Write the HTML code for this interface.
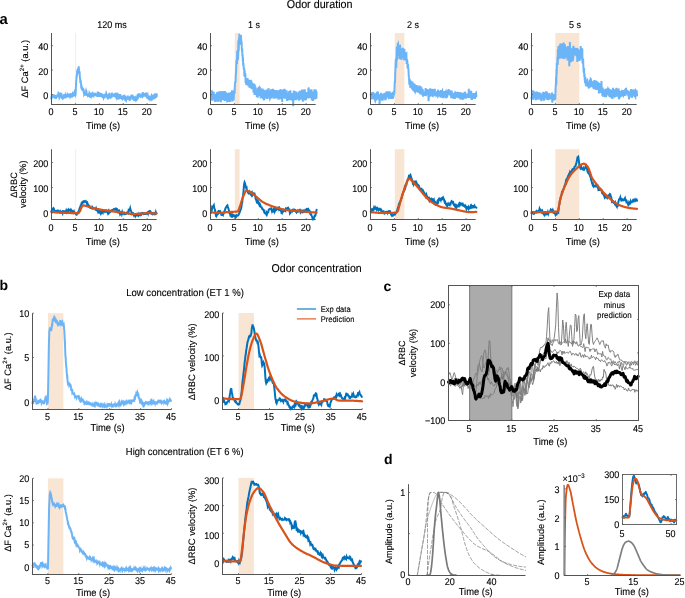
<!DOCTYPE html><html><head><meta charset="utf-8"><style>html,body{margin:0;padding:0;background:#fff;}svg{display:block;}#w{will-change:transform;width:685px;height:598px;overflow:hidden;}</style></head><body><div id="w">
<svg width="685" height="598" viewBox="0 0 685 598" text-rendering="geometricPrecision" stroke-linejoin="round" font-family='"Liberation Sans", sans-serif'>
<rect width="685" height="598" fill="#fff"/>
<text x="-0.60" y="23.60" font-size="14.8" text-anchor="start" font-weight="bold" fill="#000" >a</text>
<text transform="translate(286.80,7.90) scale(0.93,1)" font-size="11.56" text-anchor="start" font-weight="normal" fill="#000000"  stroke="#000000" stroke-width="0.12">Odor duration</text>
<text transform="translate(111.90,28.00) scale(0.93,1)" font-size="9.68" text-anchor="middle" font-weight="normal" fill="#000000"  stroke="#000000" stroke-width="0.12">120 ms</text>
<rect x="75.21" y="33.00" width="0.90" height="71.50" fill="#fbe9dc" />
<rect x="75.21" y="149.20" width="0.90" height="70.30" fill="#fbe9dc" />
<text transform="translate(254.00,28.00) scale(0.93,1)" font-size="9.68" text-anchor="middle" font-weight="normal" fill="#000000"  stroke="#000000" stroke-width="0.12">1 s</text>
<rect x="234.81" y="33.00" width="4.78" height="71.50" fill="#f9e5d3" />
<rect x="234.81" y="149.20" width="4.78" height="70.30" fill="#f9e5d3" />
<text transform="translate(413.00,28.00) scale(0.93,1)" font-size="9.68" text-anchor="middle" font-weight="normal" fill="#000000"  stroke="#000000" stroke-width="0.12">2 s</text>
<rect x="394.81" y="33.00" width="9.56" height="71.50" fill="#f9e5d3" />
<rect x="394.81" y="149.20" width="9.56" height="70.30" fill="#f9e5d3" />
<text transform="translate(575.00,28.00) scale(0.93,1)" font-size="9.68" text-anchor="middle" font-weight="normal" fill="#000000"  stroke="#000000" stroke-width="0.12">5 s</text>
<rect x="555.41" y="33.00" width="23.91" height="71.50" fill="#f9e5d3" />
<rect x="555.41" y="149.20" width="23.91" height="70.30" fill="#f9e5d3" />
<polyline points="51.40,98.77 51.60,95.57 51.80,98.27 52.00,95.19 52.20,96.45 52.40,94.63 52.60,96.46 52.80,97.01 53.00,95.12 53.20,97.47 53.40,96.73 53.60,94.36 53.80,95.50 54.00,96.63 54.20,97.23 54.40,98.03 54.60,94.93 54.80,97.49 55.00,94.95 55.20,98.67 55.40,95.51 55.60,98.20 55.80,96.10 56.00,98.90 56.20,97.33 56.40,96.36 56.60,96.17 56.80,96.97 57.00,95.30 57.20,97.30 57.40,96.23 57.60,94.33 57.80,97.23 58.00,96.14 58.20,94.80 58.40,93.64 58.60,94.07 58.80,94.40 59.00,94.38 59.20,96.01 59.40,97.52 59.60,97.05 59.80,94.30 60.00,92.69 60.20,94.55 60.40,94.45 60.60,95.67 60.80,94.90 61.00,95.25 61.20,93.06 61.40,93.96 61.60,96.93 61.80,98.73 62.00,97.83 62.20,98.16 62.40,97.51 62.60,97.02 62.80,99.32 63.00,97.89 63.20,97.24 63.40,95.54 63.60,98.06 63.80,94.41 64.00,97.93 64.20,98.41 64.40,95.75 64.60,97.45 64.80,95.55 65.00,95.78 65.20,96.91 65.40,95.39 65.60,96.14 65.80,95.33 66.00,96.06 66.20,96.97 66.40,96.77 66.60,96.33 66.80,96.26 67.00,96.07 67.20,95.53 67.40,95.01 67.60,95.84 67.80,97.39 68.00,95.01 68.20,97.42 68.40,95.87 68.60,95.62 68.80,96.79 69.00,95.61 69.20,93.65 69.40,95.92 69.60,96.32 69.80,93.49 70.00,96.61 70.20,94.83 70.40,94.67 70.60,96.51 70.80,95.65 71.00,94.40 71.20,94.53 71.40,96.06 71.60,97.67 71.80,94.20 72.00,94.87 72.20,94.46 72.40,97.13 72.60,95.19 72.80,94.67 73.00,93.84 73.20,96.52 73.40,94.50 73.60,92.51 73.80,95.89 74.00,92.99 74.20,92.79 74.40,92.25 74.60,93.44 74.80,95.90 75.00,92.94 75.20,94.30 75.40,95.19 75.60,94.78 75.80,91.04 76.00,84.28 76.20,81.20 76.40,79.17 76.60,75.58 76.80,76.54 77.00,74.48 77.20,70.66 77.40,71.25 77.60,70.30 77.80,68.60 78.00,70.23 78.20,70.05 78.40,69.64 78.60,67.31 78.80,67.32 79.00,70.98 79.20,74.20 79.40,71.73 79.60,71.90 79.80,76.46 80.00,78.90 80.20,79.52 80.40,83.31 80.60,82.08 80.80,81.84 81.00,83.72 81.20,86.64 81.40,86.43 81.60,86.21 81.80,87.06 82.00,89.84 82.20,87.53 82.40,88.21 82.60,91.05 82.80,88.11 83.00,89.51 83.20,88.48 83.40,91.44 83.60,89.08 83.80,93.40 84.00,90.95 84.20,94.30 84.40,93.93 84.60,92.96 84.80,93.37 85.00,93.23 85.20,92.73 85.40,95.77 85.60,92.76 85.80,92.59 86.00,91.94 86.20,90.74 86.40,91.23 86.60,93.39 86.80,95.23 87.00,93.50 87.20,95.92 87.40,94.03 87.60,94.77 87.80,94.19 88.00,95.72 88.20,95.80 88.40,95.49 88.60,93.42 88.80,95.37 89.00,94.82 89.20,95.01 89.40,93.33 89.60,93.77 89.80,95.08 90.00,97.71 90.20,95.39 90.40,93.24 90.60,95.17 90.80,94.23 91.00,92.56 91.20,94.39 91.40,93.34 91.60,96.04 91.80,95.66 92.00,94.31 92.20,96.22 92.40,94.73 92.60,96.95 92.80,96.11 93.00,94.04 93.20,94.40 93.40,94.39 93.60,94.82 93.80,92.84 94.00,93.45 94.20,94.15 94.40,95.01 94.60,93.54 94.80,96.02 95.00,92.88 95.20,95.85 95.40,93.25 95.60,94.95 95.80,93.52 96.00,95.33 96.20,93.34 96.40,96.17 96.60,94.43 96.80,96.60 97.00,93.81 97.20,96.80 97.40,94.50 97.60,93.14 97.80,91.67 98.00,93.94 98.20,96.29 98.40,93.80 98.60,95.99 98.80,92.25 99.00,93.26 99.20,97.00 99.40,94.85 99.60,93.36 99.80,95.12 100.00,95.69 100.20,93.44 100.40,94.81 100.60,96.93 100.80,94.44 101.00,92.97 101.20,96.23 101.40,95.26 101.60,96.03 101.80,96.52 102.00,93.79 102.20,94.63 102.40,97.02 102.60,97.53 102.80,95.66 103.00,96.20 103.20,97.45 103.40,96.43 103.60,97.45 103.80,96.85 104.00,96.98 104.20,95.34 104.40,95.44 104.60,95.23 104.80,95.75 105.00,96.72 105.20,93.79 105.40,94.23 105.60,95.54 105.80,95.16 106.00,94.10 106.20,93.29 106.40,93.86 106.60,97.03 106.80,95.59 107.00,95.16 107.20,95.21 107.40,98.40 107.60,95.78 107.80,97.27 108.00,96.99 108.20,97.22 108.40,99.28 108.60,96.78 108.80,93.70 109.00,96.46 109.20,96.78 109.40,96.74 109.60,92.80 109.80,97.38 110.00,96.48 110.20,96.67 110.40,97.16 110.60,97.46 110.80,97.16 111.00,95.45 111.20,96.74 111.40,97.95 111.60,97.05 111.80,95.07 112.00,95.40 112.20,96.55 112.40,95.51 112.60,96.12 112.80,94.61 113.00,94.69 113.20,93.81 113.40,95.63 113.60,93.51 113.80,95.89 114.00,95.94 114.20,95.86 114.40,95.46 114.60,94.55 114.80,94.30 115.00,94.52 115.20,93.29 115.40,96.86 115.60,97.61 115.80,95.89 116.00,92.67 116.20,97.58 116.40,96.90 116.60,99.16 116.80,98.07 117.00,95.01 117.20,97.45 117.40,97.03 117.60,98.43 117.80,97.20 118.00,94.32 118.20,94.48 118.40,98.31 118.60,99.55 118.80,95.47 119.00,94.25 119.20,97.07 119.40,94.48 119.60,96.76 119.80,98.67 120.00,97.86 120.20,94.00 120.40,95.76 120.60,98.29 120.80,95.49 121.00,97.31 121.20,98.60 121.40,96.42 121.60,95.58 121.80,98.64 122.00,98.88 122.20,97.37 122.40,98.59 122.60,99.82 122.80,95.63 123.00,98.07 123.20,96.59 123.40,97.87 123.60,98.76 123.80,95.73 124.00,94.87 124.20,97.41 124.40,98.92 124.60,96.43 124.80,99.52 125.00,99.75 125.20,99.02 125.40,98.45 125.60,99.55 125.80,99.50 126.00,99.85 126.20,96.67 126.40,99.75 126.60,97.24 126.80,99.49 127.00,98.82 127.20,99.68 127.40,97.66 127.60,97.36 127.80,99.62 128.00,98.38 128.20,99.46 128.40,97.34 128.60,98.12 128.80,99.63 129.00,96.35 129.20,98.45 129.40,99.79 129.60,99.90 129.80,96.96 130.00,97.77 130.20,99.71 130.40,98.53 130.60,99.62 130.80,95.98 131.00,96.89 131.20,95.44 131.40,98.35 131.60,94.77 131.80,95.85 132.00,97.09 132.20,94.72 132.40,96.79 132.60,97.89 132.80,95.59 133.00,98.95 133.20,99.17 133.40,97.01 133.60,99.83 133.80,98.58 134.00,99.61 134.20,100.90 134.40,96.38 134.60,98.47 134.80,100.21 135.00,100.65 135.20,98.05 135.40,98.64 135.60,97.76 135.80,98.04 136.00,98.97 136.20,99.79 136.40,99.40 136.60,98.23 136.80,97.19 137.00,99.08 137.20,96.15 137.40,95.59 137.60,95.93 137.80,94.98 138.00,98.00 138.20,97.69 138.40,95.52 138.60,95.40 138.80,94.68 139.00,93.52 139.20,94.54 139.40,95.45 139.60,93.27 139.80,96.88 140.00,94.55 140.20,95.16 140.40,94.36 140.60,95.24 140.80,97.77 141.00,94.56 141.20,96.39 141.40,97.50 141.60,95.87 141.80,97.23 142.00,94.95 142.20,95.94 142.40,92.84 142.60,95.58 142.80,92.24 143.00,93.33 143.20,95.80 143.40,95.45 143.60,94.30 143.80,93.20 144.00,93.82 144.20,94.94 144.40,93.88 144.60,95.12 144.80,96.68 145.00,93.69 145.20,95.04 145.40,96.61 145.60,94.12 145.80,96.03 146.00,92.63 146.20,93.65 146.40,96.18 146.60,95.31 146.80,97.82 147.00,96.22 147.20,94.88 147.40,94.57 147.60,98.91 147.80,94.98 148.00,98.68 148.20,98.11 148.40,98.71 148.60,98.89 148.80,96.60 149.00,95.79 149.20,98.95 149.40,97.18 149.60,95.48 149.80,99.61 150.00,97.49 150.20,98.43 150.40,97.84 150.60,96.74 150.80,98.78 151.00,99.00 151.20,95.96 151.40,96.62 151.60,98.73 151.80,95.50 152.00,95.77 152.20,99.07 152.40,99.18 152.60,98.45 152.80,94.90 153.00,96.72 153.20,98.30 153.40,97.49 153.60,95.26 153.80,98.33 154.00,96.05 154.20,95.44 154.40,95.72 154.60,99.18 154.80,96.17 155.00,96.95 155.20,98.08 155.40,93.31 155.60,97.90 155.80,94.74 156.00,97.69 156.20,95.24 156.40,96.60 156.60,96.47 156.80,94.20" fill="none" stroke="#6cb4f8" stroke-width="2.0" stroke-linejoin="miter" stroke-linecap="round" />
<polyline points="211.00,91.85 211.20,96.12 211.40,97.25 211.60,90.28 211.80,91.76 212.00,100.49 212.20,90.99 212.40,91.59 212.60,100.68 212.80,97.28 213.00,94.35 213.20,95.86 213.40,97.66 213.60,93.69 213.80,91.81 214.00,98.76 214.20,97.67 214.40,96.04 214.60,99.55 214.80,96.77 215.00,102.07 215.20,93.94 215.40,98.15 215.60,97.52 215.80,96.22 216.00,98.63 216.20,94.40 216.40,100.68 216.60,101.60 216.80,92.81 217.00,96.34 217.20,93.64 217.40,91.89 217.60,101.46 217.80,96.62 218.00,93.67 218.20,99.40 218.40,93.80 218.60,101.77 218.80,93.94 219.00,91.70 219.20,93.39 219.40,94.43 219.60,95.43 219.80,94.73 220.00,98.66 220.20,94.85 220.40,91.12 220.60,92.82 220.80,102.12 221.00,96.22 221.20,98.79 221.40,91.73 221.60,91.31 221.80,100.30 222.00,96.90 222.20,93.82 222.40,94.02 222.60,91.59 222.80,92.16 223.00,96.66 223.20,99.90 223.40,95.48 223.60,91.36 223.80,98.32 224.00,92.38 224.20,91.19 224.40,97.38 224.60,100.98 224.80,90.95 225.00,99.86 225.20,93.05 225.40,92.31 225.60,91.72 225.80,94.49 226.00,99.14 226.20,96.37 226.40,100.71 226.60,93.96 226.80,93.85 227.00,93.07 227.20,101.12 227.40,100.97 227.60,94.71 227.80,96.53 228.00,95.48 228.20,100.40 228.40,92.73 228.60,93.50 228.80,97.56 229.00,95.85 229.20,102.08 229.40,100.89 229.60,98.14 229.80,98.94 230.00,98.89 230.20,99.56 230.40,101.63 230.60,92.58 230.80,97.91 231.00,92.13 231.20,95.25 231.40,98.54 231.60,99.75 231.80,98.40 232.00,90.37 232.20,93.91 232.40,91.84 232.60,101.47 232.80,92.12 233.00,93.55 233.20,94.86 233.40,91.55 233.60,100.52 233.80,97.66 234.00,92.41 234.20,91.36 234.40,89.62 234.60,93.74 234.80,87.46 235.00,83.20 235.20,81.69 235.40,82.99 235.60,80.98 235.80,74.19 236.00,72.94 236.20,66.64 236.40,61.34 236.60,60.39 236.80,59.58 237.00,63.99 237.20,52.77 237.40,50.43 237.60,56.11 237.80,60.28 238.00,58.16 238.20,52.26 238.40,40.58 238.60,51.27 238.80,48.05 239.00,38.16 239.20,41.90 239.40,33.70 239.60,44.82 239.80,43.10 240.00,44.12 240.20,43.49 240.40,35.20 240.60,43.96 240.80,35.90 241.00,35.06 241.20,40.02 241.40,42.89 241.60,41.25 241.80,48.79 242.00,51.50 242.20,48.31 242.40,55.99 242.60,54.32 242.80,61.31 243.00,57.28 243.20,65.64 243.40,63.18 243.60,66.29 243.80,68.49 244.00,68.46 244.20,67.92 244.40,76.24 244.60,70.02 244.80,74.06 245.00,76.94 245.20,73.11 245.40,75.31 245.60,82.08 245.80,83.14 246.00,82.32 246.20,84.92 246.40,84.06 246.60,79.74 246.80,83.26 247.00,80.03 247.20,84.41 247.40,80.91 247.60,78.00 247.80,85.32 248.00,84.51 248.20,85.43 248.40,83.84 248.60,86.34 248.80,83.55 249.00,84.77 249.20,79.90 249.40,85.12 249.60,87.75 249.80,86.34 250.00,86.55 250.20,83.59 250.40,87.60 250.60,79.75 250.80,87.51 251.00,82.71 251.20,80.41 251.40,85.73 251.60,83.71 251.80,84.15 252.00,89.22 252.20,82.53 252.40,87.75 252.60,85.75 252.80,87.40 253.00,87.63 253.20,84.20 253.40,89.04 253.60,92.71 253.80,85.55 254.00,83.57 254.20,84.64 254.40,89.38 254.60,94.98 254.80,84.57 255.00,95.04 255.20,90.52 255.40,86.61 255.60,89.95 255.80,88.23 256.00,94.15 256.20,92.57 256.40,89.76 256.60,90.03 256.80,96.95 257.00,95.58 257.20,91.62 257.40,91.42 257.60,94.79 257.80,97.80 258.00,87.78 258.20,88.86 258.40,91.04 258.60,93.28 258.80,88.50 259.00,88.70 259.20,90.40 259.40,92.48 259.60,95.83 259.80,94.77 260.00,88.08 260.20,88.39 260.40,92.85 260.60,97.67 260.80,98.15 261.00,92.08 261.20,97.22 261.40,97.69 261.60,91.97 261.80,96.00 262.00,91.33 262.20,88.66 262.40,93.51 262.60,88.44 262.80,95.33 263.00,97.59 263.20,98.93 263.40,92.98 263.60,89.76 263.80,99.02 264.00,98.91 264.20,100.27 264.40,95.80 264.60,96.42 264.80,92.95 265.00,90.20 265.20,91.86 265.40,96.38 265.60,91.67 265.80,95.65 266.00,93.30 266.20,92.92 266.40,98.53 266.60,89.41 266.80,93.74 267.00,90.31 267.20,98.90 267.40,94.10 267.60,92.10 267.80,90.23 268.00,94.72 268.20,92.23 268.40,89.89 268.60,88.24 268.80,91.99 269.00,94.09 269.20,93.56 269.40,97.46 269.60,97.95 269.80,98.55 270.00,97.78 270.20,94.33 270.40,95.04 270.60,92.89 270.80,93.10 271.00,89.40 271.20,98.59 271.40,91.97 271.60,89.37 271.80,94.12 272.00,96.12 272.20,97.16 272.40,92.89 272.60,96.52 272.80,90.47 273.00,88.90 273.20,95.54 273.40,94.44 273.60,98.71 273.80,93.91 274.00,98.40 274.20,90.45 274.40,90.00 274.60,96.24 274.80,95.41 275.00,90.19 275.20,90.99 275.40,92.88 275.60,92.63 275.80,95.26 276.00,98.36 276.20,92.84 276.40,91.59 276.60,96.07 276.80,89.99 277.00,94.94 277.20,94.04 277.40,95.27 277.60,91.33 277.80,97.02 278.00,97.35 278.20,97.90 278.40,99.60 278.60,92.46 278.80,95.21 279.00,93.02 279.20,89.98 279.40,97.65 279.60,96.00 279.80,98.47 280.00,97.89 280.20,99.18 280.40,90.48 280.60,89.26 280.80,91.62 281.00,94.22 281.20,97.20 281.40,94.35 281.60,94.96 281.80,97.32 282.00,89.52 282.20,101.98 282.40,89.92 282.60,91.76 282.80,97.24 283.00,96.62 283.20,93.75 283.40,92.65 283.60,98.35 283.80,92.51 284.00,89.62 284.20,91.49 284.40,88.76 284.60,97.35 284.80,89.40 285.00,98.80 285.20,90.51 285.40,92.34 285.60,95.13 285.80,92.25 286.00,93.69 286.20,90.98 286.40,93.89 286.60,90.33 286.80,92.83 287.00,101.05 287.20,93.93 287.40,94.13 287.60,98.83 287.80,100.55 288.00,94.07 288.20,95.36 288.40,99.43 288.60,100.29 288.80,96.83 289.00,91.90 289.20,91.47 289.40,97.76 289.60,97.34 289.80,99.50 290.00,98.43 290.20,93.95 290.40,90.28 290.60,100.06 290.80,97.59 291.00,96.48 291.20,97.66 291.40,94.28 291.60,94.24 291.80,96.77 292.00,95.76 292.20,98.68 292.40,100.65 292.60,99.22 292.80,94.06 293.00,93.80 293.20,106.17 293.40,94.17 293.60,98.43 293.80,90.43 294.00,94.63 294.20,95.89 294.40,99.62 294.60,100.02 294.80,91.98 295.00,96.72 295.20,96.89 295.40,91.32 295.60,99.15 295.80,95.53 296.00,100.20 296.20,91.75 296.40,96.24 296.60,93.33 296.80,96.91 297.00,96.13 297.20,95.63 297.40,93.38 297.60,95.68 297.80,93.97 298.00,99.57 298.20,94.53 298.40,95.45 298.60,93.21 298.80,93.44 299.00,100.76 299.20,93.01 299.40,99.11 299.60,95.59 299.80,99.90 300.00,90.67 300.20,98.99 300.40,96.94 300.60,94.41 300.80,96.55 301.00,96.91 301.20,94.08 301.40,96.60 301.60,91.98 301.80,89.54 302.00,97.16 302.20,95.01 302.40,100.56 302.60,93.16 302.80,99.86 303.00,101.69 303.20,100.48 303.40,101.02 303.60,91.36 303.80,91.43 304.00,91.95 304.20,89.45 304.40,90.41 304.60,90.56 304.80,89.33 305.00,100.03 305.20,93.81 305.40,96.91 305.60,94.97 305.80,99.15 306.00,100.21 306.20,95.29 306.40,97.14 306.60,92.03 306.80,93.81 307.00,92.63 307.20,93.89 307.40,94.25 307.60,96.32 307.80,93.26 308.00,92.83 308.20,98.52 308.40,88.54 308.60,88.38 308.80,89.18 309.00,97.92 309.20,94.77 309.40,95.79 309.60,98.20 309.80,89.83 310.00,97.86 310.20,90.34 310.40,93.64 310.60,95.33 310.80,97.27 311.00,91.29 311.20,93.98 311.40,89.37 311.60,92.15 311.80,100.32 312.00,99.88 312.20,96.31 312.40,98.98 312.60,100.29 312.80,93.54 313.00,100.85 313.20,94.79 313.40,91.45 313.60,95.72 313.80,96.03 314.00,97.29 314.20,96.68 314.40,89.36 314.60,95.86 314.80,99.43 315.00,95.93 315.20,99.30 315.40,94.10 315.60,97.49 315.80,89.59 316.00,98.59 316.20,93.20 316.40,98.79 316.60,92.37" fill="none" stroke="#6cb4f8" stroke-width="2.0" stroke-linejoin="miter" stroke-linecap="round" />
<polyline points="370.80,93.66 371.00,99.51 371.20,93.60 371.40,93.61 371.60,95.22 371.80,93.89 372.00,96.79 372.20,92.27 372.40,98.36 372.60,99.04 372.80,91.95 373.00,95.95 373.20,92.51 373.40,93.17 373.60,94.92 373.80,95.56 374.00,95.60 374.20,99.37 374.40,94.07 374.60,93.65 374.80,98.25 375.00,99.99 375.20,100.56 375.40,99.66 375.60,93.30 375.80,101.01 376.00,98.35 376.20,99.47 376.40,95.52 376.60,93.03 376.80,97.46 377.00,92.00 377.20,97.28 377.40,92.30 377.60,91.45 377.80,97.80 378.00,92.33 378.20,99.76 378.40,93.68 378.60,98.07 378.80,96.53 379.00,95.65 379.20,94.61 379.40,99.61 379.60,104.12 379.80,98.16 380.00,96.97 380.20,97.54 380.40,95.95 380.60,96.10 380.80,98.78 381.00,93.72 381.20,92.89 381.40,99.26 381.60,99.34 381.80,96.18 382.00,98.88 382.20,98.77 382.40,100.84 382.60,93.95 382.80,100.27 383.00,97.53 383.20,96.32 383.40,97.72 383.60,96.40 383.80,95.26 384.00,93.69 384.20,98.62 384.40,97.88 384.60,92.75 384.80,94.93 385.00,98.02 385.20,99.37 385.40,100.26 385.60,94.25 385.80,99.39 386.00,97.67 386.20,92.25 386.40,92.99 386.60,93.02 386.80,91.46 387.00,96.10 387.20,93.02 387.40,96.29 387.60,91.20 387.80,97.27 388.00,96.70 388.20,97.05 388.40,95.32 388.60,94.82 388.80,92.86 389.00,98.79 389.20,92.68 389.40,95.57 389.60,92.29 389.80,91.50 390.00,96.40 390.20,98.27 390.40,94.70 390.60,97.95 390.80,98.78 391.00,96.32 391.20,98.85 391.40,95.17 391.60,94.00 391.80,94.75 392.00,92.82 392.20,93.40 392.40,98.10 392.60,98.77 392.80,91.73 393.00,97.09 393.20,97.28 393.40,96.71 393.60,94.91 393.80,94.43 394.00,95.25 394.20,90.25 394.40,93.32 394.60,85.15 394.80,81.10 395.00,82.86 395.20,73.50 395.40,69.58 395.60,64.11 395.80,60.02 396.00,58.63 396.20,67.84 396.40,62.15 396.60,54.85 396.80,46.49 397.00,60.26 397.20,53.75 397.40,59.41 397.60,52.47 397.80,44.16 398.00,43.83 398.20,55.73 398.40,45.96 398.60,44.73 398.80,49.29 399.00,46.47 399.20,46.49 399.40,55.61 399.60,50.28 399.80,59.09 400.00,44.68 400.20,48.02 400.40,57.70 400.60,50.62 400.80,57.21 401.00,52.14 401.20,51.81 401.40,59.97 401.60,51.58 401.80,55.65 402.00,56.24 402.20,48.40 402.40,49.10 402.60,51.28 402.80,47.74 403.00,58.31 403.20,56.40 403.40,53.24 403.60,54.67 403.80,49.28 404.00,54.29 404.20,60.51 404.40,48.78 404.60,57.41 404.80,57.72 405.00,52.33 405.20,53.01 405.40,52.03 405.60,57.10 405.80,55.14 406.00,52.78 406.20,55.23 406.40,54.85 406.60,64.09 406.80,60.48 407.00,59.72 407.20,60.02 407.40,62.25 407.60,68.23 407.80,64.35 408.00,64.71 408.20,68.76 408.40,69.05 408.60,72.22 408.80,77.29 409.00,76.49 409.20,82.25 409.40,84.75 409.60,78.90 409.80,85.15 410.00,84.49 410.20,87.75 410.40,81.64 410.60,86.88 410.80,82.78 411.00,81.60 411.20,81.82 411.40,88.02 411.60,84.09 411.80,87.64 412.00,87.55 412.20,87.97 412.40,88.78 412.60,81.59 412.80,90.19 413.00,87.52 413.20,88.70 413.40,88.37 413.60,89.59 413.80,89.94 414.00,88.16 414.20,83.55 414.40,88.69 414.60,83.81 414.80,86.59 415.00,86.67 415.20,86.24 415.40,86.28 415.60,91.51 415.80,91.18 416.00,88.92 416.20,90.25 416.40,85.04 416.60,86.96 416.80,90.47 417.00,88.08 417.20,88.69 417.40,90.52 417.60,86.21 417.80,92.24 418.00,88.06 418.20,85.52 418.40,88.90 418.60,93.02 418.80,88.39 419.00,86.22 419.20,87.99 419.40,91.28 419.60,87.41 419.80,87.09 420.00,87.66 420.20,93.18 420.40,94.36 420.60,87.41 420.80,90.59 421.00,91.61 421.20,86.43 421.40,93.40 421.60,92.41 421.80,92.63 422.00,90.96 422.20,94.05 422.40,93.99 422.60,89.79 422.80,89.92 423.00,96.65 423.20,92.73 423.40,91.85 423.60,95.89 423.80,93.98 424.00,93.87 424.20,93.91 424.40,94.02 424.60,92.66 424.80,95.29 425.00,93.75 425.20,94.20 425.40,93.99 425.60,87.93 425.80,96.04 426.00,94.75 426.20,88.98 426.40,94.00 426.60,93.71 426.80,91.61 427.00,90.23 427.20,92.16 427.40,89.01 427.60,91.31 427.80,93.28 428.00,94.80 428.20,93.90 428.40,96.30 428.60,101.18 428.80,96.77 429.00,94.75 429.20,91.93 429.40,89.81 429.60,93.88 429.80,93.15 430.00,88.45 430.20,89.87 430.40,96.53 430.60,94.57 430.80,95.24 431.00,90.49 431.20,91.31 431.40,92.87 431.60,91.70 431.80,88.70 432.00,91.68 432.20,93.37 432.40,90.98 432.60,95.61 432.80,95.75 433.00,89.09 433.20,91.75 433.40,92.67 433.60,91.19 433.80,95.67 434.00,89.94 434.20,95.08 434.40,91.02 434.60,95.61 434.80,88.70 435.00,95.16 435.20,96.16 435.40,94.02 435.60,93.15 435.80,93.66 436.00,91.38 436.20,92.59 436.40,94.48 436.60,94.07 436.80,93.61 437.00,96.55 437.20,91.35 437.40,95.40 437.60,96.64 437.80,92.00 438.00,89.69 438.20,95.92 438.40,95.62 438.60,93.52 438.80,96.26 439.00,90.71 439.20,95.16 439.40,94.54 439.60,93.07 439.80,96.33 440.00,90.69 440.20,92.63 440.40,93.63 440.60,97.73 440.80,96.05 441.00,89.91 441.20,94.22 441.40,90.36 441.60,91.98 441.80,96.99 442.00,91.26 442.20,90.91 442.40,97.68 442.60,92.32 442.80,95.47 443.00,92.75 443.20,98.11 443.40,96.39 443.60,96.54 443.80,91.14 444.00,92.92 444.20,96.79 444.40,92.35 444.60,91.06 444.80,97.58 445.00,92.70 445.20,95.51 445.40,92.52 445.60,92.11 445.80,94.67 446.00,96.41 446.20,97.51 446.40,98.16 446.60,94.81 446.80,96.20 447.00,93.31 447.20,97.46 447.40,92.66 447.60,90.62 447.80,91.51 448.00,90.39 448.20,94.65 448.40,90.36 448.60,89.16 448.80,91.50 449.00,95.31 449.20,91.97 449.40,91.23 449.60,91.28 449.80,90.80 450.00,94.38 450.20,93.25 450.40,94.88 450.60,90.25 450.80,95.86 451.00,93.66 451.20,97.67 451.40,98.09 451.60,90.44 451.80,95.29 452.00,93.02 452.20,96.16 452.40,92.45 452.60,96.08 452.80,97.89 453.00,96.49 453.20,94.77 453.40,97.51 453.60,98.88 453.80,94.08 454.00,93.16 454.20,94.99 454.40,95.13 454.60,94.57 454.80,98.87 455.00,92.88 455.20,92.40 455.40,92.63 455.60,95.92 455.80,94.30 456.00,96.00 456.20,97.58 456.40,94.58 456.60,92.63 456.80,95.75 457.00,93.02 457.20,93.78 457.40,91.74 457.60,96.21 457.80,93.40 458.00,97.45 458.20,94.85 458.40,98.26 458.60,94.48 458.80,97.99 459.00,92.15 459.20,94.56 459.40,94.63 459.60,95.36 459.80,93.32 460.00,94.02 460.20,99.56 460.40,92.16 460.60,96.10 460.80,99.43 461.00,95.53 461.20,95.31 461.40,95.57 461.60,92.95 461.80,93.60 462.00,97.53 462.20,96.98 462.40,93.62 462.60,95.92 462.80,99.93 463.00,93.55 463.20,98.33 463.40,98.90 463.60,95.67 463.80,92.67 464.00,95.76 464.20,98.28 464.40,97.32 464.60,98.53 464.80,95.92 465.00,91.90 465.20,92.40 465.40,98.17 465.60,95.95 465.80,98.60 466.00,97.80 466.20,95.82 466.40,95.75 466.60,97.67 466.80,93.70 467.00,94.95 467.20,97.82 467.40,96.85 467.60,93.53 467.80,94.69 468.00,93.59 468.20,98.07 468.40,92.98 468.60,96.34 468.80,88.83 469.00,92.09 469.20,91.40 469.40,93.93 469.60,98.00 469.80,95.12 470.00,96.02 470.20,98.00 470.40,95.87 470.60,98.28 470.80,93.21 471.00,94.11 471.20,90.68 471.40,98.27 471.60,99.55 471.80,98.29 472.00,99.94 472.20,93.70 472.40,94.52 472.60,94.36 472.80,95.16 473.00,95.97 473.20,96.14 473.40,93.81 473.60,96.72 473.80,97.67 474.00,98.13 474.20,93.11 474.40,99.06 474.60,93.78 474.80,94.69 475.00,98.88 475.20,93.21 475.40,95.46 475.60,95.04 475.80,93.13 476.00,92.85 476.20,94.25 476.40,96.43" fill="none" stroke="#6cb4f8" stroke-width="2.0" stroke-linejoin="miter" stroke-linecap="round" />
<polyline points="531.50,98.37 531.70,97.84 531.90,97.35 532.10,92.86 532.30,91.03 532.50,98.72 532.70,95.42 532.90,90.20 533.10,98.28 533.30,99.76 533.50,93.63 533.70,98.39 533.90,91.41 534.10,94.87 534.30,97.85 534.50,94.79 534.70,95.58 534.90,91.79 535.10,97.57 535.30,95.67 535.50,93.57 535.70,98.51 535.90,100.10 536.10,96.81 536.30,98.03 536.50,99.96 536.70,91.45 536.90,96.48 537.10,99.59 537.30,92.22 537.50,93.33 537.70,96.39 537.90,97.38 538.10,96.13 538.30,96.75 538.50,92.35 538.70,98.41 538.90,94.69 539.10,92.21 539.30,99.69 539.50,96.88 539.70,95.40 539.90,98.17 540.10,95.64 540.30,92.87 540.50,97.39 540.70,98.53 540.90,98.71 541.10,97.04 541.30,100.27 541.50,100.25 541.70,99.61 541.90,95.28 542.10,94.62 542.30,96.47 542.50,97.46 542.70,93.14 542.90,96.90 543.10,95.62 543.30,91.85 543.50,95.84 543.70,95.47 543.90,100.22 544.10,92.16 544.30,99.63 544.50,99.48 544.70,96.60 544.90,92.90 545.10,98.00 545.30,92.34 545.50,93.89 545.70,96.64 545.90,94.56 546.10,95.02 546.30,93.76 546.50,91.23 546.70,94.32 546.90,98.69 547.10,98.77 547.30,92.53 547.50,97.10 547.70,95.28 547.90,95.41 548.10,100.21 548.30,98.86 548.50,96.06 548.70,95.88 548.90,99.38 549.10,94.24 549.30,98.13 549.50,93.01 549.70,98.18 549.90,95.59 550.10,97.43 550.30,99.41 550.50,94.84 550.70,98.66 550.90,96.41 551.10,96.56 551.30,95.89 551.50,95.00 551.70,98.33 551.90,95.11 552.10,92.61 552.30,102.78 552.50,94.61 552.70,95.98 552.90,99.09 553.10,96.09 553.30,95.58 553.50,93.93 553.70,98.24 553.90,100.66 554.10,98.64 554.30,100.01 554.50,96.07 554.70,96.15 554.90,96.62 555.10,97.60 555.30,99.68 555.50,91.75 555.70,85.39 555.90,85.18 556.10,76.59 556.30,84.58 556.50,68.96 556.70,74.36 556.90,62.84 557.10,64.05 557.30,62.38 557.50,57.09 557.70,65.05 557.90,49.28 558.10,60.11 558.30,50.82 558.50,46.11 558.70,47.44 558.90,55.94 559.10,58.61 559.30,56.18 559.50,47.87 559.70,50.94 559.90,44.44 560.10,49.96 560.30,47.60 560.50,43.54 560.70,48.00 560.90,58.45 561.10,51.92 561.30,47.82 561.50,44.79 561.70,49.01 561.90,44.19 562.10,43.46 562.30,44.80 562.50,55.49 562.70,58.73 562.90,44.53 563.10,53.59 563.30,53.78 563.50,51.24 563.70,42.62 563.90,53.48 564.10,49.04 564.30,57.83 564.50,59.05 564.70,52.92 564.90,44.41 565.10,48.12 565.30,53.68 565.50,57.66 565.70,50.65 565.90,49.70 566.10,53.58 566.30,57.21 566.50,46.84 566.70,53.94 566.90,54.28 567.10,52.01 567.30,50.13 567.50,60.45 567.70,58.31 567.90,47.49 568.10,46.03 568.30,49.96 568.50,58.32 568.70,47.91 568.90,51.04 569.10,56.90 569.30,66.32 569.50,58.98 569.70,58.86 569.90,42.05 570.10,54.31 570.30,57.76 570.50,56.24 570.70,55.76 570.90,59.72 571.10,61.93 571.30,61.41 571.50,50.86 571.70,48.35 571.90,50.75 572.10,59.12 572.30,50.50 572.50,57.36 572.70,54.47 572.90,61.32 573.10,46.79 573.30,58.80 573.50,45.87 573.70,55.71 573.90,54.18 574.10,50.10 574.30,50.50 574.50,52.59 574.70,54.22 574.90,49.32 575.10,53.71 575.30,47.80 575.50,54.28 575.70,54.58 575.90,51.45 576.10,53.02 576.30,54.73 576.50,54.15 576.70,48.12 576.90,48.82 577.10,49.87 577.30,62.04 577.50,54.21 577.70,57.95 577.90,50.06 578.10,55.26 578.30,54.47 578.50,50.67 578.70,51.01 578.90,50.93 579.10,58.86 579.30,58.96 579.50,60.92 579.70,52.36 579.90,54.66 580.10,57.27 580.30,54.49 580.50,59.37 580.70,46.09 580.90,57.04 581.10,47.96 581.30,53.50 581.50,51.94 581.70,53.01 581.90,58.20 582.10,48.54 582.30,49.19 582.50,63.39 582.70,58.76 582.90,59.13 583.10,58.45 583.30,64.63 583.50,68.76 583.70,72.67 583.90,69.52 584.10,69.42 584.30,76.78 584.50,74.14 584.70,79.06 584.90,80.95 585.10,83.08 585.30,76.89 585.50,79.49 585.70,81.62 585.90,85.69 586.10,82.35 586.30,82.43 586.50,86.50 586.70,79.97 586.90,80.77 587.10,80.52 587.30,84.00 587.50,81.30 587.70,82.99 587.90,84.92 588.10,85.17 588.30,87.09 588.50,82.02 588.70,87.93 588.90,88.40 589.10,85.31 589.30,82.38 589.50,88.10 589.70,79.59 589.90,86.55 590.10,84.52 590.30,80.60 590.50,83.58 590.70,79.01 590.90,79.24 591.10,83.64 591.30,86.90 591.50,85.49 591.70,81.00 591.90,81.65 592.10,87.00 592.30,81.46 592.50,87.53 592.70,85.56 592.90,84.15 593.10,85.04 593.30,85.46 593.50,81.41 593.70,89.18 593.90,84.56 594.10,86.09 594.30,80.15 594.50,87.96 594.70,86.44 594.90,82.17 595.10,88.47 595.30,88.54 595.50,84.52 595.70,82.36 595.90,87.68 596.10,80.61 596.30,89.33 596.50,89.75 596.70,81.31 596.90,89.39 597.10,83.11 597.30,88.01 597.50,88.15 597.70,81.91 597.90,83.55 598.10,89.91 598.30,88.22 598.50,87.50 598.70,83.42 598.90,93.40 599.10,82.93 599.30,85.19 599.50,85.19 599.70,83.46 599.90,87.54 600.10,83.55 600.30,92.83 600.50,88.54 600.70,91.19 600.90,89.55 601.10,86.40 601.30,89.78 601.50,81.04 601.70,89.57 601.90,92.52 602.10,88.84 602.30,95.82 602.50,93.55 602.70,87.54 602.90,91.75 603.10,96.63 603.30,91.27 603.50,89.56 603.70,91.66 603.90,93.20 604.10,92.48 604.30,90.60 604.50,92.84 604.70,93.06 604.90,95.19 605.10,97.27 605.30,93.66 605.50,88.68 605.70,89.47 605.90,90.89 606.10,97.11 606.30,88.46 606.50,93.91 606.70,91.43 606.90,90.67 607.10,94.17 607.30,94.83 607.50,95.28 607.70,89.88 607.90,89.17 608.10,89.76 608.30,90.15 608.50,89.90 608.70,92.07 608.90,90.46 609.10,93.51 609.30,96.61 609.50,94.89 609.70,88.97 609.90,97.11 610.10,91.67 610.30,90.33 610.50,91.24 610.70,89.81 610.90,91.99 611.10,93.91 611.30,90.75 611.50,98.11 611.70,92.52 611.90,93.95 612.10,91.20 612.30,96.70 612.50,98.88 612.70,91.90 612.90,87.68 613.10,93.81 613.30,91.16 613.50,89.41 613.70,91.75 613.90,94.61 614.10,93.88 614.30,89.25 614.50,97.19 614.70,92.68 614.90,96.31 615.10,91.69 615.30,96.26 615.50,96.11 615.70,88.88 615.90,96.55 616.10,94.56 616.30,93.15 616.50,87.72 616.70,93.99 616.90,94.54 617.10,96.55 617.30,92.01 617.50,88.89 617.70,95.31 617.90,91.70 618.10,91.33 618.30,95.32 618.50,89.78 618.70,89.71 618.90,99.12 619.10,98.47 619.30,97.44 619.50,94.73 619.70,94.33 619.90,92.45 620.10,90.74 620.30,97.58 620.50,92.90 620.70,96.99 620.90,90.85 621.10,92.20 621.30,93.74 621.50,93.17 621.70,92.08 621.90,91.99 622.10,89.96 622.30,94.46 622.50,93.43 622.70,96.48 622.90,90.16 623.10,94.31 623.30,94.79 623.50,93.27 623.70,93.57 623.90,93.48 624.10,92.10 624.30,93.52 624.50,92.83 624.70,90.66 624.90,95.91 625.10,91.01 625.30,88.86 625.50,93.21 625.70,95.56 625.90,88.91 626.10,88.80 626.30,91.71 626.50,91.19 626.70,89.83 626.90,91.29 627.10,92.43 627.30,90.97 627.50,94.08 627.70,93.38 627.90,93.03 628.10,90.56 628.30,96.33 628.50,95.93 628.70,95.17 628.90,93.33 629.10,99.42 629.30,96.42 629.50,97.65 629.70,95.25 629.90,95.49 630.10,96.13 630.30,91.46 630.50,91.02 630.70,95.65 630.90,91.77 631.10,89.13 631.30,92.82 631.50,96.56 631.70,93.04 631.90,94.80 632.10,97.83 632.30,91.50 632.50,91.33 632.70,89.81 632.90,92.86 633.10,90.72 633.30,94.64 633.50,91.88 633.70,89.22 633.90,95.19 634.10,90.46 634.30,96.55 634.50,91.67 634.70,94.04 634.90,94.76 635.10,96.75 635.30,97.05 635.50,91.50 635.70,90.80 635.90,91.40 636.10,91.86 636.30,96.51 636.50,94.61 636.70,90.23 636.90,94.52 637.10,95.51" fill="none" stroke="#6cb4f8" stroke-width="2.0" stroke-linejoin="miter" stroke-linecap="round" />
<polyline points="51.40,211.10 51.80,210.55 52.20,209.02 52.60,209.15 53.00,208.67 53.40,208.04 53.80,208.44 54.20,210.64 54.60,210.53 55.00,210.69 55.40,211.52 55.80,211.10 56.20,211.18 56.60,210.85 57.00,210.70 57.40,212.31 57.80,212.24 58.20,210.88 58.60,210.65 59.00,211.08 59.40,211.94 59.80,212.43 60.20,212.35 60.60,211.59 61.00,212.87 61.40,212.87 61.80,212.47 62.20,211.97 62.60,213.02 63.00,211.17 63.40,211.23 63.80,211.62 64.20,211.39 64.60,211.90 65.00,211.89 65.40,211.73 65.80,211.84 66.20,210.64 66.60,211.81 67.00,210.72 67.40,211.13 67.80,210.49 68.20,211.41 68.60,209.69 69.00,210.17 69.40,210.43 69.80,210.39 70.20,208.99 70.60,210.96 71.00,209.89 71.40,210.60 71.80,210.85 72.20,210.86 72.60,211.48 73.00,211.70 73.40,212.56 73.80,211.79 74.20,213.73 74.60,212.44 75.00,213.16 75.40,213.08 75.80,213.31 76.20,214.57 76.60,214.73 77.00,213.93 77.40,213.18 77.80,212.51 78.20,212.47 78.60,211.17 79.00,210.96 79.40,208.99 79.80,207.71 80.20,207.30 80.60,205.79 81.00,205.88 81.40,203.85 81.80,202.58 82.20,202.59 82.60,203.03 83.00,201.79 83.40,201.29 83.80,201.50 84.20,201.90 84.60,201.30 85.00,201.61 85.40,201.51 85.80,201.13 86.20,202.12 86.60,202.58 87.00,203.88 87.40,203.23 87.80,205.01 88.20,204.69 88.60,205.14 89.00,206.81 89.40,207.14 89.80,206.76 90.20,207.69 90.60,208.04 91.00,208.10 91.40,207.99 91.80,208.33 92.20,207.14 92.60,207.84 93.00,208.42 93.40,207.96 93.80,208.26 94.20,208.31 94.60,208.54 95.00,208.81 95.40,208.90 95.80,210.45 96.20,208.85 96.60,210.08 97.00,210.30 97.40,210.84 97.80,210.35 98.20,212.15 98.60,211.75 99.00,212.27 99.40,211.18 99.80,211.85 100.20,211.65 100.60,212.86 101.00,211.55 101.40,211.15 101.80,212.25 102.20,210.76 102.60,210.96 103.00,211.92 103.40,210.12 103.80,210.18 104.20,210.79 104.60,210.74 105.00,211.92 105.40,211.80 105.80,211.58 106.20,210.63 106.60,211.11 107.00,211.79 107.40,211.72 107.80,212.87 108.20,211.70 108.60,212.60 109.00,211.20 109.40,212.33 109.80,211.81 110.20,211.98 110.60,211.56 111.00,211.21 111.40,210.27 111.80,210.24 112.20,210.22 112.60,209.94 113.00,209.88 113.40,209.46 113.80,209.01 114.20,209.11 114.60,209.30 115.00,209.57 115.40,209.41 115.80,207.77 116.20,209.62 116.60,209.44 117.00,209.31 117.40,210.94 117.80,210.56 118.20,211.85 118.60,211.29 119.00,212.05 119.40,211.36 119.80,212.98 120.20,211.50 120.60,213.15 121.00,212.24 121.40,212.30 121.80,213.79 122.20,212.21 122.60,213.49 123.00,213.07 123.40,212.73 123.80,212.55 124.20,214.18 124.60,214.20 125.00,214.05 125.40,213.19 125.80,212.97 126.20,213.79 126.60,213.52 127.00,212.63 127.40,212.42 127.80,212.04 128.20,212.62 128.60,210.29 129.00,210.67 129.40,209.50 129.80,209.56 130.20,208.20 130.60,209.98 131.00,210.65 131.40,212.10 131.80,213.51 132.20,212.87 132.60,213.32 133.00,213.15 133.40,214.52 133.80,215.29 134.20,214.07 134.60,214.27 135.00,214.95 135.40,216.05 135.80,215.13 136.20,215.21 136.60,215.02 137.00,215.45 137.40,215.31 137.80,215.54 138.20,214.41 138.60,215.55 139.00,215.00 139.40,213.96 139.80,213.65 140.20,214.52 140.60,213.64 141.00,213.57 141.40,214.25 141.80,213.22 142.20,213.34 142.60,212.96 143.00,213.22 143.40,213.16 143.80,214.13 144.20,214.11 144.60,213.64 145.00,213.97 145.40,214.01 145.80,213.71 146.20,213.97 146.60,213.62 147.00,213.45 147.40,213.65 147.80,211.56 148.20,213.12 148.60,211.68 149.00,211.42 149.40,211.28 149.80,210.99 150.20,211.19 150.60,212.85 151.00,212.66 151.40,213.45 151.80,213.18 152.20,214.03 152.60,214.25 153.00,213.44 153.40,213.09 153.80,213.33 154.20,213.75 154.60,213.31 155.00,214.26 155.40,214.11 155.80,212.32 156.20,213.60 156.60,213.28" fill="none" stroke="#0072bd" stroke-width="2.0" stroke-linejoin="miter" stroke-linecap="round" />
<polyline points="51.40,212.10 51.90,212.13 52.40,212.16 52.90,212.19 53.40,212.22 53.90,212.25 54.40,212.28 54.90,212.31 55.40,212.34 55.90,212.37 56.40,212.39 56.90,212.42 57.40,212.45 57.90,212.47 58.40,212.50 58.90,212.53 59.40,212.55 59.90,212.58 60.40,212.60 60.90,212.62 61.40,212.65 61.90,212.67 62.40,212.69 62.90,212.71 63.40,212.74 63.90,212.76 64.40,212.78 64.90,212.80 65.40,212.82 65.90,212.84 66.40,212.86 66.90,212.88 67.40,212.90 67.90,212.92 68.40,212.94 68.90,212.96 69.40,212.98 69.90,213.00 70.40,213.02 70.90,213.04 71.40,213.06 71.90,213.08 72.40,213.09 72.90,213.11 73.40,213.12 73.90,213.14 74.40,213.15 74.90,213.16 75.40,213.17 75.90,213.18 76.40,213.19 76.90,213.19 77.40,213.20 77.90,213.20 78.40,213.11 78.90,212.66 79.40,211.95 79.90,211.15 80.40,210.21 80.90,208.89 81.40,207.57 81.90,206.61 82.40,206.11 82.90,205.70 83.40,205.45 83.90,205.41 84.40,205.49 84.90,205.64 85.40,205.81 85.90,205.97 86.40,206.11 86.90,206.25 87.40,206.40 87.90,206.54 88.40,206.69 88.90,206.85 89.40,207.00 89.90,207.15 90.40,207.30 90.90,207.44 91.40,207.58 91.90,207.72 92.40,207.85 92.90,207.98 93.40,208.10 93.90,208.21 94.40,208.33 94.90,208.44 95.40,208.54 95.90,208.65 96.40,208.75 96.90,208.86 97.40,208.96 97.90,209.06 98.40,209.16 98.90,209.25 99.40,209.35 99.90,209.44 100.40,209.53 100.90,209.62 101.40,209.71 101.90,209.80 102.40,209.88 102.90,209.97 103.40,210.05 103.90,210.13 104.40,210.22 104.90,210.30 105.40,210.37 105.90,210.45 106.40,210.53 106.90,210.61 107.40,210.68 107.90,210.76 108.40,210.83 108.90,210.90 109.40,210.97 109.90,211.04 110.40,211.11 110.90,211.17 111.40,211.24 111.90,211.31 112.40,211.37 112.90,211.43 113.40,211.50 113.90,211.56 114.40,211.62 114.90,211.69 115.40,211.75 115.90,211.81 116.40,211.87 116.90,211.93 117.40,211.99 117.90,212.05 118.40,212.12 118.90,212.18 119.40,212.24 119.90,212.30 120.40,212.36 120.90,212.42 121.40,212.49 121.90,212.55 122.40,212.61 122.90,212.68 123.40,212.75 123.90,212.83 124.40,212.91 124.90,212.99 125.40,213.07 125.90,213.15 126.40,213.24 126.90,213.32 127.40,213.40 127.90,213.48 128.40,213.55 128.90,213.63 129.40,213.70 129.90,213.76 130.40,213.82 130.90,213.87 131.40,213.91 131.90,213.95 132.40,213.97 132.90,213.99 133.40,214.00 133.90,214.00 134.40,213.99 134.90,213.99 135.40,213.98 135.90,213.96 136.40,213.95 136.90,213.93 137.40,213.91 137.90,213.89 138.40,213.87 138.90,213.85 139.40,213.83 139.90,213.80 140.40,213.78 140.90,213.74 141.40,213.69 141.90,213.63 142.40,213.57 142.90,213.50 143.40,213.44 143.90,213.38 144.40,213.32 144.90,213.27 145.40,213.23 145.90,213.21 146.40,213.20 146.90,213.20 147.40,213.20 147.90,213.20 148.40,213.20 148.90,213.21 149.40,213.21 149.90,213.22 150.40,213.22 150.90,213.23 151.40,213.24 151.90,213.26 152.40,213.28 152.90,213.30 153.40,213.32 153.90,213.35 154.40,213.38 154.90,213.42 155.40,213.46 155.90,213.50 156.40,213.56" fill="none" stroke="#d95319" stroke-width="2.2" stroke-linejoin="round" stroke-linecap="round" />
<polyline points="211.00,212.81 211.40,210.64 211.80,210.32 212.20,206.87 212.60,207.15 213.00,207.28 213.40,205.84 213.80,205.19 214.20,207.88 214.60,208.91 215.00,209.74 215.40,212.64 215.80,214.81 216.20,214.14 216.60,215.72 217.00,214.96 217.40,213.63 217.80,212.63 218.20,213.05 218.60,211.00 219.00,211.01 219.40,211.64 219.80,211.82 220.20,211.51 220.60,212.84 221.00,213.69 221.40,214.96 221.80,215.06 222.20,215.01 222.60,214.18 223.00,214.78 223.40,212.98 223.80,213.18 224.20,211.80 224.60,211.05 225.00,209.79 225.40,208.70 225.80,207.75 226.20,207.13 226.60,206.41 227.00,205.69 227.40,205.36 227.80,207.12 228.20,207.87 228.60,209.28 229.00,210.63 229.40,213.16 229.80,213.38 230.20,214.72 230.60,213.97 231.00,215.48 231.40,216.47 231.80,216.11 232.20,215.05 232.60,216.20 233.00,215.74 233.40,217.06 233.80,215.16 234.20,215.31 234.60,215.58 235.00,216.00 235.40,217.11 235.80,216.20 236.20,216.46 236.60,215.22 237.00,215.39 237.40,215.58 237.80,215.46 238.20,215.29 238.60,214.70 239.00,213.64 239.40,212.94 239.80,212.25 240.20,210.51 240.60,210.01 241.00,208.82 241.40,207.09 241.80,203.80 242.20,202.75 242.60,198.66 243.00,196.13 243.40,193.22 243.80,187.07 244.20,183.79 244.60,182.33 245.00,183.24 245.40,184.75 245.80,187.10 246.20,188.23 246.60,187.80 247.00,190.88 247.40,191.04 247.80,191.47 248.20,192.93 248.60,193.39 249.00,193.11 249.40,193.33 249.80,192.07 250.20,192.90 250.60,194.21 251.00,194.73 251.40,193.53 251.80,194.72 252.20,193.32 252.60,194.70 253.00,193.82 253.40,193.25 253.80,193.27 254.20,194.02 254.60,193.84 255.00,195.61 255.40,196.97 255.80,199.32 256.20,199.89 256.60,201.33 257.00,200.55 257.40,202.23 257.80,202.73 258.20,202.10 258.60,203.82 259.00,203.83 259.40,204.95 259.80,203.99 260.20,204.92 260.60,206.32 261.00,207.10 261.40,207.33 261.80,207.38 262.20,208.94 262.60,208.98 263.00,209.46 263.40,210.06 263.80,210.99 264.20,209.68 264.60,211.76 265.00,213.13 265.40,213.08 265.80,213.26 266.20,214.12 266.60,212.92 267.00,214.16 267.40,213.02 267.80,212.75 268.20,212.37 268.60,210.02 269.00,209.35 269.40,209.24 269.80,209.06 270.20,208.55 270.60,208.46 271.00,208.33 271.40,209.45 271.80,210.75 272.20,209.08 272.60,210.54 273.00,209.85 273.40,211.26 273.80,210.80 274.20,209.58 274.60,211.10 275.00,209.64 275.40,210.33 275.80,209.55 276.20,209.84 276.60,208.98 277.00,209.27 277.40,209.24 277.80,208.00 278.20,207.51 278.60,207.39 279.00,209.04 279.40,208.32 279.80,209.72 280.20,209.63 280.60,210.56 281.00,210.83 281.40,212.35 281.80,211.89 282.20,212.83 282.60,211.93 283.00,211.37 283.40,211.45 283.80,210.23 284.20,210.65 284.60,210.35 285.00,210.73 285.40,211.03 285.80,209.02 286.20,209.53 286.60,209.47 287.00,208.97 287.40,207.93 287.80,208.10 288.20,210.32 288.60,208.71 289.00,209.44 289.40,209.50 289.80,212.37 290.20,211.39 290.60,212.36 291.00,211.48 291.40,211.32 291.80,210.83 292.20,211.19 292.60,209.88 293.00,210.11 293.40,210.40 293.80,209.59 294.20,209.57 294.60,209.80 295.00,210.36 295.40,211.15 295.80,210.62 296.20,211.31 296.60,212.22 297.00,211.42 297.40,210.86 297.80,211.74 298.20,211.56 298.60,211.18 299.00,210.23 299.40,210.23 299.80,209.89 300.20,211.18 300.60,209.45 301.00,211.39 301.40,210.67 301.80,210.66 302.20,212.35 302.60,212.44 303.00,211.04 303.40,211.44 303.80,210.81 304.20,212.12 304.60,212.12 305.00,210.50 305.40,210.37 305.80,209.50 306.20,209.39 306.60,209.13 307.00,210.23 307.40,209.05 307.80,209.23 308.20,208.99 308.60,210.35 309.00,210.38 309.40,210.48 309.80,211.24 310.20,213.57 310.60,214.36 311.00,214.12 311.40,214.80 311.80,216.02 312.20,216.96 312.60,218.70 313.00,218.17 313.40,217.80 313.80,218.52 314.20,217.44 314.60,215.83 315.00,215.96 315.40,215.39 315.80,213.71 316.20,211.46 316.60,209.73" fill="none" stroke="#0072bd" stroke-width="2.0" stroke-linejoin="miter" stroke-linecap="round" />
<polyline points="211.00,212.10 211.50,212.21 212.00,212.30 212.50,212.39 213.00,212.48 213.50,212.56 214.00,212.63 214.50,212.69 215.00,212.75 215.50,212.80 216.00,212.84 216.50,212.88 217.00,212.91 217.50,212.94 218.00,212.96 218.50,212.98 219.00,212.99 219.50,213.00 220.00,213.00 220.50,212.99 221.00,212.97 221.50,212.92 222.00,212.87 222.50,212.81 223.00,212.74 223.50,212.66 224.00,212.57 224.50,212.49 225.00,212.40 225.50,212.32 226.00,212.24 226.50,212.17 227.00,212.10 227.50,212.04 228.00,212.00 228.50,211.97 229.00,211.94 229.50,211.91 230.00,211.89 230.50,211.87 231.00,211.86 231.50,211.85 232.00,211.83 232.50,211.82 233.00,211.81 233.50,211.79 234.00,211.77 234.50,211.75 235.00,211.73 235.50,211.70 236.00,211.66 236.50,211.62 237.00,211.57 237.50,211.51 238.00,211.20 238.50,210.26 239.00,208.92 239.50,207.42 240.00,206.00 240.50,204.59 241.00,203.02 241.50,201.37 242.00,199.76 242.50,198.27 243.00,197.00 243.50,195.83 244.00,194.62 244.50,193.44 245.00,192.38 245.50,191.50 246.00,190.89 246.50,190.61 247.00,190.63 247.50,190.75 248.00,190.94 248.50,191.18 249.00,191.45 249.50,191.73 250.00,192.00 250.50,192.28 251.00,192.59 251.50,192.94 252.00,193.31 252.50,193.70 253.00,194.10 253.50,194.50 254.00,194.91 254.50,195.31 255.00,195.70 255.50,196.09 256.00,196.50 256.50,196.92 257.00,197.35 257.50,197.79 258.00,198.22 258.50,198.66 259.00,199.10 259.50,199.53 260.00,199.95 260.50,200.36 261.00,200.75 261.50,201.12 262.00,201.47 262.50,201.80 263.00,202.10 263.50,202.38 264.00,202.65 264.50,202.92 265.00,203.18 265.50,203.43 266.00,203.68 266.50,203.91 267.00,204.15 267.50,204.37 268.00,204.59 268.50,204.81 269.00,205.02 269.50,205.22 270.00,205.42 270.50,205.61 271.00,205.80 271.50,205.99 272.00,206.17 272.50,206.34 273.00,206.51 273.50,206.67 274.00,206.84 274.50,206.99 275.00,207.15 275.50,207.31 276.00,207.46 276.50,207.61 277.00,207.77 277.50,207.91 278.00,208.06 278.50,208.20 279.00,208.35 279.50,208.48 280.00,208.62 280.50,208.75 281.00,208.88 281.50,209.01 282.00,209.13 282.50,209.25 283.00,209.36 283.50,209.47 284.00,209.57 284.50,209.67 285.00,209.76 285.50,209.85 286.00,209.94 286.50,210.01 287.00,210.09 287.50,210.15 288.00,210.22 288.50,210.28 289.00,210.34 289.50,210.39 290.00,210.45 290.50,210.50 291.00,210.55 291.50,210.60 292.00,210.64 292.50,210.69 293.00,210.73 293.50,210.78 294.00,210.82 294.50,210.86 295.00,210.90 295.50,210.94 296.00,210.98 296.50,211.02 297.00,211.06 297.50,211.10 298.00,211.14 298.50,211.18 299.00,211.22 299.50,211.26 300.00,211.30 300.50,211.34 301.00,211.38 301.50,211.43 302.00,211.47 302.50,211.51 303.00,211.55 303.50,211.59 304.00,211.64 304.50,211.68 305.00,211.72 305.50,211.76 306.00,211.80 306.50,211.84 307.00,211.88 307.50,211.92 308.00,211.96 308.50,212.00 309.00,212.04 309.50,212.08 310.00,212.11 310.50,212.15 311.00,212.19 311.50,212.23 312.00,212.27 312.50,212.30 313.00,212.34 313.50,212.38 314.00,212.41 314.50,212.45 315.00,212.49 315.50,212.52 316.00,212.56 316.50,212.59" fill="none" stroke="#d95319" stroke-width="2.2" stroke-linejoin="round" stroke-linecap="round" />
<polyline points="370.80,210.86 371.20,210.26 371.60,209.66 372.00,210.51 372.40,209.76 372.80,210.56 373.20,209.94 373.60,209.84 374.00,207.97 374.40,208.86 374.80,208.86 375.20,207.61 375.60,208.58 376.00,208.42 376.40,208.11 376.80,209.46 377.20,208.81 377.60,208.17 378.00,208.81 378.40,210.00 378.80,209.30 379.20,208.87 379.60,208.76 380.00,209.92 380.40,210.06 380.80,209.64 381.20,211.01 381.60,210.61 382.00,211.55 382.40,211.48 382.80,211.90 383.20,211.85 383.60,211.51 384.00,213.07 384.40,213.70 384.80,213.43 385.20,212.86 385.60,212.10 386.00,212.15 386.40,212.56 386.80,212.44 387.20,210.93 387.60,212.63 388.00,211.70 388.40,211.42 388.80,211.89 389.20,211.18 389.60,211.14 390.00,211.31 390.40,213.03 390.80,213.74 391.20,214.83 391.60,215.42 392.00,215.83 392.40,215.56 392.80,215.59 393.20,214.39 393.60,214.84 394.00,214.78 394.40,214.63 394.80,214.68 395.20,214.00 395.60,213.40 396.00,212.82 396.40,212.27 396.80,211.42 397.20,210.30 397.60,209.21 398.00,207.54 398.40,206.35 398.80,204.79 399.20,205.36 399.60,202.71 400.00,202.47 400.40,201.17 400.80,200.27 401.20,199.07 401.60,198.04 402.00,195.68 402.40,195.26 402.80,193.42 403.20,192.25 403.60,191.96 404.00,190.66 404.40,189.57 404.80,187.32 405.20,187.98 405.60,186.18 406.00,184.71 406.40,184.60 406.80,181.87 407.20,181.06 407.60,179.71 408.00,178.90 408.40,178.73 408.80,176.45 409.20,176.88 409.60,176.23 410.00,175.50 410.40,177.02 410.80,176.14 411.20,177.45 411.60,178.96 412.00,180.02 412.40,180.92 412.80,182.97 413.20,182.42 413.60,183.80 414.00,182.17 414.40,181.70 414.80,181.49 415.20,183.00 415.60,182.93 416.00,183.73 416.40,182.54 416.80,183.40 417.20,184.11 417.60,185.31 418.00,185.15 418.40,187.26 418.80,187.62 419.20,187.03 419.60,188.90 420.00,188.55 420.40,189.04 420.80,188.90 421.20,190.31 421.60,190.37 422.00,189.59 422.40,190.39 422.80,191.91 423.20,191.16 423.60,192.32 424.00,193.22 424.40,192.91 424.80,194.18 425.20,194.62 425.60,194.53 426.00,196.17 426.40,195.09 426.80,197.00 427.20,196.58 427.60,197.32 428.00,197.46 428.40,199.20 428.80,199.92 429.20,198.97 429.60,200.41 430.00,199.38 430.40,200.07 430.80,199.62 431.20,200.24 431.60,199.10 432.00,199.66 432.40,200.37 432.80,199.24 433.20,199.32 433.60,201.40 434.00,200.39 434.40,202.32 434.80,203.39 435.20,202.84 435.60,204.44 436.00,205.79 436.40,203.61 436.80,204.10 437.20,202.74 437.60,200.44 438.00,200.05 438.40,201.23 438.80,199.31 439.20,199.75 439.60,198.90 440.00,199.39 440.40,199.14 440.80,200.06 441.20,198.32 441.60,198.10 442.00,198.85 442.40,198.12 442.80,198.60 443.20,197.70 443.60,198.53 444.00,199.63 444.40,201.14 444.80,202.31 445.20,201.88 445.60,203.00 446.00,204.40 446.40,204.37 446.80,205.33 447.20,206.19 447.60,204.26 448.00,204.76 448.40,204.63 448.80,203.82 449.20,204.99 449.60,205.19 450.00,203.53 450.40,205.24 450.80,202.63 451.20,202.49 451.60,201.20 452.00,201.49 452.40,202.14 452.80,202.74 453.20,202.42 453.60,204.51 454.00,205.26 454.40,205.70 454.80,205.09 455.20,206.36 455.60,205.82 456.00,207.16 456.40,206.04 456.80,207.08 457.20,206.35 457.60,205.81 458.00,206.12 458.40,205.23 458.80,204.32 459.20,205.18 459.60,203.74 460.00,204.39 460.40,203.80 460.80,204.58 461.20,203.52 461.60,203.47 462.00,204.08 462.40,204.64 462.80,204.11 463.20,205.27 463.60,204.79 464.00,205.08 464.40,206.29 464.80,206.64 465.20,207.03 465.60,206.20 466.00,207.62 466.40,208.75 466.80,207.26 467.20,207.15 467.60,207.98 468.00,208.45 468.40,207.40 468.80,208.69 469.20,207.74 469.60,207.43 470.00,207.81 470.40,206.66 470.80,207.91 471.20,207.89 471.60,205.84 472.00,206.46 472.40,206.10 472.80,206.00 473.20,207.35 473.60,207.05 474.00,206.17 474.40,205.69 474.80,207.07 475.20,206.83 475.60,207.29 476.00,207.37 476.40,207.63" fill="none" stroke="#0072bd" stroke-width="2.0" stroke-linejoin="miter" stroke-linecap="round" />
<polyline points="370.80,212.10 371.30,212.16 371.80,212.22 372.30,212.28 372.80,212.33 373.30,212.39 373.80,212.44 374.30,212.48 374.80,212.53 375.30,212.58 375.80,212.62 376.30,212.66 376.80,212.70 377.30,212.73 377.80,212.76 378.30,212.80 378.80,212.83 379.30,212.85 379.80,212.88 380.30,212.90 380.80,212.92 381.30,212.94 381.80,212.95 382.30,212.97 382.80,212.98 383.30,212.99 383.80,212.99 384.30,213.00 384.80,213.00 385.30,213.00 385.80,213.00 386.30,213.00 386.80,212.99 387.30,212.99 387.80,212.98 388.30,212.97 388.80,212.96 389.30,212.94 389.80,212.93 390.30,212.91 390.80,212.89 391.30,212.86 391.80,212.84 392.30,212.81 392.80,212.78 393.30,212.74 393.80,212.71 394.30,212.66 394.80,212.62 395.30,212.57 395.80,212.52 396.30,212.43 396.80,212.14 397.30,211.70 397.80,211.02 398.30,209.63 398.80,207.76 399.30,205.69 399.80,203.70 400.30,201.99 400.80,200.27 401.30,198.54 401.80,196.81 402.30,195.12 402.80,193.49 403.30,191.95 403.80,190.53 404.30,189.21 404.80,187.82 405.30,186.39 405.80,184.97 406.30,183.60 406.80,182.31 407.30,181.17 407.80,180.20 408.30,179.45 408.80,178.97 409.30,178.80 409.80,178.90 410.30,179.19 410.80,179.60 411.30,180.12 411.80,180.68 412.30,181.26 412.80,181.80 413.30,182.29 413.80,182.79 414.30,183.31 414.80,183.85 415.30,184.40 415.80,184.96 416.30,185.52 416.80,186.09 417.30,186.67 417.80,187.24 418.30,187.81 418.80,188.40 419.30,189.00 419.80,189.62 420.30,190.25 420.80,190.89 421.30,191.53 421.80,192.17 422.30,192.81 422.80,193.44 423.30,194.06 423.80,194.67 424.30,195.27 424.80,195.84 425.30,196.38 425.80,196.91 426.30,197.40 426.80,197.87 427.30,198.34 427.80,198.80 428.30,199.26 428.80,199.70 429.30,200.13 429.80,200.56 430.30,200.97 430.80,201.37 431.30,201.76 431.80,202.13 432.30,202.49 432.80,202.83 433.30,203.16 433.80,203.47 434.30,203.76 434.80,204.04 435.30,204.32 435.80,204.60 436.30,204.87 436.80,205.13 437.30,205.39 437.80,205.64 438.30,205.88 438.80,206.10 439.30,206.32 439.80,206.52 440.30,206.71 440.80,206.88 441.30,207.04 441.80,207.18 442.30,207.30 442.80,207.41 443.30,207.50 443.80,207.59 444.30,207.67 444.80,207.75 445.30,207.82 445.80,207.89 446.30,207.95 446.80,208.01 447.30,208.08 447.80,208.14 448.30,208.20 448.80,208.27 449.30,208.34 449.80,208.42 450.30,208.50 450.80,208.59 451.30,208.68 451.80,208.78 452.30,208.88 452.80,208.98 453.30,209.08 453.80,209.19 454.30,209.30 454.80,209.41 455.30,209.52 455.80,209.63 456.30,209.74 456.80,209.85 457.30,209.96 457.80,210.06 458.30,210.17 458.80,210.27 459.30,210.37 459.80,210.46 460.30,210.56 460.80,210.66 461.30,210.76 461.80,210.87 462.30,210.98 462.80,211.09 463.30,211.20 463.80,211.31 464.30,211.42 464.80,211.52 465.30,211.62 465.80,211.71 466.30,211.80 466.80,211.88 467.30,211.95 467.80,212.00 468.30,212.05 468.80,212.08 469.30,212.10 469.80,212.10 470.30,212.10 470.80,212.10 471.30,212.10 471.80,212.09 472.30,212.08 472.80,212.07 473.30,212.05 473.80,212.03 474.30,212.00 474.80,211.97 475.30,211.92 475.80,211.87 476.30,211.81" fill="none" stroke="#d95319" stroke-width="2.2" stroke-linejoin="round" stroke-linecap="round" />
<polyline points="531.50,213.43 531.90,213.36 532.30,212.41 532.70,212.19 533.10,213.26 533.50,213.57 533.90,212.19 534.30,212.18 534.70,212.96 535.10,212.31 535.50,212.11 535.90,211.82 536.30,211.26 536.70,212.01 537.10,211.41 537.50,211.20 537.90,211.14 538.30,211.09 538.70,210.81 539.10,210.70 539.50,208.97 539.90,210.15 540.30,209.66 540.70,210.37 541.10,210.90 541.50,209.49 541.90,211.67 542.30,211.03 542.70,212.44 543.10,213.31 543.50,213.90 543.90,214.47 544.30,214.33 544.70,215.15 545.10,214.53 545.50,214.00 545.90,213.60 546.30,214.02 546.70,214.29 547.10,213.57 547.50,213.74 547.90,212.26 548.30,213.57 548.70,212.21 549.10,212.54 549.50,212.17 549.90,211.86 550.30,210.74 550.70,209.72 551.10,210.23 551.50,209.65 551.90,209.69 552.30,210.92 552.70,210.10 553.10,211.66 553.50,211.34 553.90,212.83 554.30,212.93 554.70,213.16 555.10,213.80 555.50,214.76 555.90,213.90 556.30,213.63 556.70,214.11 557.10,213.23 557.50,212.22 557.90,211.49 558.30,212.04 558.70,208.01 559.10,204.79 559.50,203.74 559.90,200.21 560.30,199.64 560.70,197.14 561.10,196.55 561.50,194.89 561.90,192.51 562.30,192.68 562.70,190.68 563.10,189.86 563.50,189.15 563.90,188.59 564.30,186.46 564.70,185.78 565.10,184.27 565.50,183.54 565.90,181.36 566.30,182.15 566.70,179.55 567.10,178.89 567.50,177.47 567.90,176.46 568.30,177.16 568.70,175.97 569.10,173.96 569.50,173.49 569.90,172.20 570.30,173.22 570.70,172.48 571.10,171.95 571.50,171.54 571.90,171.10 572.30,169.58 572.70,169.13 573.10,169.16 573.50,169.17 573.90,169.07 574.30,167.61 574.70,166.54 575.10,166.42 575.50,166.24 575.90,164.21 576.30,163.36 576.70,161.52 577.10,159.87 577.50,157.28 577.90,157.14 578.30,156.72 578.70,159.83 579.10,162.59 579.50,165.91 579.90,166.86 580.30,167.94 580.70,167.26 581.10,166.52 581.50,168.69 581.90,168.42 582.30,168.89 582.70,169.04 583.10,168.33 583.50,170.55 583.90,169.24 584.30,169.50 584.70,168.63 585.10,168.01 585.50,166.29 585.90,165.63 586.30,166.73 586.70,166.97 587.10,169.20 587.50,171.26 587.90,171.06 588.30,173.22 588.70,173.47 589.10,174.07 589.50,174.42 589.90,175.67 590.30,175.11 590.70,176.63 591.10,179.88 591.50,180.18 591.90,182.88 592.30,183.68 592.70,184.88 593.10,184.06 593.50,185.04 593.90,186.48 594.30,186.01 594.70,186.26 595.10,186.11 595.50,185.63 595.90,186.17 596.30,184.87 596.70,185.22 597.10,185.83 597.50,185.64 597.90,187.29 598.30,189.35 598.70,188.89 599.10,190.01 599.50,190.04 599.90,189.62 600.30,189.43 600.70,189.13 601.10,189.70 601.50,190.48 601.90,192.04 602.30,191.58 602.70,193.67 603.10,194.10 603.50,194.09 603.90,195.20 604.30,194.63 604.70,197.07 605.10,196.37 605.50,195.93 605.90,197.40 606.30,197.50 606.70,197.38 607.10,197.87 607.50,196.56 607.90,197.12 608.30,196.80 608.70,196.50 609.10,194.85 609.50,194.72 609.90,194.05 610.30,194.36 610.70,196.24 611.10,196.95 611.50,198.62 611.90,201.10 612.30,200.52 612.70,200.84 613.10,202.45 613.50,202.67 613.90,202.93 614.30,201.41 614.70,203.11 615.10,202.38 615.50,203.93 615.90,205.08 616.30,205.76 616.70,204.92 617.10,206.16 617.50,204.67 617.90,204.98 618.30,202.26 618.70,200.75 619.10,199.50 619.50,198.73 619.90,198.74 620.30,197.50 620.70,199.22 621.10,198.99 621.50,200.57 621.90,200.34 622.30,199.50 622.70,199.96 623.10,200.39 623.50,200.38 623.90,199.47 624.30,198.92 624.70,199.48 625.10,198.44 625.50,199.96 625.90,200.08 626.30,201.59 626.70,201.25 627.10,202.51 627.50,203.22 627.90,203.74 628.30,204.95 628.70,204.33 629.10,202.49 629.50,203.21 629.90,203.81 630.30,203.29 630.70,201.40 631.10,202.42 631.50,202.22 631.90,202.20 632.30,201.34 632.70,200.83 633.10,200.09 633.50,200.86 633.90,200.08 634.30,200.09 634.70,200.64 635.10,199.63 635.50,200.47 635.90,199.94 636.30,200.32 636.70,199.75 637.10,200.72" fill="none" stroke="#0072bd" stroke-width="2.0" stroke-linejoin="miter" stroke-linecap="round" />
<polyline points="531.50,212.30 532.00,212.30 532.50,212.30 533.00,212.30 533.50,212.30 534.00,212.30 534.50,212.30 535.00,212.29 535.50,212.29 536.00,212.29 536.50,212.29 537.00,212.28 537.50,212.28 538.00,212.28 538.50,212.27 539.00,212.27 539.50,212.26 540.00,212.25 540.50,212.25 541.00,212.24 541.50,212.23 542.00,212.22 542.50,212.22 543.00,212.21 543.50,212.19 544.00,212.18 544.50,212.17 545.00,212.16 545.50,212.14 546.00,212.13 546.50,212.11 547.00,212.10 547.50,212.08 548.00,212.06 548.50,212.04 549.00,212.02 549.50,212.00 550.00,211.98 550.50,211.96 551.00,211.93 551.50,211.91 552.00,211.88 552.50,211.85 553.00,211.82 553.50,211.79 554.00,211.76 554.50,211.73 555.00,211.70 555.50,211.66 556.00,211.63 556.50,211.59 557.00,211.55 557.50,211.51 558.00,210.95 558.50,209.10 559.00,206.40 559.50,203.36 560.00,200.46 560.50,198.20 561.00,196.49 561.50,194.89 562.00,193.38 562.50,191.96 563.00,190.62 563.50,189.33 564.00,188.10 564.50,186.90 565.00,185.73 565.50,184.57 566.00,183.44 566.50,182.34 567.00,181.27 567.50,180.24 568.00,179.26 568.50,178.32 569.00,177.44 569.50,176.61 570.00,175.84 570.50,175.13 571.00,174.45 571.50,173.80 572.00,173.18 572.50,172.58 573.00,172.00 573.50,171.45 574.00,170.92 574.50,170.41 575.00,169.93 575.50,169.46 576.00,169.01 576.50,168.58 577.00,168.16 577.50,167.72 578.00,167.27 578.50,166.81 579.00,166.36 579.50,165.93 580.00,165.51 580.50,165.12 581.00,164.76 581.50,164.44 582.00,164.17 582.50,163.95 583.00,163.80 583.50,163.71 584.00,163.71 584.50,163.84 585.00,164.08 585.50,164.43 586.00,164.87 586.50,165.38 587.00,165.94 587.50,166.53 588.00,167.18 588.50,168.14 589.00,169.39 589.50,170.85 590.00,172.40 590.50,173.96 591.00,175.42 591.50,176.68 592.00,177.67 592.50,178.55 593.00,179.37 593.50,180.14 594.00,180.87 594.50,181.57 595.00,182.24 595.50,182.88 596.00,183.52 596.50,184.15 597.00,184.79 597.50,185.43 598.00,186.07 598.50,186.71 599.00,187.34 599.50,187.96 600.00,188.57 600.50,189.18 601.00,189.77 601.50,190.35 602.00,190.93 602.50,191.49 603.00,192.04 603.50,192.58 604.00,193.10 604.50,193.62 605.00,194.13 605.50,194.64 606.00,195.13 606.50,195.62 607.00,196.10 607.50,196.57 608.00,197.03 608.50,197.47 609.00,197.91 609.50,198.34 610.00,198.76 610.50,199.16 611.00,199.56 611.50,199.97 612.00,200.37 612.50,200.77 613.00,201.16 613.50,201.54 614.00,201.92 614.50,202.29 615.00,202.64 615.50,202.99 616.00,203.32 616.50,203.63 617.00,203.92 617.50,204.20 618.00,204.46 618.50,204.69 619.00,204.92 619.50,205.14 620.00,205.36 620.50,205.56 621.00,205.77 621.50,205.96 622.00,206.15 622.50,206.33 623.00,206.50 623.50,206.66 624.00,206.81 624.50,206.95 625.00,207.08 625.50,207.21 626.00,207.32 626.50,207.42 627.00,207.52 627.50,207.61 628.00,207.71 628.50,207.80 629.00,207.89 629.50,207.98 630.00,208.07 630.50,208.15 631.00,208.23 631.50,208.31 632.00,208.38 632.50,208.45 633.00,208.52 633.50,208.57 634.00,208.63 634.50,208.67 635.00,208.71 635.50,208.74 636.00,208.77 636.50,208.79 637.00,208.80" fill="none" stroke="#d95319" stroke-width="2.2" stroke-linejoin="round" stroke-linecap="round" />
<line x1="51.50" y1="33.00" x2="51.50" y2="105.00" stroke="#555555" stroke-width="1.0" />
<line x1="51.00" y1="104.50" x2="156.70" y2="104.50" stroke="#555555" stroke-width="1.0" />
<line x1="51.50" y1="149.20" x2="51.50" y2="220.00" stroke="#555555" stroke-width="1.0" />
<line x1="51.00" y1="219.50" x2="156.70" y2="219.50" stroke="#555555" stroke-width="1.0" />
<line x1="51.50" y1="94.55" x2="52.90" y2="94.55" stroke="#555555" stroke-width="0.8" />
<text transform="translate(48.30,98.95) scale(0.93,1)" font-size="9.68" text-anchor="end" font-weight="normal" fill="#000000"  stroke="#000000" stroke-width="0.12">0</text>
<line x1="51.50" y1="70.10" x2="52.90" y2="70.10" stroke="#555555" stroke-width="0.8" />
<text transform="translate(48.30,74.50) scale(0.93,1)" font-size="9.68" text-anchor="end" font-weight="normal" fill="#000000"  stroke="#000000" stroke-width="0.12">20</text>
<line x1="51.50" y1="45.65" x2="52.90" y2="45.65" stroke="#555555" stroke-width="0.8" />
<text transform="translate(48.30,50.05) scale(0.93,1)" font-size="9.68" text-anchor="end" font-weight="normal" fill="#000000"  stroke="#000000" stroke-width="0.12">40</text>
<line x1="51.50" y1="212.70" x2="52.90" y2="212.70" stroke="#555555" stroke-width="0.8" />
<text transform="translate(48.30,217.40) scale(0.93,1)" font-size="9.68" text-anchor="end" font-weight="normal" fill="#000000"  stroke="#000000" stroke-width="0.12">0</text>
<line x1="51.50" y1="187.60" x2="52.90" y2="187.60" stroke="#555555" stroke-width="0.8" />
<text transform="translate(48.30,192.30) scale(0.93,1)" font-size="9.68" text-anchor="end" font-weight="normal" fill="#000000"  stroke="#000000" stroke-width="0.12">100</text>
<line x1="51.50" y1="162.50" x2="52.90" y2="162.50" stroke="#555555" stroke-width="0.8" />
<text transform="translate(48.30,167.20) scale(0.93,1)" font-size="9.68" text-anchor="end" font-weight="normal" fill="#000000"  stroke="#000000" stroke-width="0.12">200</text>
<line x1="51.50" y1="104.50" x2="51.50" y2="103.10" stroke="#555555" stroke-width="0.8" />
<text transform="translate(51.00,115.20) scale(0.93,1)" font-size="9.68" text-anchor="middle" font-weight="normal" fill="#000000"  stroke="#000000" stroke-width="0.12">0</text>
<line x1="75.41" y1="104.50" x2="75.41" y2="103.10" stroke="#555555" stroke-width="0.8" />
<text transform="translate(74.91,115.20) scale(0.93,1)" font-size="9.68" text-anchor="middle" font-weight="normal" fill="#000000"  stroke="#000000" stroke-width="0.12">5</text>
<line x1="99.32" y1="104.50" x2="99.32" y2="103.10" stroke="#555555" stroke-width="0.8" />
<text transform="translate(98.82,115.20) scale(0.93,1)" font-size="9.68" text-anchor="middle" font-weight="normal" fill="#000000"  stroke="#000000" stroke-width="0.12">10</text>
<line x1="123.23" y1="104.50" x2="123.23" y2="103.10" stroke="#555555" stroke-width="0.8" />
<text transform="translate(122.73,115.20) scale(0.93,1)" font-size="9.68" text-anchor="middle" font-weight="normal" fill="#000000"  stroke="#000000" stroke-width="0.12">15</text>
<line x1="147.14" y1="104.50" x2="147.14" y2="103.10" stroke="#555555" stroke-width="0.8" />
<text transform="translate(146.64,115.20) scale(0.93,1)" font-size="9.68" text-anchor="middle" font-weight="normal" fill="#000000"  stroke="#000000" stroke-width="0.12">20</text>
<line x1="51.50" y1="219.50" x2="51.50" y2="218.10" stroke="#555555" stroke-width="0.8" />
<text transform="translate(51.00,230.60) scale(0.93,1)" font-size="9.68" text-anchor="middle" font-weight="normal" fill="#000000"  stroke="#000000" stroke-width="0.12">0</text>
<line x1="75.41" y1="219.50" x2="75.41" y2="218.10" stroke="#555555" stroke-width="0.8" />
<text transform="translate(74.91,230.60) scale(0.93,1)" font-size="9.68" text-anchor="middle" font-weight="normal" fill="#000000"  stroke="#000000" stroke-width="0.12">5</text>
<line x1="99.32" y1="219.50" x2="99.32" y2="218.10" stroke="#555555" stroke-width="0.8" />
<text transform="translate(98.82,230.60) scale(0.93,1)" font-size="9.68" text-anchor="middle" font-weight="normal" fill="#000000"  stroke="#000000" stroke-width="0.12">10</text>
<line x1="123.23" y1="219.50" x2="123.23" y2="218.10" stroke="#555555" stroke-width="0.8" />
<text transform="translate(122.73,230.60) scale(0.93,1)" font-size="9.68" text-anchor="middle" font-weight="normal" fill="#000000"  stroke="#000000" stroke-width="0.12">15</text>
<line x1="147.14" y1="219.50" x2="147.14" y2="218.10" stroke="#555555" stroke-width="0.8" />
<text transform="translate(146.64,230.60) scale(0.93,1)" font-size="9.68" text-anchor="middle" font-weight="normal" fill="#000000"  stroke="#000000" stroke-width="0.12">20</text>
<text transform="translate(103.10,129.40) scale(0.93,1)" font-size="10.11" text-anchor="middle" font-weight="normal" fill="#000000"  stroke="#000000" stroke-width="0.12">Time (s)</text>
<text transform="translate(102.80,244.80) scale(0.93,1)" font-size="10.11" text-anchor="middle" font-weight="normal" fill="#000000"  stroke="#000000" stroke-width="0.12">Time (s)</text>
<line x1="210.50" y1="33.00" x2="210.50" y2="105.00" stroke="#555555" stroke-width="1.0" />
<line x1="210.00" y1="104.50" x2="315.70" y2="104.50" stroke="#555555" stroke-width="1.0" />
<line x1="210.50" y1="149.20" x2="210.50" y2="220.00" stroke="#555555" stroke-width="1.0" />
<line x1="210.00" y1="219.50" x2="315.70" y2="219.50" stroke="#555555" stroke-width="1.0" />
<line x1="210.50" y1="94.55" x2="211.90" y2="94.55" stroke="#555555" stroke-width="0.8" />
<text transform="translate(207.30,98.95) scale(0.93,1)" font-size="9.68" text-anchor="end" font-weight="normal" fill="#000000"  stroke="#000000" stroke-width="0.12">0</text>
<line x1="210.50" y1="70.10" x2="211.90" y2="70.10" stroke="#555555" stroke-width="0.8" />
<text transform="translate(207.30,74.50) scale(0.93,1)" font-size="9.68" text-anchor="end" font-weight="normal" fill="#000000"  stroke="#000000" stroke-width="0.12">20</text>
<line x1="210.50" y1="45.65" x2="211.90" y2="45.65" stroke="#555555" stroke-width="0.8" />
<text transform="translate(207.30,50.05) scale(0.93,1)" font-size="9.68" text-anchor="end" font-weight="normal" fill="#000000"  stroke="#000000" stroke-width="0.12">40</text>
<line x1="210.50" y1="212.70" x2="211.90" y2="212.70" stroke="#555555" stroke-width="0.8" />
<text transform="translate(207.30,217.40) scale(0.93,1)" font-size="9.68" text-anchor="end" font-weight="normal" fill="#000000"  stroke="#000000" stroke-width="0.12">0</text>
<line x1="210.50" y1="187.60" x2="211.90" y2="187.60" stroke="#555555" stroke-width="0.8" />
<text transform="translate(207.30,192.30) scale(0.93,1)" font-size="9.68" text-anchor="end" font-weight="normal" fill="#000000"  stroke="#000000" stroke-width="0.12">100</text>
<line x1="210.50" y1="162.50" x2="211.90" y2="162.50" stroke="#555555" stroke-width="0.8" />
<text transform="translate(207.30,167.20) scale(0.93,1)" font-size="9.68" text-anchor="end" font-weight="normal" fill="#000000"  stroke="#000000" stroke-width="0.12">200</text>
<line x1="210.50" y1="104.50" x2="210.50" y2="103.10" stroke="#555555" stroke-width="0.8" />
<text transform="translate(210.00,115.20) scale(0.93,1)" font-size="9.68" text-anchor="middle" font-weight="normal" fill="#000000"  stroke="#000000" stroke-width="0.12">0</text>
<line x1="234.41" y1="104.50" x2="234.41" y2="103.10" stroke="#555555" stroke-width="0.8" />
<text transform="translate(233.91,115.20) scale(0.93,1)" font-size="9.68" text-anchor="middle" font-weight="normal" fill="#000000"  stroke="#000000" stroke-width="0.12">5</text>
<line x1="258.32" y1="104.50" x2="258.32" y2="103.10" stroke="#555555" stroke-width="0.8" />
<text transform="translate(257.82,115.20) scale(0.93,1)" font-size="9.68" text-anchor="middle" font-weight="normal" fill="#000000"  stroke="#000000" stroke-width="0.12">10</text>
<line x1="282.23" y1="104.50" x2="282.23" y2="103.10" stroke="#555555" stroke-width="0.8" />
<text transform="translate(281.73,115.20) scale(0.93,1)" font-size="9.68" text-anchor="middle" font-weight="normal" fill="#000000"  stroke="#000000" stroke-width="0.12">15</text>
<line x1="306.14" y1="104.50" x2="306.14" y2="103.10" stroke="#555555" stroke-width="0.8" />
<text transform="translate(305.64,115.20) scale(0.93,1)" font-size="9.68" text-anchor="middle" font-weight="normal" fill="#000000"  stroke="#000000" stroke-width="0.12">20</text>
<line x1="210.50" y1="219.50" x2="210.50" y2="218.10" stroke="#555555" stroke-width="0.8" />
<text transform="translate(210.00,230.60) scale(0.93,1)" font-size="9.68" text-anchor="middle" font-weight="normal" fill="#000000"  stroke="#000000" stroke-width="0.12">0</text>
<line x1="234.41" y1="219.50" x2="234.41" y2="218.10" stroke="#555555" stroke-width="0.8" />
<text transform="translate(233.91,230.60) scale(0.93,1)" font-size="9.68" text-anchor="middle" font-weight="normal" fill="#000000"  stroke="#000000" stroke-width="0.12">5</text>
<line x1="258.32" y1="219.50" x2="258.32" y2="218.10" stroke="#555555" stroke-width="0.8" />
<text transform="translate(257.82,230.60) scale(0.93,1)" font-size="9.68" text-anchor="middle" font-weight="normal" fill="#000000"  stroke="#000000" stroke-width="0.12">10</text>
<line x1="282.23" y1="219.50" x2="282.23" y2="218.10" stroke="#555555" stroke-width="0.8" />
<text transform="translate(281.73,230.60) scale(0.93,1)" font-size="9.68" text-anchor="middle" font-weight="normal" fill="#000000"  stroke="#000000" stroke-width="0.12">15</text>
<line x1="306.14" y1="219.50" x2="306.14" y2="218.10" stroke="#555555" stroke-width="0.8" />
<text transform="translate(305.64,230.60) scale(0.93,1)" font-size="9.68" text-anchor="middle" font-weight="normal" fill="#000000"  stroke="#000000" stroke-width="0.12">20</text>
<text transform="translate(262.10,129.40) scale(0.93,1)" font-size="10.11" text-anchor="middle" font-weight="normal" fill="#000000"  stroke="#000000" stroke-width="0.12">Time (s)</text>
<text transform="translate(261.80,244.80) scale(0.93,1)" font-size="10.11" text-anchor="middle" font-weight="normal" fill="#000000"  stroke="#000000" stroke-width="0.12">Time (s)</text>
<line x1="370.50" y1="33.00" x2="370.50" y2="105.00" stroke="#555555" stroke-width="1.0" />
<line x1="370.00" y1="104.50" x2="475.70" y2="104.50" stroke="#555555" stroke-width="1.0" />
<line x1="370.50" y1="149.20" x2="370.50" y2="220.00" stroke="#555555" stroke-width="1.0" />
<line x1="370.00" y1="219.50" x2="475.70" y2="219.50" stroke="#555555" stroke-width="1.0" />
<line x1="370.50" y1="94.55" x2="371.90" y2="94.55" stroke="#555555" stroke-width="0.8" />
<text transform="translate(367.30,98.95) scale(0.93,1)" font-size="9.68" text-anchor="end" font-weight="normal" fill="#000000"  stroke="#000000" stroke-width="0.12">0</text>
<line x1="370.50" y1="70.10" x2="371.90" y2="70.10" stroke="#555555" stroke-width="0.8" />
<text transform="translate(367.30,74.50) scale(0.93,1)" font-size="9.68" text-anchor="end" font-weight="normal" fill="#000000"  stroke="#000000" stroke-width="0.12">20</text>
<line x1="370.50" y1="45.65" x2="371.90" y2="45.65" stroke="#555555" stroke-width="0.8" />
<text transform="translate(367.30,50.05) scale(0.93,1)" font-size="9.68" text-anchor="end" font-weight="normal" fill="#000000"  stroke="#000000" stroke-width="0.12">40</text>
<line x1="370.50" y1="212.70" x2="371.90" y2="212.70" stroke="#555555" stroke-width="0.8" />
<text transform="translate(367.30,217.40) scale(0.93,1)" font-size="9.68" text-anchor="end" font-weight="normal" fill="#000000"  stroke="#000000" stroke-width="0.12">0</text>
<line x1="370.50" y1="187.60" x2="371.90" y2="187.60" stroke="#555555" stroke-width="0.8" />
<text transform="translate(367.30,192.30) scale(0.93,1)" font-size="9.68" text-anchor="end" font-weight="normal" fill="#000000"  stroke="#000000" stroke-width="0.12">100</text>
<line x1="370.50" y1="162.50" x2="371.90" y2="162.50" stroke="#555555" stroke-width="0.8" />
<text transform="translate(367.30,167.20) scale(0.93,1)" font-size="9.68" text-anchor="end" font-weight="normal" fill="#000000"  stroke="#000000" stroke-width="0.12">200</text>
<line x1="370.50" y1="104.50" x2="370.50" y2="103.10" stroke="#555555" stroke-width="0.8" />
<text transform="translate(370.00,115.20) scale(0.93,1)" font-size="9.68" text-anchor="middle" font-weight="normal" fill="#000000"  stroke="#000000" stroke-width="0.12">0</text>
<line x1="394.41" y1="104.50" x2="394.41" y2="103.10" stroke="#555555" stroke-width="0.8" />
<text transform="translate(393.91,115.20) scale(0.93,1)" font-size="9.68" text-anchor="middle" font-weight="normal" fill="#000000"  stroke="#000000" stroke-width="0.12">5</text>
<line x1="418.32" y1="104.50" x2="418.32" y2="103.10" stroke="#555555" stroke-width="0.8" />
<text transform="translate(417.82,115.20) scale(0.93,1)" font-size="9.68" text-anchor="middle" font-weight="normal" fill="#000000"  stroke="#000000" stroke-width="0.12">10</text>
<line x1="442.23" y1="104.50" x2="442.23" y2="103.10" stroke="#555555" stroke-width="0.8" />
<text transform="translate(441.73,115.20) scale(0.93,1)" font-size="9.68" text-anchor="middle" font-weight="normal" fill="#000000"  stroke="#000000" stroke-width="0.12">15</text>
<line x1="466.14" y1="104.50" x2="466.14" y2="103.10" stroke="#555555" stroke-width="0.8" />
<text transform="translate(465.64,115.20) scale(0.93,1)" font-size="9.68" text-anchor="middle" font-weight="normal" fill="#000000"  stroke="#000000" stroke-width="0.12">20</text>
<line x1="370.50" y1="219.50" x2="370.50" y2="218.10" stroke="#555555" stroke-width="0.8" />
<text transform="translate(370.00,230.60) scale(0.93,1)" font-size="9.68" text-anchor="middle" font-weight="normal" fill="#000000"  stroke="#000000" stroke-width="0.12">0</text>
<line x1="394.41" y1="219.50" x2="394.41" y2="218.10" stroke="#555555" stroke-width="0.8" />
<text transform="translate(393.91,230.60) scale(0.93,1)" font-size="9.68" text-anchor="middle" font-weight="normal" fill="#000000"  stroke="#000000" stroke-width="0.12">5</text>
<line x1="418.32" y1="219.50" x2="418.32" y2="218.10" stroke="#555555" stroke-width="0.8" />
<text transform="translate(417.82,230.60) scale(0.93,1)" font-size="9.68" text-anchor="middle" font-weight="normal" fill="#000000"  stroke="#000000" stroke-width="0.12">10</text>
<line x1="442.23" y1="219.50" x2="442.23" y2="218.10" stroke="#555555" stroke-width="0.8" />
<text transform="translate(441.73,230.60) scale(0.93,1)" font-size="9.68" text-anchor="middle" font-weight="normal" fill="#000000"  stroke="#000000" stroke-width="0.12">15</text>
<line x1="466.14" y1="219.50" x2="466.14" y2="218.10" stroke="#555555" stroke-width="0.8" />
<text transform="translate(465.64,230.60) scale(0.93,1)" font-size="9.68" text-anchor="middle" font-weight="normal" fill="#000000"  stroke="#000000" stroke-width="0.12">20</text>
<text transform="translate(422.10,129.40) scale(0.93,1)" font-size="10.11" text-anchor="middle" font-weight="normal" fill="#000000"  stroke="#000000" stroke-width="0.12">Time (s)</text>
<text transform="translate(421.80,244.80) scale(0.93,1)" font-size="10.11" text-anchor="middle" font-weight="normal" fill="#000000"  stroke="#000000" stroke-width="0.12">Time (s)</text>
<line x1="531.50" y1="33.00" x2="531.50" y2="105.00" stroke="#555555" stroke-width="1.0" />
<line x1="531.00" y1="104.50" x2="636.70" y2="104.50" stroke="#555555" stroke-width="1.0" />
<line x1="531.50" y1="149.20" x2="531.50" y2="220.00" stroke="#555555" stroke-width="1.0" />
<line x1="531.00" y1="219.50" x2="636.70" y2="219.50" stroke="#555555" stroke-width="1.0" />
<line x1="531.50" y1="94.55" x2="532.90" y2="94.55" stroke="#555555" stroke-width="0.8" />
<text transform="translate(528.30,98.95) scale(0.93,1)" font-size="9.68" text-anchor="end" font-weight="normal" fill="#000000"  stroke="#000000" stroke-width="0.12">0</text>
<line x1="531.50" y1="70.10" x2="532.90" y2="70.10" stroke="#555555" stroke-width="0.8" />
<text transform="translate(528.30,74.50) scale(0.93,1)" font-size="9.68" text-anchor="end" font-weight="normal" fill="#000000"  stroke="#000000" stroke-width="0.12">20</text>
<line x1="531.50" y1="45.65" x2="532.90" y2="45.65" stroke="#555555" stroke-width="0.8" />
<text transform="translate(528.30,50.05) scale(0.93,1)" font-size="9.68" text-anchor="end" font-weight="normal" fill="#000000"  stroke="#000000" stroke-width="0.12">40</text>
<line x1="531.50" y1="212.70" x2="532.90" y2="212.70" stroke="#555555" stroke-width="0.8" />
<text transform="translate(528.30,217.40) scale(0.93,1)" font-size="9.68" text-anchor="end" font-weight="normal" fill="#000000"  stroke="#000000" stroke-width="0.12">0</text>
<line x1="531.50" y1="187.60" x2="532.90" y2="187.60" stroke="#555555" stroke-width="0.8" />
<text transform="translate(528.30,192.30) scale(0.93,1)" font-size="9.68" text-anchor="end" font-weight="normal" fill="#000000"  stroke="#000000" stroke-width="0.12">100</text>
<line x1="531.50" y1="162.50" x2="532.90" y2="162.50" stroke="#555555" stroke-width="0.8" />
<text transform="translate(528.30,167.20) scale(0.93,1)" font-size="9.68" text-anchor="end" font-weight="normal" fill="#000000"  stroke="#000000" stroke-width="0.12">200</text>
<line x1="531.50" y1="104.50" x2="531.50" y2="103.10" stroke="#555555" stroke-width="0.8" />
<text transform="translate(531.00,115.20) scale(0.93,1)" font-size="9.68" text-anchor="middle" font-weight="normal" fill="#000000"  stroke="#000000" stroke-width="0.12">0</text>
<line x1="555.41" y1="104.50" x2="555.41" y2="103.10" stroke="#555555" stroke-width="0.8" />
<text transform="translate(554.91,115.20) scale(0.93,1)" font-size="9.68" text-anchor="middle" font-weight="normal" fill="#000000"  stroke="#000000" stroke-width="0.12">5</text>
<line x1="579.32" y1="104.50" x2="579.32" y2="103.10" stroke="#555555" stroke-width="0.8" />
<text transform="translate(578.82,115.20) scale(0.93,1)" font-size="9.68" text-anchor="middle" font-weight="normal" fill="#000000"  stroke="#000000" stroke-width="0.12">10</text>
<line x1="603.23" y1="104.50" x2="603.23" y2="103.10" stroke="#555555" stroke-width="0.8" />
<text transform="translate(602.73,115.20) scale(0.93,1)" font-size="9.68" text-anchor="middle" font-weight="normal" fill="#000000"  stroke="#000000" stroke-width="0.12">15</text>
<line x1="627.14" y1="104.50" x2="627.14" y2="103.10" stroke="#555555" stroke-width="0.8" />
<text transform="translate(626.64,115.20) scale(0.93,1)" font-size="9.68" text-anchor="middle" font-weight="normal" fill="#000000"  stroke="#000000" stroke-width="0.12">20</text>
<line x1="531.50" y1="219.50" x2="531.50" y2="218.10" stroke="#555555" stroke-width="0.8" />
<text transform="translate(531.00,230.60) scale(0.93,1)" font-size="9.68" text-anchor="middle" font-weight="normal" fill="#000000"  stroke="#000000" stroke-width="0.12">0</text>
<line x1="555.41" y1="219.50" x2="555.41" y2="218.10" stroke="#555555" stroke-width="0.8" />
<text transform="translate(554.91,230.60) scale(0.93,1)" font-size="9.68" text-anchor="middle" font-weight="normal" fill="#000000"  stroke="#000000" stroke-width="0.12">5</text>
<line x1="579.32" y1="219.50" x2="579.32" y2="218.10" stroke="#555555" stroke-width="0.8" />
<text transform="translate(578.82,230.60) scale(0.93,1)" font-size="9.68" text-anchor="middle" font-weight="normal" fill="#000000"  stroke="#000000" stroke-width="0.12">10</text>
<line x1="603.23" y1="219.50" x2="603.23" y2="218.10" stroke="#555555" stroke-width="0.8" />
<text transform="translate(602.73,230.60) scale(0.93,1)" font-size="9.68" text-anchor="middle" font-weight="normal" fill="#000000"  stroke="#000000" stroke-width="0.12">15</text>
<line x1="627.14" y1="219.50" x2="627.14" y2="218.10" stroke="#555555" stroke-width="0.8" />
<text transform="translate(626.64,230.60) scale(0.93,1)" font-size="9.68" text-anchor="middle" font-weight="normal" fill="#000000"  stroke="#000000" stroke-width="0.12">20</text>
<text transform="translate(583.10,129.40) scale(0.93,1)" font-size="10.11" text-anchor="middle" font-weight="normal" fill="#000000"  stroke="#000000" stroke-width="0.12">Time (s)</text>
<text transform="translate(582.80,244.80) scale(0.93,1)" font-size="10.11" text-anchor="middle" font-weight="normal" fill="#000000"  stroke="#000000" stroke-width="0.12">Time (s)</text>
<text transform="translate(27.60,68.80) rotate(-90)" font-size="9.3" text-anchor="middle" font-weight="normal" fill="#000000"  stroke="#000000" stroke-width="0.12">ΔF Ca<tspan font-size="6.2" dy="-3.6">2+</tspan><tspan dy="3.6"> (a.u.)</tspan></text>
<text transform="translate(16.70,185.00) rotate(-90)" font-size="9.2" text-anchor="middle" font-weight="normal" fill="#000000"  stroke="#000000" stroke-width="0.12">ΔRBC</text>
<text transform="translate(26.10,184.30) rotate(-90)" font-size="9.2" text-anchor="middle" font-weight="normal" fill="#000000"  stroke="#000000" stroke-width="0.12">velocity (%)</text>
<text x="-0.40" y="290.40" font-size="14" text-anchor="start" font-weight="bold" fill="#000" >b</text>
<text transform="translate(271.60,271.80) scale(0.93,1)" font-size="11.40" text-anchor="start" font-weight="normal" fill="#000000"  stroke="#000000" stroke-width="0.12">Odor concentration</text>
<text transform="translate(126.20,296.00) scale(0.93,1)" font-size="10.27" text-anchor="start" font-weight="normal" fill="#000000"  stroke="#000000" stroke-width="0.12">Low concentration (ET 1 %)</text>
<text transform="translate(243.60,455.40) scale(0.93,1)" font-size="10.11" text-anchor="end" font-weight="normal" fill="#000000"  stroke="#000000" stroke-width="0.12">High concentration (ET 6 %)</text>
<rect x="47.94" y="313.20" width="15.44" height="96.30" fill="#f9e5d3" />
<rect x="238.57" y="313.00" width="15.45" height="96.50" fill="#f9e5d3" />
<rect x="47.92" y="478.30" width="15.42" height="96.20" fill="#f9e5d3" />
<rect x="238.49" y="477.90" width="15.38" height="96.60" fill="#f9e5d3" />
<polyline points="32.50,403.42 32.70,401.45 32.90,402.97 33.10,402.09 33.30,402.32 33.50,400.75 33.70,400.36 33.90,400.40 34.10,401.97 34.30,399.28 34.50,398.50 34.70,398.26 34.90,396.92 35.10,395.63 35.30,397.27 35.50,398.21 35.70,400.25 35.90,401.61 36.10,401.02 36.30,403.17 36.50,403.33 36.70,402.31 36.90,401.75 37.10,402.54 37.30,402.54 37.50,403.50 37.70,402.25 37.90,400.91 38.10,402.28 38.30,402.12 38.50,402.55 38.70,402.26 38.90,400.97 39.10,400.20 39.30,402.26 39.50,401.51 39.70,401.92 39.90,401.82 40.10,401.74 40.30,401.65 40.50,400.83 40.70,401.27 40.90,401.25 41.10,400.59 41.30,402.77 41.50,400.72 41.70,403.17 41.90,402.82 42.10,401.66 42.30,402.03 42.50,401.91 42.70,403.15 42.90,401.47 43.10,402.64 43.30,403.36 43.50,402.43 43.70,402.81 43.90,402.53 44.10,402.98 44.30,403.08 44.50,402.18 44.70,401.84 44.90,400.84 45.10,399.12 45.30,398.33 45.50,398.87 45.70,398.72 45.90,398.19 46.10,399.44 46.30,399.18 46.50,401.43 46.70,400.17 46.90,401.73 47.10,403.76 47.30,403.56 47.50,403.36 47.70,402.53 47.90,398.63 48.10,389.75 48.30,378.91 48.50,368.53 48.70,355.38 48.90,344.55 49.10,337.76 49.30,331.55 49.50,330.12 49.70,329.18 49.90,327.29 50.10,329.33 50.30,329.97 50.50,327.85 50.70,328.76 50.90,328.79 51.10,329.77 51.30,329.95 51.50,329.35 51.70,325.49 51.90,327.18 52.10,323.10 52.30,325.31 52.50,322.41 52.70,319.94 52.90,319.10 53.10,318.85 53.30,318.16 53.50,321.07 53.70,319.75 53.90,318.20 54.10,317.62 54.30,317.95 54.50,318.59 54.70,317.77 54.90,318.22 55.10,320.14 55.30,317.90 55.50,320.90 55.70,321.62 55.90,321.44 56.10,319.21 56.30,322.01 56.50,322.18 56.70,320.38 56.90,320.99 57.10,322.22 57.30,322.85 57.50,324.08 57.70,324.39 57.90,324.35 58.10,322.80 58.30,325.19 58.50,325.06 58.70,322.85 58.90,324.80 59.10,324.04 59.30,321.79 59.50,323.31 59.70,322.50 59.90,322.46 60.10,321.49 60.30,320.18 60.50,323.38 60.70,323.94 60.90,322.98 61.10,323.73 61.30,324.53 61.50,321.87 61.70,322.69 61.90,322.36 62.10,325.75 62.30,324.03 62.50,323.53 62.70,325.12 62.90,324.12 63.10,324.48 63.30,326.02 63.50,324.78 63.70,324.47 63.90,326.18 64.10,329.40 64.30,330.09 64.50,334.72 64.70,338.32 64.90,341.49 65.10,347.18 65.30,352.97 65.50,356.97 65.70,357.53 65.90,362.39 66.10,364.37 66.30,367.27 66.50,368.13 66.70,372.75 66.90,374.48 67.10,376.82 67.30,376.68 67.50,379.64 67.70,381.82 67.90,382.91 68.10,384.05 68.30,383.80 68.50,384.68 68.70,382.50 68.90,383.20 69.10,383.23 69.30,385.29 69.50,384.96 69.70,384.72 69.90,383.53 70.10,385.15 70.30,385.01 70.50,385.88 70.70,385.78 70.90,387.17 71.10,388.67 71.30,390.87 71.50,390.02 71.70,388.59 71.90,391.07 72.10,390.14 72.30,392.28 72.50,391.95 72.70,393.17 72.90,393.89 73.10,392.97 73.30,394.75 73.50,393.96 73.70,392.97 73.90,395.28 74.10,394.51 74.30,394.18 74.50,395.06 74.70,395.41 74.90,396.30 75.10,397.21 75.30,396.96 75.50,396.63 75.70,396.65 75.90,395.32 76.10,397.04 76.30,395.67 76.50,396.53 76.70,397.52 76.90,396.94 77.10,395.85 77.30,396.92 77.50,396.19 77.70,397.57 77.90,396.23 78.10,397.33 78.30,396.55 78.50,395.98 78.70,396.04 78.90,397.05 79.10,399.70 79.30,398.83 79.50,400.16 79.70,399.61 79.90,400.69 80.10,401.08 80.30,401.29 80.50,400.59 80.70,399.85 80.90,399.79 81.10,399.36 81.30,400.93 81.50,400.70 81.70,400.44 81.90,398.97 82.10,398.36 82.30,399.98 82.50,399.24 82.70,400.88 82.90,399.56 83.10,400.73 83.30,401.80 83.50,401.19 83.70,403.00 83.90,401.50 84.10,401.83 84.30,403.36 84.50,403.19 84.70,402.91 84.90,402.02 85.10,402.93 85.30,402.46 85.50,401.28 85.70,403.56 85.90,401.72 86.10,402.44 86.30,403.77 86.50,403.18 86.70,404.05 86.90,404.05 87.10,402.96 87.30,403.06 87.50,403.72 87.70,404.54 87.90,403.13 88.10,404.20 88.30,402.66 88.50,402.93 88.70,402.89 88.90,403.40 89.10,403.37 89.30,405.04 89.50,403.68 89.70,402.90 89.90,402.98 90.10,405.18 90.30,403.97 90.50,405.17 90.70,403.73 90.90,403.68 91.10,405.30 91.30,403.78 91.50,405.75 91.70,405.15 91.90,403.70 92.10,405.31 92.30,405.29 92.50,404.82 92.70,405.67 92.90,403.99 93.10,405.46 93.30,406.45 93.50,403.63 93.70,405.60 93.90,404.97 94.10,405.94 94.30,404.18 94.50,403.58 94.70,403.67 94.90,404.62 95.10,404.07 95.30,404.97 95.50,404.46 95.70,404.18 95.90,405.46 96.10,403.55 96.30,403.36 96.50,404.05 96.70,404.10 96.90,404.51 97.10,404.71 97.30,404.29 97.50,405.08 97.70,406.32 97.90,404.34 98.10,404.98 98.30,405.08 98.50,406.10 98.70,404.75 98.90,405.11 99.10,404.59 99.30,404.57 99.50,405.98 99.70,406.06 99.90,405.24 100.10,404.38 100.30,404.07 100.50,404.30 100.70,403.94 100.90,404.05 101.10,403.48 101.30,405.19 101.50,404.86 101.70,405.98 101.90,404.26 102.10,405.15 102.30,405.75 102.50,404.99 102.70,406.40 102.90,407.25 103.10,405.51 103.30,405.61 103.50,404.66 103.70,404.89 103.90,406.50 104.10,406.53 104.30,406.66 104.50,405.88 104.70,406.97 104.90,406.93 105.10,405.07 105.30,405.48 105.50,405.49 105.70,405.55 105.90,405.90 106.10,406.01 106.30,404.62 106.50,406.50 106.70,405.37 106.90,406.05 107.10,405.20 107.30,407.20 107.50,404.91 107.70,405.19 107.90,404.46 108.10,405.29 108.30,406.34 108.50,403.76 108.70,405.27 108.90,403.35 109.10,404.20 109.30,403.16 109.50,404.53 109.70,404.80 109.90,406.77 110.10,403.61 110.30,404.63 110.50,404.62 110.70,404.65 110.90,404.79 111.10,404.20 111.30,405.57 111.50,406.45 111.70,404.54 111.90,404.98 112.10,406.02 112.30,405.63 112.50,405.46 112.70,405.71 112.90,404.23 113.10,405.78 113.30,404.74 113.50,405.79 113.70,405.14 113.90,406.39 114.10,405.78 114.30,404.15 114.50,404.12 114.70,406.69 114.90,404.64 115.10,405.59 115.30,404.35 115.50,404.88 115.70,406.22 115.90,404.82 116.10,405.65 116.30,405.34 116.50,405.73 116.70,405.80 116.90,404.39 117.10,404.07 117.30,403.92 117.50,403.83 117.70,405.44 117.90,404.57 118.10,404.11 118.30,402.98 118.50,402.68 118.70,404.55 118.90,405.18 119.10,404.34 119.30,403.09 119.50,403.07 119.70,402.25 119.90,402.90 120.10,404.87 120.30,404.75 120.50,403.76 120.70,403.99 120.90,404.69 121.10,404.36 121.30,403.80 121.50,403.61 121.70,403.56 121.90,402.31 122.10,402.68 122.30,403.74 122.50,402.99 122.70,403.65 122.90,402.18 123.10,403.53 123.30,402.46 123.50,401.97 123.70,403.83 123.90,403.46 124.10,401.93 124.30,402.17 124.50,403.62 124.70,402.56 124.90,403.32 125.10,402.79 125.30,403.23 125.50,402.69 125.70,402.76 125.90,402.28 126.10,403.89 126.30,401.91 126.50,403.75 126.70,402.00 126.90,401.74 127.10,402.62 127.30,402.19 127.50,401.21 127.70,403.00 127.90,402.39 128.10,402.54 128.30,402.17 128.50,401.77 128.70,402.42 128.90,402.45 129.10,402.15 129.30,402.10 129.50,401.60 129.70,401.28 129.90,402.03 130.10,401.31 130.30,401.55 130.50,399.79 130.70,400.70 130.90,400.11 131.10,401.50 131.30,401.80 131.50,399.80 131.70,401.39 131.90,400.93 132.10,400.90 132.30,401.62 132.50,399.49 132.70,401.59 132.90,399.58 133.10,400.55 133.30,400.38 133.50,399.50 133.70,401.79 133.90,400.09 134.10,401.61 134.30,400.13 134.50,398.57 134.70,398.90 134.90,399.60 135.10,396.86 135.30,396.61 135.50,395.36 135.70,395.32 135.90,394.28 136.10,395.49 136.30,393.56 136.50,393.83 136.70,394.21 136.90,392.93 137.10,392.40 137.30,393.50 137.50,392.43 137.70,392.73 137.90,393.41 138.10,394.56 138.30,393.96 138.50,395.30 138.70,397.80 138.90,397.85 139.10,397.92 139.30,399.07 139.50,397.94 139.70,400.23 139.90,401.19 140.10,400.75 140.30,400.56 140.50,402.31 140.70,401.79 140.90,402.02 141.10,401.41 141.30,403.08 141.50,403.13 141.70,401.00 141.90,401.36 142.10,403.35 142.30,403.21 142.50,402.32 142.70,403.46 142.90,402.32 143.10,404.53 143.30,404.18 143.50,405.03 143.70,404.48 143.90,404.25 144.10,403.49 144.30,402.23 144.50,404.16 144.70,402.21 144.90,403.80 145.10,403.31 145.30,402.83 145.50,402.67 145.70,403.82 145.90,402.10 146.10,402.19 146.30,402.24 146.50,403.96 146.70,403.14 146.90,402.93 147.10,403.03 147.30,404.31 147.50,402.12 147.70,404.00 147.90,403.15 148.10,404.70 148.30,401.43 148.50,403.11 148.70,402.66 148.90,402.29 149.10,401.42 149.30,402.59 149.50,402.57 149.70,401.73 149.90,402.49 150.10,401.24 150.30,402.90 150.50,402.49 150.70,402.28 150.90,401.00 151.10,401.26 151.30,402.40 151.50,402.87 151.70,401.44 151.90,401.93 152.10,402.55 152.30,401.52 152.50,402.89 152.70,402.22 152.90,403.47 153.10,403.43 153.30,402.02 153.50,402.54 153.70,402.13 153.90,403.24 154.10,401.90 154.30,401.96 154.50,404.07 154.70,402.60 154.90,403.15 155.10,401.89 155.30,404.07 155.50,402.34 155.70,403.02 155.90,403.74 156.10,404.36 156.30,402.53 156.50,402.68 156.70,403.71 156.90,402.56 157.10,401.67 157.30,402.44 157.50,402.81 157.70,402.39 157.90,400.70 158.10,402.37 158.30,401.28 158.50,400.65 158.70,400.58 158.90,400.92 159.10,401.39 159.30,401.51 159.50,402.44 159.70,401.16 159.90,403.11 160.10,402.51 160.30,402.08 160.50,400.80 160.70,400.72 160.90,401.96 161.10,402.35 161.30,400.75 161.50,402.27 161.70,401.02 161.90,401.91 162.10,402.10 162.30,401.91 162.50,400.90 162.70,402.17 162.90,401.96 163.10,403.27 163.30,401.45 163.50,402.89 163.70,401.40 163.90,401.22 164.10,402.69 164.30,402.32 164.50,403.46 164.70,401.61 164.90,401.78 165.10,403.73 165.30,401.44 165.50,402.30 165.70,402.32 165.90,403.39 166.10,403.36 166.30,400.75 166.50,402.04 166.70,402.74 166.90,403.15 167.10,400.48 167.30,400.79 167.50,400.52 167.70,401.38 167.90,402.19 168.10,400.94 168.30,402.15 168.50,401.73 168.70,400.66 168.90,400.37 169.10,400.33 169.30,400.57 169.50,400.81 169.70,400.58 169.90,399.74 170.10,400.21 170.30,400.06 170.50,400.83 170.70,400.90 170.90,400.37" fill="none" stroke="#6cb4f8" stroke-width="2.0" stroke-linejoin="miter" stroke-linecap="round" />
<polyline points="32.50,565.81 32.70,565.97 32.90,565.00 33.10,564.49 33.30,564.76 33.50,564.96 33.70,564.81 33.90,564.00 34.10,564.04 34.30,563.29 34.50,563.25 34.70,563.88 34.90,564.25 35.10,565.22 35.30,564.73 35.50,565.11 35.70,565.04 35.90,565.13 36.10,565.38 36.30,565.84 36.50,567.00 36.70,567.76 36.90,566.15 37.10,566.97 37.30,568.03 37.50,568.30 37.70,566.58 37.90,566.34 38.10,566.49 38.30,566.70 38.50,566.82 38.70,567.04 38.90,565.84 39.10,567.31 39.30,566.91 39.50,567.42 39.70,567.10 39.90,565.92 40.10,565.36 40.30,565.92 40.50,565.51 40.70,564.69 40.90,564.36 41.10,562.22 41.30,563.42 41.50,562.23 41.70,563.26 41.90,563.04 42.10,564.03 42.30,565.74 42.50,565.27 42.70,567.12 42.90,566.45 43.10,567.23 43.30,566.23 43.50,565.75 43.70,566.68 43.90,565.69 44.10,566.47 44.30,565.32 44.50,565.31 44.70,566.00 44.90,565.50 45.10,566.23 45.30,565.21 45.50,565.27 45.70,565.01 45.90,566.72 46.10,566.78 46.30,566.99 46.50,567.56 46.70,566.03 46.90,568.30 47.10,567.33 47.30,568.25 47.50,568.46 47.70,568.65 47.90,568.47 48.10,562.00 48.30,549.90 48.50,539.87 48.70,529.22 48.90,517.18 49.10,508.16 49.30,503.49 49.50,500.51 49.70,495.34 49.90,493.64 50.10,493.31 50.30,492.28 50.50,492.59 50.70,493.69 50.90,494.39 51.10,495.11 51.30,496.03 51.50,497.98 51.70,499.11 51.90,499.20 52.10,501.69 52.30,501.85 52.50,502.57 52.70,503.96 52.90,504.12 53.10,504.97 53.30,504.79 53.50,503.96 53.70,503.67 53.90,504.15 54.10,503.97 54.30,504.48 54.50,505.25 54.70,505.68 54.90,504.80 55.10,505.04 55.30,505.78 55.50,505.21 55.70,505.04 55.90,505.22 56.10,505.33 56.30,505.69 56.50,506.67 56.70,505.78 56.90,504.80 57.10,505.20 57.30,505.25 57.50,504.92 57.70,504.04 57.90,504.18 58.10,504.18 58.30,504.61 58.50,505.38 58.70,504.85 58.90,505.61 59.10,505.93 59.30,507.31 59.50,505.76 59.70,507.11 59.90,506.74 60.10,507.41 60.30,507.33 60.50,505.74 60.70,505.68 60.90,506.50 61.10,505.30 61.30,505.33 61.50,505.39 61.70,506.03 61.90,505.72 62.10,504.94 62.30,506.08 62.50,507.07 62.70,505.28 62.90,505.05 63.10,505.49 63.30,505.19 63.50,505.67 63.70,507.04 63.90,505.08 64.10,505.63 64.30,507.46 64.50,505.92 64.70,506.47 64.90,507.86 65.10,507.61 65.30,509.07 65.50,509.10 65.70,511.92 65.90,512.98 66.10,513.44 66.30,514.57 66.50,515.45 66.70,517.14 66.90,516.52 67.10,518.51 67.30,519.72 67.50,520.64 67.70,521.57 67.90,522.96 68.10,522.75 68.30,523.53 68.50,524.84 68.70,525.13 68.90,526.37 69.10,527.69 69.30,527.00 69.50,526.98 69.70,529.05 69.90,527.87 70.10,528.25 70.30,528.37 70.50,528.77 70.70,530.60 70.90,530.68 71.10,531.30 71.30,531.52 71.50,532.66 71.70,532.65 71.90,534.02 72.10,534.41 72.30,536.42 72.50,536.97 72.70,538.51 72.90,537.14 73.10,538.77 73.30,538.97 73.50,538.62 73.70,539.09 73.90,540.17 74.10,539.50 74.30,540.30 74.50,539.83 74.70,540.88 74.90,540.28 75.10,540.98 75.30,541.99 75.50,541.86 75.70,543.02 75.90,542.31 76.10,543.75 76.30,543.33 76.50,544.45 76.70,543.39 76.90,544.90 77.10,543.94 77.30,545.82 77.50,545.61 77.70,546.64 77.90,545.31 78.10,546.04 78.30,546.64 78.50,546.67 78.70,547.41 78.90,547.58 79.10,547.73 79.30,547.98 79.50,548.09 79.70,548.27 79.90,549.87 80.10,549.39 80.30,549.67 80.50,548.70 80.70,549.57 80.90,550.67 81.10,549.77 81.30,550.09 81.50,550.58 81.70,551.93 81.90,551.95 82.10,551.18 82.30,552.22 82.50,552.55 82.70,553.00 82.90,553.27 83.10,552.89 83.30,553.86 83.50,552.48 83.70,552.87 83.90,553.54 84.10,554.02 84.30,554.16 84.50,553.75 84.70,554.32 84.90,554.25 85.10,554.59 85.30,554.50 85.50,555.28 85.70,556.71 85.90,555.25 86.10,556.16 86.30,557.07 86.50,557.08 86.70,557.82 86.90,557.08 87.10,556.68 87.30,556.87 87.50,558.87 87.70,558.20 87.90,558.17 88.10,557.68 88.30,557.64 88.50,559.26 88.70,558.71 88.90,557.93 89.10,557.75 89.30,559.12 89.50,559.19 89.70,557.91 89.90,558.34 90.10,558.15 90.30,559.67 90.50,558.38 90.70,558.74 90.90,558.16 91.10,559.72 91.30,558.45 91.50,559.92 91.70,559.62 91.90,559.83 92.10,559.88 92.30,559.79 92.50,558.89 92.70,559.39 92.90,559.15 93.10,559.92 93.30,559.27 93.50,560.06 93.70,559.55 93.90,559.09 94.10,560.42 94.30,560.35 94.50,561.18 94.70,560.89 94.90,561.12 95.10,561.28 95.30,560.39 95.50,561.41 95.70,561.67 95.90,561.14 96.10,560.81 96.30,561.21 96.50,561.43 96.70,561.63 96.90,562.16 97.10,562.97 97.30,562.44 97.50,563.02 97.70,561.85 97.90,563.07 98.10,562.86 98.30,562.05 98.50,561.89 98.70,561.79 98.90,563.63 99.10,562.86 99.30,563.26 99.50,562.47 99.70,563.27 99.90,564.06 100.10,563.34 100.30,563.84 100.50,564.10 100.70,564.17 100.90,564.14 101.10,563.96 101.30,564.32 101.50,564.10 101.70,563.65 101.90,563.35 102.10,564.50 102.30,564.38 102.50,562.86 102.70,564.24 102.90,563.76 103.10,564.27 103.30,563.08 103.50,564.24 103.70,564.38 103.90,564.71 104.10,564.03 104.30,564.76 104.50,564.48 104.70,565.63 104.90,565.14 105.10,565.57 105.30,564.99 105.50,566.03 105.70,564.34 105.90,563.98 106.10,564.38 106.30,565.24 106.50,564.45 106.70,564.51 106.90,565.17 107.10,565.31 107.30,565.85 107.50,566.25 107.70,564.83 107.90,565.92 108.10,566.99 108.30,565.70 108.50,567.44 108.70,567.08 108.90,566.18 109.10,566.43 109.30,567.19 109.50,567.59 109.70,566.30 109.90,566.39 110.10,566.23 110.30,566.83 110.50,566.46 110.70,566.72 110.90,567.09 111.10,568.01 111.30,568.07 111.50,566.80 111.70,566.84 111.90,567.65 112.10,568.36 112.30,567.23 112.50,569.07 112.70,568.95 112.90,568.97 113.10,569.04 113.30,568.12 113.50,568.75 113.70,568.51 113.90,568.33 114.10,568.95 114.30,568.32 114.50,569.04 114.70,568.15 114.90,567.86 115.10,569.20 115.30,568.85 115.50,568.49 115.70,567.84 115.90,569.69 116.10,567.84 116.30,567.92 116.50,567.90 116.70,568.51 116.90,567.77 117.10,569.01 117.30,567.65 117.50,568.05 117.70,569.15 117.90,568.89 118.10,569.15 118.30,569.74 118.50,569.30 118.70,570.06 118.90,569.00 119.10,570.22 119.30,569.90 119.50,568.79 119.70,569.78 119.90,570.19 120.10,569.26 120.30,569.12 120.50,569.17 120.70,569.86 120.90,569.72 121.10,569.22 121.30,570.48 121.50,568.96 121.70,569.17 121.90,568.87 122.10,569.48 122.30,568.63 122.50,570.59 122.70,570.23 122.90,569.73 123.10,569.78 123.30,569.36 123.50,568.69 123.70,568.78 123.90,569.07 124.10,569.65 124.30,569.89 124.50,569.60 124.70,569.40 124.90,568.77 125.10,570.21 125.30,569.88 125.50,569.15 125.70,568.76 125.90,570.80 126.10,569.01 126.30,569.64 126.50,570.15 126.70,569.95 126.90,569.25 127.10,569.70 127.30,570.96 127.50,569.52 127.70,570.69 127.90,569.69 128.10,569.61 128.30,569.96 128.50,568.53 128.70,568.30 128.90,568.71 129.10,568.68 129.30,569.21 129.50,567.99 129.70,568.37 129.90,568.57 130.10,569.08 130.30,568.46 130.50,569.40 130.70,569.19 130.90,569.27 131.10,569.96 131.30,569.70 131.50,570.17 131.70,569.68 131.90,570.05 132.10,569.53 132.30,569.22 132.50,568.62 132.70,569.70 132.90,569.41 133.10,569.55 133.30,569.25 133.50,569.52 133.70,569.32 133.90,568.25 134.10,569.88 134.30,568.38 134.50,568.74 134.70,568.51 134.90,568.22 135.10,569.71 135.30,569.14 135.50,569.38 135.70,569.06 135.90,568.21 136.10,568.50 136.30,568.87 136.50,569.37 136.70,568.79 136.90,568.99 137.10,569.15 137.30,569.37 137.50,570.04 137.70,569.23 137.90,570.24 138.10,570.02 138.30,569.69 138.50,570.10 138.70,570.11 138.90,569.78 139.10,570.36 139.30,569.61 139.50,570.07 139.70,569.40 139.90,568.81 140.10,569.07 140.30,569.85 140.50,569.37 140.70,568.93 140.90,570.22 141.10,568.83 141.30,570.11 141.50,570.10 141.70,570.35 141.90,569.06 142.10,570.06 142.30,568.55 142.50,569.09 142.70,568.19 142.90,569.90 143.10,569.58 143.30,568.87 143.50,569.65 143.70,568.20 143.90,569.43 144.10,569.34 144.30,569.44 144.50,568.98 144.70,568.47 144.90,569.72 145.10,569.59 145.30,567.96 145.50,570.09 145.70,569.11 145.90,569.76 146.10,569.41 146.30,569.14 146.50,569.27 146.70,569.29 146.90,568.00 147.10,569.66 147.30,568.31 147.50,568.54 147.70,568.70 147.90,569.81 148.10,568.84 148.30,569.76 148.50,568.49 148.70,569.11 148.90,569.79 149.10,570.07 149.30,568.86 149.50,568.68 149.70,568.95 149.90,568.25 150.10,569.80 150.30,568.49 150.50,568.45 150.70,568.29 150.90,568.62 151.10,568.18 151.30,568.79 151.50,569.66 151.70,569.29 151.90,567.36 152.10,568.61 152.30,568.68 152.50,569.33 152.70,569.65 152.90,568.01 153.10,567.96 153.30,567.98 153.50,568.82 153.70,568.34 153.90,568.91 154.10,568.48 154.30,569.25 154.50,569.12 154.70,570.68 154.90,569.39 155.10,570.12 155.30,569.54 155.50,569.90 155.70,569.32 155.90,569.76 156.10,569.58 156.30,568.96 156.50,568.57 156.70,568.46 156.90,569.88 157.10,568.71 157.30,569.77 157.50,569.81 157.70,568.05 157.90,569.92 158.10,568.85 158.30,569.52 158.50,570.06 158.70,569.10 158.90,569.62 159.10,569.12 159.30,569.05 159.50,569.70 159.70,569.50 159.90,570.03 160.10,569.25 160.30,569.38 160.50,569.63 160.70,568.74 160.90,570.16 161.10,569.19 161.30,569.02 161.50,569.17 161.70,568.75 161.90,569.90 162.10,570.30 162.30,570.46 162.50,570.05 162.70,569.46 162.90,569.90 163.10,569.67 163.30,570.57 163.50,570.36 163.70,569.11 163.90,568.77 164.10,568.86 164.30,568.57 164.50,568.12 164.70,568.70 164.90,568.81 165.10,569.34 165.30,568.03 165.50,568.27 165.70,568.09 165.90,568.05 166.10,568.99 166.30,569.01 166.50,568.05 166.70,568.78 166.90,569.29 167.10,568.31 167.30,570.17 167.50,569.72 167.70,568.70 167.90,570.64 168.10,569.20 168.30,570.23 168.50,570.04 168.70,569.75 168.90,569.61 169.10,569.34 169.30,569.82 169.50,568.58 169.70,568.30 169.90,568.22 170.10,569.10 170.30,568.57 170.50,568.12 170.70,569.22 170.90,567.99" fill="none" stroke="#6cb4f8" stroke-width="2.0" stroke-linejoin="miter" stroke-linecap="round" />
<polyline points="223.00,397.66 223.40,399.26 223.80,401.30 224.20,401.04 224.60,402.44 225.00,402.67 225.40,404.07 225.80,403.80 226.20,403.11 226.60,403.51 227.00,402.66 227.40,401.74 227.80,401.39 228.20,401.30 228.60,400.02 229.00,400.84 229.40,399.18 229.80,394.84 230.20,392.63 230.60,390.00 231.00,388.95 231.40,389.01 231.80,392.85 232.20,393.93 232.60,397.48 233.00,397.87 233.40,398.07 233.80,399.04 234.20,399.37 234.60,400.87 235.00,401.52 235.40,401.97 235.80,401.30 236.20,401.88 236.60,402.78 237.00,403.48 237.40,403.77 237.80,404.49 238.20,404.58 238.60,404.15 239.00,404.35 239.40,403.98 239.80,401.51 240.20,401.22 240.60,398.32 241.00,396.31 241.40,393.74 241.80,390.39 242.20,385.10 242.60,381.19 243.00,377.80 243.40,373.76 243.80,371.25 244.20,367.05 244.60,362.92 245.00,359.97 245.40,356.19 245.80,354.03 246.20,350.11 246.60,348.22 247.00,345.47 247.40,342.81 247.80,341.07 248.20,340.29 248.60,338.24 249.00,336.77 249.40,336.16 249.80,336.76 250.20,336.12 250.60,336.00 251.00,334.48 251.40,332.79 251.80,328.33 252.20,326.38 252.60,324.54 253.00,326.51 253.40,326.84 253.80,328.25 254.20,330.11 254.60,332.66 255.00,335.42 255.40,337.23 255.80,339.71 256.20,340.46 256.60,340.24 257.00,341.07 257.40,342.57 257.80,342.17 258.20,344.26 258.60,347.57 259.00,351.82 259.40,355.39 259.80,354.79 260.20,356.39 260.60,357.36 261.00,357.25 261.40,358.23 261.80,363.01 262.20,365.62 262.60,364.86 263.00,363.70 263.40,362.25 263.80,363.06 264.20,363.47 264.60,366.42 265.00,371.47 265.40,377.96 265.80,381.62 266.20,383.22 266.60,382.33 267.00,380.85 267.40,381.32 267.80,379.88 268.20,379.49 268.60,378.62 269.00,379.56 269.40,378.18 269.80,377.28 270.20,378.02 270.60,378.83 271.00,379.63 271.40,379.11 271.80,380.43 272.20,380.89 272.60,382.28 273.00,381.84 273.40,382.62 273.80,383.74 274.20,386.64 274.60,390.39 275.00,394.23 275.40,398.81 275.80,399.77 276.20,402.69 276.60,403.43 277.00,402.01 277.40,400.43 277.80,400.66 278.20,400.09 278.60,400.05 279.00,399.59 279.40,398.75 279.80,399.29 280.20,398.82 280.60,399.39 281.00,401.04 281.40,400.76 281.80,400.74 282.20,400.18 282.60,400.92 283.00,400.58 283.40,401.61 283.80,400.02 284.20,399.63 284.60,399.94 285.00,400.17 285.40,399.76 285.80,400.88 286.20,400.57 286.60,401.03 287.00,401.61 287.40,403.45 287.80,402.81 288.20,404.36 288.60,404.96 289.00,405.31 289.40,407.24 289.80,407.49 290.20,408.19 290.60,407.67 291.00,408.72 291.40,408.10 291.80,408.32 292.20,407.92 292.60,406.66 293.00,406.78 293.40,406.85 293.80,405.02 294.20,406.36 294.60,404.55 295.00,404.96 295.40,403.26 295.80,404.53 296.20,403.22 296.60,401.99 297.00,402.81 297.40,403.24 297.80,403.58 298.20,404.15 298.60,405.16 299.00,404.68 299.40,404.65 299.80,406.44 300.20,407.08 300.60,406.82 301.00,406.31 301.40,406.97 301.80,408.15 302.20,406.83 302.60,407.63 303.00,408.29 303.40,407.33 303.80,408.15 304.20,407.51 304.60,406.64 305.00,405.02 305.40,405.43 305.80,404.97 306.20,404.22 306.60,403.59 307.00,403.84 307.40,405.45 307.80,405.03 308.20,406.55 308.60,405.81 309.00,407.42 309.40,407.35 309.80,405.74 310.20,406.14 310.60,404.93 311.00,403.98 311.40,401.70 311.80,401.67 312.20,400.95 312.60,399.78 313.00,398.86 313.40,398.16 313.80,395.75 314.20,395.16 314.60,394.79 315.00,395.18 315.40,394.11 315.80,393.38 316.20,393.54 316.60,394.82 317.00,398.14 317.40,398.79 317.80,401.32 318.20,403.30 318.60,404.20 319.00,403.07 319.40,404.12 319.80,403.98 320.20,404.42 320.60,404.18 321.00,403.28 321.40,404.19 321.80,401.57 322.20,401.35 322.60,401.74 323.00,401.19 323.40,401.07 323.80,399.93 324.20,400.52 324.60,400.49 325.00,399.52 325.40,399.96 325.80,400.39 326.20,400.45 326.60,401.21 327.00,401.41 327.40,403.37 327.80,405.12 328.20,405.00 328.60,406.15 329.00,406.07 329.40,405.56 329.80,406.30 330.20,404.11 330.60,402.33 331.00,401.55 331.40,400.14 331.80,399.40 332.20,399.50 332.60,399.05 333.00,399.06 333.40,398.90 333.80,397.75 334.20,397.20 334.60,397.19 335.00,397.08 335.40,396.63 335.80,396.09 336.20,396.84 336.60,394.69 337.00,395.48 337.40,394.45 337.80,394.34 338.20,394.70 338.60,394.17 339.00,395.04 339.40,394.13 339.80,395.10 340.20,394.28 340.60,395.57 341.00,395.44 341.40,397.04 341.80,397.64 342.20,398.34 342.60,398.43 343.00,398.58 343.40,399.07 343.80,399.52 344.20,399.62 344.60,398.12 345.00,398.73 345.40,396.89 345.80,396.00 346.20,393.68 346.60,393.60 347.00,394.03 347.40,394.68 347.80,394.54 348.20,395.71 348.60,395.68 349.00,396.23 349.40,397.82 349.80,398.10 350.20,398.04 350.60,396.73 351.00,396.78 351.40,396.60 351.80,396.80 352.20,394.78 352.60,395.70 353.00,395.65 353.40,394.30 353.80,395.80 354.20,396.76 354.60,396.55 355.00,396.46 355.40,397.21 355.80,396.97 356.20,397.13 356.60,397.03 357.00,395.74 357.40,394.71 357.80,394.10 358.20,392.23 358.60,393.89 359.00,392.69 359.40,392.07 359.80,393.81 360.20,394.62 360.60,394.94 361.00,395.76 361.40,395.96 361.80,396.88" fill="none" stroke="#0072bd" stroke-width="2.0" stroke-linejoin="miter" stroke-linecap="round" />
<polyline points="223.00,398.30 223.50,398.38 224.00,398.45 224.50,398.52 225.00,398.58 225.50,398.64 226.00,398.70 226.50,398.75 227.00,398.80 227.50,398.84 228.00,398.88 228.50,398.92 229.00,398.95 229.50,398.99 230.00,399.01 230.50,399.04 231.00,399.06 231.50,399.09 232.00,399.10 232.50,399.12 233.00,399.14 233.50,399.15 234.00,399.16 234.50,399.17 235.00,399.18 235.50,399.18 236.00,399.19 236.50,399.19 237.00,399.19 237.50,399.20 238.00,399.20 238.50,399.20 239.00,399.20 239.50,399.20 240.00,399.20 240.50,398.83 241.00,397.45 241.50,395.31 242.00,392.67 242.50,389.80 243.00,386.97 243.50,384.37 244.00,381.59 244.50,378.59 245.00,375.47 245.50,372.33 246.00,369.28 246.50,366.40 247.00,363.63 247.50,360.86 248.00,358.15 248.50,355.54 249.00,353.11 249.50,350.91 250.00,348.91 250.50,347.00 251.00,345.20 251.50,343.52 252.00,341.99 252.50,340.63 253.00,339.43 253.50,338.23 254.00,337.04 254.50,335.92 255.00,334.95 255.50,334.20 256.00,333.73 256.50,333.61 257.00,333.90 257.50,334.54 258.00,335.47 258.50,336.60 259.00,337.86 259.50,339.19 260.00,340.50 260.50,341.78 261.00,343.25 261.50,344.89 262.00,346.65 262.50,348.49 263.00,350.37 263.50,352.24 264.00,354.07 264.50,355.80 265.00,357.49 265.50,359.21 266.00,360.95 266.50,362.68 267.00,364.40 267.50,366.08 268.00,367.71 268.50,369.28 269.00,370.77 269.50,372.17 270.00,373.48 270.50,374.76 271.00,376.02 271.50,377.26 272.00,378.47 272.50,379.65 273.00,380.79 273.50,381.90 274.00,382.97 274.50,383.99 275.00,384.97 275.50,385.89 276.00,386.76 276.50,387.57 277.00,388.32 277.50,389.01 278.00,389.68 278.50,390.32 279.00,390.94 279.50,391.54 280.00,392.12 280.50,392.68 281.00,393.21 281.50,393.72 282.00,394.21 282.50,394.68 283.00,395.13 283.50,395.55 284.00,395.96 284.50,396.34 285.00,396.70 285.50,397.04 286.00,397.36 286.50,397.67 287.00,397.98 287.50,398.29 288.00,398.59 288.50,398.88 289.00,399.16 289.50,399.44 290.00,399.71 290.50,399.96 291.00,400.21 291.50,400.45 292.00,400.67 292.50,400.88 293.00,401.08 293.50,401.27 294.00,401.44 294.50,401.59 295.00,401.73 295.50,401.86 296.00,401.96 296.50,402.05 297.00,402.14 297.50,402.23 298.00,402.32 298.50,402.40 299.00,402.48 299.50,402.56 300.00,402.64 300.50,402.71 301.00,402.79 301.50,402.85 302.00,402.92 302.50,402.98 303.00,403.04 303.50,403.10 304.00,403.15 304.50,403.19 305.00,403.24 305.50,403.27 306.00,403.31 306.50,403.34 307.00,403.36 307.50,403.38 308.00,403.39 308.50,403.40 309.00,403.40 309.50,403.39 310.00,403.37 310.50,403.35 311.00,403.31 311.50,403.26 312.00,403.21 312.50,403.15 313.00,403.08 313.50,403.00 314.00,402.92 314.50,402.83 315.00,402.74 315.50,402.64 316.00,402.54 316.50,402.44 317.00,402.33 317.50,402.22 318.00,402.11 318.50,401.99 319.00,401.88 319.50,401.77 320.00,401.65 320.50,401.54 321.00,401.43 321.50,401.32 322.00,401.21 322.50,401.08 323.00,400.95 323.50,400.80 324.00,400.65 324.50,400.49 325.00,400.33 325.50,400.18 326.00,400.02 326.50,399.88 327.00,399.74 327.50,399.61 328.00,399.50 328.50,399.39 329.00,399.28 329.50,399.16 330.00,399.05 330.50,398.94 331.00,398.84 331.50,398.76 332.00,398.69 332.50,398.63 333.00,398.60 333.50,398.61 334.00,398.67 334.50,398.80 335.00,398.98 335.50,399.19 336.00,399.43 336.50,399.67 337.00,399.92 337.50,400.16 338.00,400.36 338.50,400.53 339.00,400.65 339.50,400.70 340.00,400.70 340.50,400.70 341.00,400.70 341.50,400.70 342.00,400.70 342.50,400.70 343.00,400.70 343.50,400.70 344.00,400.70 344.50,400.70 345.00,400.70 345.50,400.70 346.00,400.70 346.50,400.70 347.00,400.70 347.50,400.70 348.00,400.70 348.50,400.70 349.00,400.70 349.50,400.70 350.00,400.70 350.50,400.70 351.00,400.70 351.50,400.70 352.00,400.70 352.50,400.71 353.00,400.72 353.50,400.74 354.00,400.76 354.50,400.78 355.00,400.80 355.50,400.82 356.00,400.85 356.50,400.88 357.00,400.91 357.50,400.95 358.00,400.98 358.50,401.02 359.00,401.06 359.50,401.10 360.00,401.14 360.50,401.18 361.00,401.22 361.50,401.26 362.00,401.30" fill="none" stroke="#d95319" stroke-width="2.2" stroke-linejoin="round" stroke-linecap="round" />
<polyline points="223.00,558.98 223.40,560.67 223.80,559.56 224.20,560.51 224.60,560.29 225.00,561.04 225.40,561.26 225.80,561.52 226.20,561.05 226.60,561.89 227.00,561.79 227.40,561.50 227.80,561.55 228.20,560.54 228.60,561.65 229.00,561.81 229.40,561.59 229.80,560.15 230.20,560.40 230.60,561.20 231.00,559.26 231.40,559.00 231.80,558.95 232.20,558.39 232.60,557.35 233.00,558.10 233.40,556.79 233.80,558.82 234.20,558.80 234.60,558.40 235.00,560.22 235.40,560.57 235.80,561.32 236.20,561.35 236.60,561.06 237.00,561.50 237.40,562.03 237.80,561.50 238.20,562.10 238.60,562.93 239.00,561.10 239.40,562.19 239.80,562.76 240.20,561.27 240.60,560.12 241.00,559.32 241.40,557.24 241.80,554.37 242.20,552.11 242.60,547.26 243.00,542.84 243.40,538.55 243.80,534.98 244.20,530.06 244.60,526.55 245.00,521.83 245.40,518.32 245.80,514.72 246.20,511.31 246.60,509.09 247.00,505.12 247.40,501.80 247.80,500.61 248.20,497.87 248.60,496.40 249.00,493.91 249.40,491.81 249.80,490.03 250.20,488.12 250.60,486.61 251.00,484.27 251.40,482.72 251.80,481.01 252.20,482.51 252.60,482.19 253.00,482.83 253.40,482.37 253.80,483.70 254.20,483.89 254.60,485.60 255.00,484.10 255.40,484.42 255.80,484.31 256.20,484.41 256.60,484.14 257.00,484.59 257.40,485.16 257.80,485.13 258.20,484.95 258.60,485.99 259.00,487.19 259.40,490.33 259.80,492.95 260.20,492.66 260.60,493.32 261.00,494.58 261.40,494.30 261.80,494.88 262.20,494.69 262.60,493.75 263.00,494.03 263.40,495.06 263.80,496.52 264.20,496.22 264.60,496.35 265.00,498.21 265.40,498.15 265.80,499.79 266.20,500.85 266.60,501.52 267.00,502.58 267.40,504.46 267.80,506.87 268.20,506.17 268.60,506.16 269.00,505.53 269.40,506.97 269.80,509.54 270.20,510.02 270.60,507.62 271.00,510.27 271.40,509.89 271.80,512.54 272.20,510.76 272.60,513.19 273.00,512.23 273.40,512.63 273.80,514.07 274.20,514.32 274.60,515.39 275.00,515.73 275.40,515.10 275.80,514.50 276.20,516.81 276.60,516.61 277.00,515.12 277.40,516.59 277.80,515.37 278.20,514.54 278.60,516.77 279.00,517.04 279.40,518.95 279.80,518.40 280.20,517.94 280.60,518.64 281.00,519.19 281.40,519.74 281.80,519.40 282.20,518.95 282.60,519.65 283.00,520.08 283.40,519.84 283.80,519.35 284.20,519.29 284.60,519.49 285.00,518.00 285.40,518.30 285.80,519.87 286.20,518.30 286.60,519.85 287.00,519.46 287.40,519.43 287.80,519.49 288.20,519.66 288.60,519.41 289.00,520.20 289.40,519.76 289.80,520.62 290.20,522.62 290.60,522.04 291.00,523.11 291.40,523.78 291.80,527.10 292.20,526.17 292.60,527.22 293.00,526.43 293.40,526.80 293.80,527.30 294.20,528.64 294.60,523.00 295.00,521.43 295.40,521.34 295.80,523.09 296.20,526.63 296.60,529.73 297.00,529.50 297.40,530.52 297.80,529.14 298.20,529.70 298.60,529.87 299.00,531.25 299.40,530.83 299.80,531.61 300.20,531.36 300.60,532.56 301.00,530.78 301.40,532.21 301.80,532.56 302.20,531.65 302.60,531.86 303.00,531.38 303.40,533.93 303.80,532.92 304.20,534.61 304.60,535.75 305.00,535.63 305.40,536.52 305.80,535.89 306.20,536.37 306.60,537.44 307.00,537.81 307.40,536.76 307.80,538.03 308.20,539.75 308.60,538.83 309.00,540.56 309.40,541.33 309.80,541.69 310.20,544.00 310.60,543.29 311.00,545.34 311.40,543.91 311.80,546.06 312.20,544.83 312.60,545.23 313.00,547.18 313.40,548.61 313.80,549.01 314.20,548.46 314.60,549.01 315.00,548.79 315.40,548.73 315.80,551.30 316.20,550.17 316.60,550.60 317.00,551.40 317.40,551.12 317.80,551.23 318.20,554.74 318.60,552.39 319.00,554.30 319.40,554.56 319.80,552.92 320.20,554.96 320.60,553.21 321.00,554.07 321.40,555.53 321.80,554.30 322.20,555.01 322.60,556.77 323.00,555.90 323.40,557.20 323.80,557.28 324.20,557.95 324.60,558.34 325.00,558.79 325.40,558.31 325.80,559.40 326.20,559.82 326.60,561.30 327.00,561.15 327.40,561.55 327.80,563.03 328.20,563.12 328.60,564.03 329.00,564.69 329.40,564.51 329.80,565.29 330.20,565.14 330.60,566.93 331.00,567.58 331.40,566.59 331.80,567.46 332.20,566.61 332.60,567.74 333.00,566.89 333.40,567.09 333.80,567.57 334.20,568.18 334.60,569.77 335.00,568.78 335.40,567.86 335.80,567.46 336.20,568.13 336.60,569.63 337.00,569.08 337.40,568.33 337.80,568.20 338.20,566.92 338.60,565.84 339.00,566.58 339.40,564.65 339.80,563.69 340.20,563.04 340.60,562.41 341.00,561.42 341.40,560.92 341.80,560.65 342.20,560.01 342.60,558.52 343.00,558.82 343.40,557.80 343.80,558.41 344.20,558.50 344.60,557.53 345.00,558.53 345.40,557.64 345.80,557.83 346.20,558.57 346.60,556.67 347.00,557.63 347.40,557.84 347.80,557.61 348.20,557.72 348.60,558.30 349.00,558.19 349.40,557.28 349.80,558.26 350.20,558.91 350.60,557.99 351.00,559.26 351.40,560.23 351.80,560.71 352.20,560.17 352.60,561.97 353.00,562.67 353.40,563.98 353.80,564.31 354.20,566.11 354.60,566.42 355.00,566.90 355.40,567.97 355.80,567.59 356.20,568.02 356.60,567.91 357.00,567.09 357.40,565.13 357.80,564.68 358.20,563.86 358.60,563.33 359.00,563.63 359.40,562.21 359.80,562.94 360.20,561.49 360.60,562.02 361.00,561.43" fill="none" stroke="#0072bd" stroke-width="2.0" stroke-linejoin="miter" stroke-linecap="round" />
<polyline points="223.00,561.00 223.50,561.03 224.00,561.07 224.50,561.10 225.00,561.12 225.50,561.15 226.00,561.18 226.50,561.20 227.00,561.22 227.50,561.24 228.00,561.26 228.50,561.28 229.00,561.29 229.50,561.30 230.00,561.32 230.50,561.33 231.00,561.34 231.50,561.35 232.00,561.36 232.50,561.36 233.00,561.37 233.50,561.38 234.00,561.38 234.50,561.39 235.00,561.39 235.50,561.39 236.00,561.39 236.50,561.40 237.00,561.40 237.50,561.40 238.00,561.40 238.50,561.40 239.00,561.40 239.50,561.40 240.00,561.40 240.50,560.61 241.00,557.87 241.50,553.99 242.00,549.84 242.50,545.90 243.00,541.32 243.50,536.45 244.00,531.78 244.50,527.76 245.00,524.03 245.50,520.51 246.00,517.31 246.50,514.50 247.00,512.00 247.50,509.66 248.00,507.49 248.50,505.51 249.00,503.71 249.50,502.10 250.00,500.64 250.50,499.26 251.00,497.94 251.50,496.71 252.00,495.56 252.50,494.52 253.00,493.58 253.50,492.76 254.00,492.07 254.50,491.41 255.00,490.77 255.50,490.14 256.00,489.57 256.50,489.05 257.00,488.62 257.50,488.29 258.00,488.08 258.50,488.00 259.00,488.07 259.50,488.25 260.00,488.55 260.50,488.93 261.00,489.40 261.50,489.92 262.00,490.49 262.50,491.09 263.00,491.71 263.50,492.33 264.00,493.07 264.50,493.97 265.00,495.00 265.50,496.14 266.00,497.35 266.50,498.60 267.00,499.87 267.50,501.12 268.00,502.33 268.50,503.47 269.00,504.53 269.50,505.58 270.00,506.62 270.50,507.66 271.00,508.69 271.50,509.71 272.00,510.73 272.50,511.74 273.00,512.74 273.50,513.73 274.00,514.71 274.50,515.68 275.00,516.64 275.50,517.58 276.00,518.52 276.50,519.44 277.00,520.35 277.50,521.25 278.00,522.14 278.50,523.02 279.00,523.90 279.50,524.76 280.00,525.62 280.50,526.47 281.00,527.31 281.50,528.14 282.00,528.97 282.50,529.79 283.00,530.60 283.50,531.40 284.00,532.21 284.50,533.03 285.00,533.86 285.50,534.69 286.00,535.52 286.50,536.36 287.00,537.18 287.50,537.99 288.00,538.79 288.50,539.56 289.00,540.31 289.50,541.04 290.00,541.73 290.50,542.39 291.00,543.00 291.50,543.58 292.00,544.10 292.50,544.59 293.00,545.06 293.50,545.51 294.00,545.94 294.50,546.35 295.00,546.75 295.50,547.14 296.00,547.51 296.50,547.87 297.00,548.22 297.50,548.56 298.00,548.89 298.50,549.22 299.00,549.53 299.50,549.85 300.00,550.15 300.50,550.46 301.00,550.76 301.50,551.05 302.00,551.34 302.50,551.62 303.00,551.89 303.50,552.15 304.00,552.41 304.50,552.67 305.00,552.92 305.50,553.17 306.00,553.41 306.50,553.66 307.00,553.90 307.50,554.13 308.00,554.37 308.50,554.60 309.00,554.84 309.50,555.07 310.00,555.31 310.50,555.54 311.00,555.78 311.50,556.02 312.00,556.26 312.50,556.50 313.00,556.75 313.50,557.00 314.00,557.26 314.50,557.52 315.00,557.79 315.50,558.06 316.00,558.33 316.50,558.61 317.00,558.88 317.50,559.16 318.00,559.44 318.50,559.71 319.00,559.98 319.50,560.25 320.00,560.52 320.50,560.78 321.00,561.04 321.50,561.29 322.00,561.54 322.50,561.77 323.00,562.00 323.50,562.22 324.00,562.43 324.50,562.63 325.00,562.82 325.50,563.00 326.00,563.17 326.50,563.33 327.00,563.50 327.50,563.66 328.00,563.83 328.50,564.00 329.00,564.16 329.50,564.32 330.00,564.48 330.50,564.63 331.00,564.78 331.50,564.92 332.00,565.05 332.50,565.17 333.00,565.28 333.50,565.38 334.00,565.47 334.50,565.55 335.00,565.61 335.50,565.66 336.00,565.69 336.50,565.70 337.00,565.71 337.50,565.72 338.00,565.73 338.50,565.74 339.00,565.74 339.50,565.75 340.00,565.76 340.50,565.77 341.00,565.77 341.50,565.78 342.00,565.79 342.50,565.79 343.00,565.80 343.50,565.80 344.00,565.81 344.50,565.82 345.00,565.82 345.50,565.83 346.00,565.83 346.50,565.84 347.00,565.84 347.50,565.85 348.00,565.85 348.50,565.85 349.00,565.86 349.50,565.86 350.00,565.86 350.50,565.87 351.00,565.87 351.50,565.87 352.00,565.88 352.50,565.88 353.00,565.88 353.50,565.88 354.00,565.89 354.50,565.89 355.00,565.89 355.50,565.89 356.00,565.89 356.50,565.89 357.00,565.90 357.50,565.90 358.00,565.90 358.50,565.90 359.00,565.90 359.50,565.90 360.00,565.90 360.50,565.90 361.00,565.90" fill="none" stroke="#d95319" stroke-width="2.2" stroke-linejoin="round" stroke-linecap="round" />
<line x1="32.50" y1="313.20" x2="32.50" y2="410.00" stroke="#555555" stroke-width="1.0" />
<line x1="32.00" y1="409.50" x2="171.50" y2="409.50" stroke="#555555" stroke-width="1.0" />
<line x1="222.50" y1="313.00" x2="222.50" y2="410.00" stroke="#555555" stroke-width="1.0" />
<line x1="222.00" y1="409.50" x2="362.20" y2="409.50" stroke="#555555" stroke-width="1.0" />
<line x1="32.50" y1="478.30" x2="32.50" y2="575.00" stroke="#555555" stroke-width="1.0" />
<line x1="32.00" y1="574.50" x2="171.30" y2="574.50" stroke="#555555" stroke-width="1.0" />
<line x1="222.50" y1="477.90" x2="222.50" y2="575.00" stroke="#555555" stroke-width="1.0" />
<line x1="222.00" y1="574.50" x2="361.50" y2="574.50" stroke="#555555" stroke-width="1.0" />
<line x1="32.50" y1="401.79" x2="33.90" y2="401.79" stroke="#555555" stroke-width="0.8" />
<text transform="translate(29.30,405.59) scale(0.93,1)" font-size="9.68" text-anchor="end" font-weight="normal" fill="#000000"  stroke="#000000" stroke-width="0.12">0</text>
<line x1="32.50" y1="357.50" x2="33.90" y2="357.50" stroke="#555555" stroke-width="0.8" />
<text transform="translate(29.30,361.30) scale(0.93,1)" font-size="9.68" text-anchor="end" font-weight="normal" fill="#000000"  stroke="#000000" stroke-width="0.12">5</text>
<line x1="32.50" y1="313.20" x2="33.90" y2="313.20" stroke="#555555" stroke-width="0.8" />
<text transform="translate(29.30,317.00) scale(0.93,1)" font-size="9.68" text-anchor="end" font-weight="normal" fill="#000000"  stroke="#000000" stroke-width="0.12">10</text>
<line x1="47.94" y1="409.50" x2="47.94" y2="408.10" stroke="#555555" stroke-width="0.8" />
<text transform="translate(47.44,420.30) scale(0.93,1)" font-size="9.68" text-anchor="middle" font-weight="normal" fill="#000000"  stroke="#000000" stroke-width="0.12">5</text>
<line x1="78.83" y1="409.50" x2="78.83" y2="408.10" stroke="#555555" stroke-width="0.8" />
<text transform="translate(78.33,420.30) scale(0.93,1)" font-size="9.68" text-anchor="middle" font-weight="normal" fill="#000000"  stroke="#000000" stroke-width="0.12">15</text>
<line x1="109.72" y1="409.50" x2="109.72" y2="408.10" stroke="#555555" stroke-width="0.8" />
<text transform="translate(109.22,420.30) scale(0.93,1)" font-size="9.68" text-anchor="middle" font-weight="normal" fill="#000000"  stroke="#000000" stroke-width="0.12">25</text>
<line x1="140.61" y1="409.50" x2="140.61" y2="408.10" stroke="#555555" stroke-width="0.8" />
<text transform="translate(140.11,420.30) scale(0.93,1)" font-size="9.68" text-anchor="middle" font-weight="normal" fill="#000000"  stroke="#000000" stroke-width="0.12">35</text>
<line x1="171.50" y1="409.50" x2="171.50" y2="408.10" stroke="#555555" stroke-width="0.8" />
<text transform="translate(171.00,420.30) scale(0.93,1)" font-size="9.68" text-anchor="middle" font-weight="normal" fill="#000000"  stroke="#000000" stroke-width="0.12">45</text>
<line x1="222.50" y1="398.82" x2="223.90" y2="398.82" stroke="#555555" stroke-width="0.8" />
<text transform="translate(219.30,403.82) scale(0.93,1)" font-size="9.68" text-anchor="end" font-weight="normal" fill="#000000"  stroke="#000000" stroke-width="0.12">0</text>
<line x1="222.50" y1="355.91" x2="223.90" y2="355.91" stroke="#555555" stroke-width="0.8" />
<text transform="translate(219.30,360.91) scale(0.93,1)" font-size="9.68" text-anchor="end" font-weight="normal" fill="#000000"  stroke="#000000" stroke-width="0.12">100</text>
<line x1="222.50" y1="313.00" x2="223.90" y2="313.00" stroke="#555555" stroke-width="0.8" />
<text transform="translate(219.30,318.00) scale(0.93,1)" font-size="9.68" text-anchor="end" font-weight="normal" fill="#000000"  stroke="#000000" stroke-width="0.12">200</text>
<line x1="238.57" y1="409.50" x2="238.57" y2="408.10" stroke="#555555" stroke-width="0.8" />
<text transform="translate(238.07,420.30) scale(0.93,1)" font-size="9.68" text-anchor="middle" font-weight="normal" fill="#000000"  stroke="#000000" stroke-width="0.12">5</text>
<line x1="269.48" y1="409.50" x2="269.48" y2="408.10" stroke="#555555" stroke-width="0.8" />
<text transform="translate(268.98,420.30) scale(0.93,1)" font-size="9.68" text-anchor="middle" font-weight="normal" fill="#000000"  stroke="#000000" stroke-width="0.12">15</text>
<line x1="300.39" y1="409.50" x2="300.39" y2="408.10" stroke="#555555" stroke-width="0.8" />
<text transform="translate(299.89,420.30) scale(0.93,1)" font-size="9.68" text-anchor="middle" font-weight="normal" fill="#000000"  stroke="#000000" stroke-width="0.12">25</text>
<line x1="331.29" y1="409.50" x2="331.29" y2="408.10" stroke="#555555" stroke-width="0.8" />
<text transform="translate(330.79,420.30) scale(0.93,1)" font-size="9.68" text-anchor="middle" font-weight="normal" fill="#000000"  stroke="#000000" stroke-width="0.12">35</text>
<line x1="362.20" y1="409.50" x2="362.20" y2="408.10" stroke="#555555" stroke-width="0.8" />
<text transform="translate(361.70,420.30) scale(0.93,1)" font-size="9.68" text-anchor="middle" font-weight="normal" fill="#000000"  stroke="#000000" stroke-width="0.12">45</text>
<line x1="32.50" y1="567.29" x2="33.90" y2="567.29" stroke="#555555" stroke-width="0.8" />
<text transform="translate(29.30,570.69) scale(0.93,1)" font-size="9.68" text-anchor="end" font-weight="normal" fill="#000000"  stroke="#000000" stroke-width="0.12">0</text>
<line x1="32.50" y1="545.04" x2="33.90" y2="545.04" stroke="#555555" stroke-width="0.8" />
<text transform="translate(29.30,548.44) scale(0.93,1)" font-size="9.68" text-anchor="end" font-weight="normal" fill="#000000"  stroke="#000000" stroke-width="0.12">5</text>
<line x1="32.50" y1="522.80" x2="33.90" y2="522.80" stroke="#555555" stroke-width="0.8" />
<text transform="translate(29.30,526.20) scale(0.93,1)" font-size="9.68" text-anchor="end" font-weight="normal" fill="#000000"  stroke="#000000" stroke-width="0.12">10</text>
<line x1="32.50" y1="500.55" x2="33.90" y2="500.55" stroke="#555555" stroke-width="0.8" />
<text transform="translate(29.30,503.95) scale(0.93,1)" font-size="9.68" text-anchor="end" font-weight="normal" fill="#000000"  stroke="#000000" stroke-width="0.12">15</text>
<line x1="32.50" y1="478.30" x2="33.90" y2="478.30" stroke="#555555" stroke-width="0.8" />
<text transform="translate(29.30,481.70) scale(0.93,1)" font-size="9.68" text-anchor="end" font-weight="normal" fill="#000000"  stroke="#000000" stroke-width="0.12">20</text>
<line x1="47.92" y1="574.50" x2="47.92" y2="573.10" stroke="#555555" stroke-width="0.8" />
<text transform="translate(47.42,584.30) scale(0.93,1)" font-size="9.68" text-anchor="middle" font-weight="normal" fill="#000000"  stroke="#000000" stroke-width="0.12">5</text>
<line x1="78.77" y1="574.50" x2="78.77" y2="573.10" stroke="#555555" stroke-width="0.8" />
<text transform="translate(78.27,584.30) scale(0.93,1)" font-size="9.68" text-anchor="middle" font-weight="normal" fill="#000000"  stroke="#000000" stroke-width="0.12">15</text>
<line x1="109.61" y1="574.50" x2="109.61" y2="573.10" stroke="#555555" stroke-width="0.8" />
<text transform="translate(109.11,584.30) scale(0.93,1)" font-size="9.68" text-anchor="middle" font-weight="normal" fill="#000000"  stroke="#000000" stroke-width="0.12">25</text>
<line x1="140.46" y1="574.50" x2="140.46" y2="573.10" stroke="#555555" stroke-width="0.8" />
<text transform="translate(139.96,584.30) scale(0.93,1)" font-size="9.68" text-anchor="middle" font-weight="normal" fill="#000000"  stroke="#000000" stroke-width="0.12">35</text>
<line x1="171.30" y1="574.50" x2="171.30" y2="573.10" stroke="#555555" stroke-width="0.8" />
<text transform="translate(170.80,584.30) scale(0.93,1)" font-size="9.68" text-anchor="middle" font-weight="normal" fill="#000000"  stroke="#000000" stroke-width="0.12">45</text>
<line x1="222.50" y1="560.94" x2="223.90" y2="560.94" stroke="#555555" stroke-width="0.8" />
<text transform="translate(219.30,566.54) scale(0.93,1)" font-size="9.68" text-anchor="end" font-weight="normal" fill="#000000"  stroke="#000000" stroke-width="0.12">0</text>
<line x1="222.50" y1="533.26" x2="223.90" y2="533.26" stroke="#555555" stroke-width="0.8" />
<text transform="translate(219.30,538.86) scale(0.93,1)" font-size="9.68" text-anchor="end" font-weight="normal" fill="#000000"  stroke="#000000" stroke-width="0.12">100</text>
<line x1="222.50" y1="505.58" x2="223.90" y2="505.58" stroke="#555555" stroke-width="0.8" />
<text transform="translate(219.30,511.18) scale(0.93,1)" font-size="9.68" text-anchor="end" font-weight="normal" fill="#000000"  stroke="#000000" stroke-width="0.12">200</text>
<line x1="222.50" y1="477.90" x2="223.90" y2="477.90" stroke="#555555" stroke-width="0.8" />
<text transform="translate(219.30,483.50) scale(0.93,1)" font-size="9.68" text-anchor="end" font-weight="normal" fill="#000000"  stroke="#000000" stroke-width="0.12">300</text>
<line x1="238.49" y1="574.50" x2="238.49" y2="573.10" stroke="#555555" stroke-width="0.8" />
<text transform="translate(237.99,584.30) scale(0.93,1)" font-size="9.68" text-anchor="middle" font-weight="normal" fill="#000000"  stroke="#000000" stroke-width="0.12">5</text>
<line x1="269.24" y1="574.50" x2="269.24" y2="573.10" stroke="#555555" stroke-width="0.8" />
<text transform="translate(268.74,584.30) scale(0.93,1)" font-size="9.68" text-anchor="middle" font-weight="normal" fill="#000000"  stroke="#000000" stroke-width="0.12">15</text>
<line x1="300.00" y1="574.50" x2="300.00" y2="573.10" stroke="#555555" stroke-width="0.8" />
<text transform="translate(299.50,584.30) scale(0.93,1)" font-size="9.68" text-anchor="middle" font-weight="normal" fill="#000000"  stroke="#000000" stroke-width="0.12">25</text>
<line x1="330.75" y1="574.50" x2="330.75" y2="573.10" stroke="#555555" stroke-width="0.8" />
<text transform="translate(330.25,584.30) scale(0.93,1)" font-size="9.68" text-anchor="middle" font-weight="normal" fill="#000000"  stroke="#000000" stroke-width="0.12">35</text>
<line x1="361.50" y1="574.50" x2="361.50" y2="573.10" stroke="#555555" stroke-width="0.8" />
<text transform="translate(361.00,584.30) scale(0.93,1)" font-size="9.68" text-anchor="middle" font-weight="normal" fill="#000000"  stroke="#000000" stroke-width="0.12">45</text>
<text transform="translate(107.60,431.20) scale(0.93,1)" font-size="10.11" text-anchor="middle" font-weight="normal" fill="#000000"  stroke="#000000" stroke-width="0.12">Time (s)</text>
<text transform="translate(297.90,431.20) scale(0.93,1)" font-size="10.11" text-anchor="middle" font-weight="normal" fill="#000000"  stroke="#000000" stroke-width="0.12">Time (s)</text>
<text transform="translate(93.00,595.60) scale(0.93,1)" font-size="10.11" text-anchor="middle" font-weight="normal" fill="#000000"  stroke="#000000" stroke-width="0.12">Time (s)</text>
<text transform="translate(284.20,595.50) scale(0.93,1)" font-size="10.11" text-anchor="middle" font-weight="normal" fill="#000000"  stroke="#000000" stroke-width="0.12">Time (s)</text>
<text transform="translate(10.50,361.30) rotate(-90)" font-size="9.3" text-anchor="middle" font-weight="normal" fill="#000000"  stroke="#000000" stroke-width="0.12">ΔF Ca<tspan font-size="6.2" dy="-3.6">2+</tspan><tspan dy="3.6"> (a.u.)</tspan></text>
<text transform="translate(10.60,523.00) rotate(-90)" font-size="9.3" text-anchor="middle" font-weight="normal" fill="#000000"  stroke="#000000" stroke-width="0.12">ΔF Ca<tspan font-size="6.2" dy="-3.6">2+</tspan><tspan dy="3.6"> (a.u.)</tspan></text>
<text transform="translate(195.40,361.90) rotate(-90)" font-size="9.35" text-anchor="middle" font-weight="normal" fill="#000000"  stroke="#000000" stroke-width="0.12">ΔRBC velocity (%)</text>
<text transform="translate(195.40,526.00) rotate(-90)" font-size="9.35" text-anchor="middle" font-weight="normal" fill="#000000"  stroke="#000000" stroke-width="0.12">ΔRBC velocity (%)</text>
<line x1="296.90" y1="309.00" x2="316.10" y2="309.00" stroke="#0072bd" stroke-width="1.1" />
<line x1="296.90" y1="318.90" x2="316.10" y2="318.90" stroke="#d95319" stroke-width="1.1" />
<text transform="translate(320.70,311.80) scale(0.93,1)" font-size="8.17" text-anchor="start" font-weight="normal" fill="#000000"  stroke="#000000" stroke-width="0.12">Exp data</text>
<text transform="translate(320.70,322.00) scale(0.93,1)" font-size="8.17" text-anchor="start" font-weight="normal" fill="#000000"  stroke="#000000" stroke-width="0.12">Prediction</text>
<text x="383.60" y="290.50" font-size="14" text-anchor="start" font-weight="bold" fill="#000" >c</text>
<rect x="469.61" y="285.50" width="42.22" height="135.00" fill="#ababab" />
<line x1="469.61" y1="285.50" x2="469.61" y2="420.50" stroke="#6e6e6e" stroke-width="0.9" />
<line x1="511.83" y1="285.50" x2="511.83" y2="420.50" stroke="#6e6e6e" stroke-width="0.9" />
<polyline points="448.60,375.31 449.30,373.08 450.00,372.55 450.70,375.43 451.40,377.87 452.10,379.33 452.80,377.30 453.50,374.93 454.20,372.57 454.90,374.46 455.60,377.32 456.30,378.38 457.00,378.99 457.70,378.75 458.40,378.92 459.10,379.32 459.80,381.58 460.50,383.18 461.20,386.23 461.90,391.38 462.60,394.66 463.30,386.65 464.00,380.10 464.70,380.10 465.40,379.96 466.10,380.32 466.80,380.70 467.50,382.29 468.20,382.10 468.90,382.91 469.60,384.53 470.30,385.91 471.00,386.07 471.70,386.67 472.40,389.09 473.10,390.71 473.80,390.35 474.50,391.73 475.20,392.00 475.90,392.41 476.60,385.57 477.30,371.68 478.00,364.96 478.70,364.74 479.40,363.63 480.10,366.93 480.80,369.75 481.50,371.04 482.20,371.97 482.90,363.49 483.60,354.69 484.30,351.41 485.00,349.89 485.70,351.27 486.40,360.05 487.10,365.31 487.80,361.98 488.50,351.52 489.20,340.60 489.90,341.06 490.60,355.95 491.30,364.10 492.00,367.18 492.70,370.80 493.40,373.16 494.10,377.31 494.80,380.38 495.50,378.46 496.20,376.03 496.90,372.27 497.60,372.33 498.30,370.39 499.00,370.26 499.70,369.26 500.40,369.67 501.10,368.01 501.80,367.70 502.50,369.24 503.20,373.07 503.90,375.29 504.60,373.96 505.30,372.70 506.00,370.52 506.70,368.91 507.40,369.38 508.10,367.49 508.80,371.22 509.50,377.55 510.20,381.35 510.90,383.93 511.60,386.05 512.30,389.19 513.00,394.98 513.70,399.78 514.40,398.89 515.10,394.58 515.80,392.03 516.50,395.35 517.20,401.04 517.90,406.23 518.60,399.69 519.30,387.02 520.00,379.76 520.70,386.80 521.40,395.27 522.10,399.86 522.80,391.70 523.50,378.16 524.20,375.31 524.90,383.08 525.60,392.89 526.30,393.88 527.00,382.07 527.70,371.83 528.40,371.21 529.10,378.62 529.80,384.49 530.50,380.98 531.20,369.24 531.90,362.04 532.60,365.33 533.30,374.80 534.00,378.84 534.70,373.75 535.40,363.65 536.10,360.96 536.80,362.48 537.50,364.46 538.20,365.56 538.90,358.61 539.60,350.93 540.30,348.23 541.00,347.21 541.70,348.10 542.40,346.25 543.10,346.68 543.80,345.07 544.50,345.05 545.20,343.29 545.90,342.86 546.60,336.46 547.30,324.81 548.00,312.88 548.70,307.63 549.40,326.76 550.10,344.03 550.80,344.46 551.50,344.35 552.20,345.72 552.90,343.27 553.60,340.45 554.30,337.19 555.00,331.66 555.70,324.82 556.40,307.29 557.10,292.96 557.80,301.25 558.50,327.62 559.20,339.97 559.90,344.32 560.60,344.91 561.30,344.12 562.00,333.06 562.70,320.06 563.40,324.45 564.10,339.71 564.80,341.65 565.50,328.61 566.20,322.25 566.90,331.62 567.60,342.64 568.30,346.40 569.00,339.94 569.70,330.53 570.40,324.92 571.10,325.65 571.80,336.61 572.50,346.34 573.20,343.41 573.90,339.52 574.60,327.55 575.30,314.02 576.00,315.21 576.70,331.71 577.40,330.64 578.10,318.66 578.80,315.60 579.50,330.01 580.20,343.54 580.90,345.01 581.60,342.42 582.30,338.70 583.00,325.33 583.70,315.33 584.40,313.79 585.10,333.60 585.80,338.74 586.50,328.48 587.20,323.62 587.90,332.93 588.60,343.23 589.30,344.39 590.00,334.17 590.70,324.36 591.40,324.38 592.10,334.81 592.80,342.08 593.50,344.50 594.20,342.13 594.90,341.66 595.60,340.36 596.30,339.53 597.00,337.83 597.70,339.12 598.40,340.82 599.10,342.59 599.80,344.56 600.50,343.24 601.20,341.33 601.90,340.47 602.60,341.42 603.30,340.78 604.00,344.90 604.70,346.29 605.40,348.21 606.10,343.76 606.80,345.64 607.50,345.30 608.20,345.04 608.90,348.95 609.60,351.67 610.30,352.27 611.00,350.41 611.70,351.19 612.40,350.59 613.10,351.04 613.80,352.31 614.50,356.36 615.20,357.45 615.90,355.54 616.60,356.30 617.30,354.45 618.00,354.13 618.70,356.81 619.40,359.10 620.10,360.01 620.80,359.94 621.50,360.06 622.20,361.27 622.90,361.04 623.60,362.14 624.30,362.35 625.00,361.18 625.70,361.90 626.40,361.83 627.10,362.43 627.80,362.34 628.50,362.05 629.20,362.13 629.90,362.33 630.60,362.66 631.30,361.41 632.00,362.30 632.70,363.09 633.40,362.54 634.10,361.66 634.80,360.83 635.50,362.92 636.20,362.06 636.90,362.07 637.60,361.18 638.30,360.96" fill="none" stroke="#7a7a7a" stroke-width="0.95" stroke-linejoin="miter" stroke-linecap="round" />
<polyline points="448.60,378.40 449.30,381.45 450.00,381.94 450.70,383.21 451.40,381.18 452.10,384.43 452.80,382.71 453.50,380.21 454.20,378.94 454.90,378.04 455.60,378.18 456.30,380.62 457.00,380.94 457.70,380.23 458.40,381.53 459.10,385.86 459.80,385.14 460.50,382.87 461.20,383.37 461.90,382.52 462.60,382.76 463.30,383.31 464.00,381.64 464.70,382.80 465.40,383.87 466.10,385.17 466.80,384.32 467.50,385.54 468.20,388.55 468.90,385.54 469.60,385.40 470.30,385.35 471.00,383.33 471.70,382.82 472.40,384.66 473.10,382.94 473.80,378.32 474.50,378.22 475.20,374.88 475.90,373.18 476.60,374.16 477.30,375.27 478.00,371.89 478.70,370.38 479.40,361.95 480.10,359.82 480.80,357.33 481.50,355.56 482.20,356.71 482.90,362.12 483.60,367.73 484.30,367.76 485.00,365.28 485.70,362.46 486.40,362.64 487.10,367.49 487.80,372.34 488.50,375.26 489.20,371.73 489.90,367.58 490.60,366.33 491.30,363.82 492.00,361.72 492.70,365.95 493.40,376.04 494.10,379.05 494.80,377.05 495.50,372.57 496.20,370.39 496.90,370.27 497.60,371.35 498.30,370.86 499.00,369.08 499.70,366.64 500.40,368.20 501.10,372.02 501.80,375.05 502.50,379.47 503.20,378.37 503.90,377.39 504.60,374.19 505.30,373.27 506.00,371.30 506.70,371.93 507.40,375.30 508.10,376.15 508.80,381.93 509.50,386.25 510.20,391.70 510.90,392.91 511.60,398.20 512.30,400.37 513.00,406.71 513.70,399.93 514.40,391.95 515.10,386.15 515.80,395.04 516.50,404.89 517.20,406.91 517.90,400.20 518.60,392.48 519.30,391.43 520.00,394.66 520.70,403.05 521.40,400.13 522.10,392.31 522.80,385.53 523.50,386.13 524.20,391.24 524.90,395.48 525.60,390.82 526.30,384.27 527.00,377.55 527.70,382.14 528.40,384.49 529.10,388.09 529.80,383.09 530.50,376.03 531.20,373.79 531.90,373.99 532.60,378.17 533.30,380.94 534.00,371.86 534.70,363.80 535.40,366.51 536.10,367.14 536.80,366.54 537.50,368.72 538.20,371.37 538.90,367.18 539.60,363.59 540.30,360.07 541.00,359.51 541.70,354.09 542.40,355.32 543.10,353.75 543.80,352.80 544.50,351.21 545.20,347.70 545.90,345.58 546.60,342.93 547.30,342.62 548.00,337.69 548.70,340.56 549.40,341.12 550.10,339.61 550.80,343.35 551.50,342.47 552.20,339.70 552.90,341.28 553.60,342.07 554.30,340.81 555.00,339.28 555.70,340.71 556.40,340.41 557.10,339.33 557.80,340.93 558.50,343.65 559.20,344.14 559.90,341.74 560.60,342.12 561.30,344.58 562.00,343.37 562.70,342.48 563.40,341.82 564.10,342.32 564.80,343.16 565.50,339.05 566.20,343.22 566.90,341.15 567.60,340.86 568.30,341.89 569.00,341.50 569.70,341.70 570.40,343.04 571.10,342.41 571.80,344.14 572.50,340.87 573.20,343.77 573.90,341.19 574.60,342.91 575.30,342.35 576.00,344.17 576.70,341.66 577.40,343.73 578.10,346.01 578.80,346.05 579.50,344.46 580.20,346.08 580.90,346.78 581.60,346.34 582.30,347.51 583.00,347.53 583.70,343.67 584.40,347.64 585.10,351.67 585.80,346.93 586.50,347.31 587.20,348.07 587.90,347.28 588.60,348.17 589.30,348.71 590.00,351.64 590.70,348.95 591.40,350.15 592.10,349.31 592.80,348.49 593.50,348.97 594.20,348.54 594.90,351.92 595.60,350.08 596.30,348.85 597.00,351.22 597.70,354.54 598.40,352.94 599.10,353.25 599.80,354.27 600.50,353.90 601.20,353.52 601.90,356.96 602.60,351.39 603.30,355.39 604.00,355.31 604.70,356.59 605.40,356.33 606.10,359.16 606.80,360.13 607.50,358.72 608.20,357.30 608.90,358.40 609.60,359.32 610.30,359.08 611.00,359.17 611.70,363.59 612.40,363.00 613.10,360.80 613.80,361.08 614.50,362.45 615.20,361.62 615.90,363.34 616.60,363.71 617.30,362.83 618.00,361.65 618.70,362.50 619.40,360.85 620.10,362.56 620.80,365.42 621.50,362.42 622.20,364.07 622.90,364.80 623.60,365.37 624.30,361.60 625.00,363.10 625.70,362.67 626.40,365.20 627.10,364.88 627.80,362.13 628.50,362.82 629.20,364.03 629.90,366.25 630.60,363.14 631.30,365.22 632.00,362.57 632.70,362.09 633.40,364.76 634.10,362.71 634.80,361.72 635.50,365.40 636.20,364.61 636.90,362.21 637.60,365.05 638.30,364.56" fill="none" stroke="#808080" stroke-width="0.95" stroke-linejoin="miter" stroke-linecap="round" />
<polyline points="448.60,383.40 449.30,382.40 450.00,385.30 450.70,385.94 451.40,382.40 452.10,383.30 452.80,384.85 453.50,383.64 454.20,383.25 454.90,381.45 455.60,383.23 456.30,383.11 457.00,383.02 457.70,385.80 458.40,386.50 459.10,386.11 459.80,388.44 460.50,386.58 461.20,388.28 461.90,386.08 462.60,384.89 463.30,383.44 464.00,385.59 464.70,383.91 465.40,383.85 466.10,384.36 466.80,385.97 467.50,386.20 468.20,386.63 468.90,386.97 469.60,389.49 470.30,386.48 471.00,386.69 471.70,386.73 472.40,389.17 473.10,390.75 473.80,390.28 474.50,390.58 475.20,391.79 475.90,394.72 476.60,395.69 477.30,396.24 478.00,395.40 478.70,397.13 479.40,397.35 480.10,397.81 480.80,398.92 481.50,398.25 482.20,398.88 482.90,398.00 483.60,398.12 484.30,398.35 485.00,395.40 485.70,396.66 486.40,396.29 487.10,395.93 487.80,396.26 488.50,398.41 489.20,395.15 489.90,397.30 490.60,393.51 491.30,394.74 492.00,394.73 492.70,394.49 493.40,393.76 494.10,392.88 494.80,390.01 495.50,388.09 496.20,387.96 496.90,384.95 497.60,382.25 498.30,381.29 499.00,380.47 499.70,381.17 500.40,379.37 501.10,378.37 501.80,375.06 502.50,374.10 503.20,373.41 503.90,371.61 504.60,372.89 505.30,372.37 506.00,374.07 506.70,375.48 507.40,375.69 508.10,378.72 508.80,377.93 509.50,378.88 510.20,379.87 510.90,380.46 511.60,383.83 512.30,388.69 513.00,391.45 513.70,389.92 514.40,384.32 515.10,383.21 515.80,387.86 516.50,394.67 517.20,398.07 517.90,390.02 518.60,383.17 519.30,384.48 520.00,388.04 520.70,395.17 521.40,392.02 522.10,384.96 522.80,377.24 523.50,378.30 524.20,382.61 524.90,382.71 525.60,388.08 526.30,387.86 527.00,383.08 527.70,376.53 528.40,373.76 529.10,371.34 529.80,373.71 530.50,376.03 531.20,380.68 531.90,379.66 532.60,377.21 533.30,374.62 534.00,369.92 534.70,368.16 535.40,367.38 536.10,368.29 536.80,371.79 537.50,370.01 538.20,371.04 538.90,368.51 539.60,365.55 540.30,360.54 541.00,360.83 541.70,358.69 542.40,356.26 543.10,356.19 543.80,357.36 544.50,357.50 545.20,358.42 545.90,358.97 546.60,355.05 547.30,352.55 548.00,350.41 548.70,352.93 549.40,351.01 550.10,351.12 550.80,350.60 551.50,351.12 552.20,352.69 552.90,351.54 553.60,351.17 554.30,350.08 555.00,349.30 555.70,350.92 556.40,351.55 557.10,354.00 557.80,351.94 558.50,353.13 559.20,351.27 559.90,350.45 560.60,350.80 561.30,351.17 562.00,354.95 562.70,351.18 563.40,353.40 564.10,351.20 564.80,353.66 565.50,353.02 566.20,352.38 566.90,352.60 567.60,351.88 568.30,353.39 569.00,352.29 569.70,351.37 570.40,351.39 571.10,353.35 571.80,355.27 572.50,353.51 573.20,353.23 573.90,353.85 574.60,355.27 575.30,353.96 576.00,353.24 576.70,355.32 577.40,354.56 578.10,356.12 578.80,354.50 579.50,352.82 580.20,352.81 580.90,356.92 581.60,357.22 582.30,354.95 583.00,354.90 583.70,357.51 584.40,354.38 585.10,354.87 585.80,357.08 586.50,355.95 587.20,356.68 587.90,356.69 588.60,357.56 589.30,359.15 590.00,357.62 590.70,358.50 591.40,355.14 592.10,357.87 592.80,356.95 593.50,356.58 594.20,357.14 594.90,357.97 595.60,359.72 596.30,356.95 597.00,358.87 597.70,358.37 598.40,358.78 599.10,360.75 599.80,360.41 600.50,361.74 601.20,360.10 601.90,359.72 602.60,360.65 603.30,361.58 604.00,361.81 604.70,360.47 605.40,362.28 606.10,362.76 606.80,366.03 607.50,365.49 608.20,362.23 608.90,363.24 609.60,361.96 610.30,363.33 611.00,364.72 611.70,366.08 612.40,363.75 613.10,364.03 613.80,362.27 614.50,365.02 615.20,364.02 615.90,364.88 616.60,364.59 617.30,365.77 618.00,363.77 618.70,364.30 619.40,369.12 620.10,364.83 620.80,365.22 621.50,369.18 622.20,370.71 622.90,365.55 623.60,366.74 624.30,367.80 625.00,369.75 625.70,366.36 626.40,367.47 627.10,368.94 627.80,368.63 628.50,367.72 629.20,368.17 629.90,366.69 630.60,368.30 631.30,368.40 632.00,369.18 632.70,368.28 633.40,369.75 634.10,370.58 634.80,369.59 635.50,369.97 636.20,369.70 636.90,369.76 637.60,368.94 638.30,370.41" fill="none" stroke="#7c7c7c" stroke-width="0.95" stroke-linejoin="miter" stroke-linecap="round" />
<polyline points="448.60,378.32 449.30,379.82 450.00,379.07 450.70,379.48 451.40,378.83 452.10,383.36 452.80,382.81 453.50,383.76 454.20,383.12 454.90,386.24 455.60,386.18 456.30,384.78 457.00,383.65 457.70,382.98 458.40,381.37 459.10,381.55 459.80,380.23 460.50,381.98 461.20,381.61 461.90,382.85 462.60,386.59 463.30,384.65 464.00,383.96 464.70,386.31 465.40,382.74 466.10,385.27 466.80,385.71 467.50,384.18 468.20,384.03 468.90,381.59 469.60,385.43 470.30,385.74 471.00,384.16 471.70,388.46 472.40,384.41 473.10,383.82 473.80,383.65 474.50,386.03 475.20,386.44 475.90,386.57 476.60,385.44 477.30,384.43 478.00,386.01 478.70,383.11 479.40,382.01 480.10,384.46 480.80,381.80 481.50,381.19 482.20,380.62 482.90,378.34 483.60,377.69 484.30,378.59 485.00,376.48 485.70,377.46 486.40,376.99 487.10,376.17 487.80,379.96 488.50,378.19 489.20,381.30 489.90,381.99 490.60,384.24 491.30,381.84 492.00,383.26 492.70,384.39 493.40,385.12 494.10,386.12 494.80,384.98 495.50,383.70 496.20,383.85 496.90,384.06 497.60,378.61 498.30,379.78 499.00,380.27 499.70,378.93 500.40,380.29 501.10,377.71 501.80,376.69 502.50,379.30 503.20,375.24 503.90,379.25 504.60,384.11 505.30,382.18 506.00,383.47 506.70,382.32 507.40,383.95 508.10,384.19 508.80,387.24 509.50,384.11 510.20,382.79 510.90,389.70 511.60,395.07 512.30,395.61 513.00,395.63 513.70,394.35 514.40,392.29 515.10,389.33 515.80,393.21 516.50,395.94 517.20,404.17 517.90,408.97 518.60,404.85 519.30,397.33 520.00,396.37 520.70,398.26 521.40,399.88 522.10,400.93 522.80,398.73 523.50,389.47 524.20,387.89 524.90,392.07 525.60,392.64 526.30,394.25 527.00,393.43 527.70,393.56 528.40,387.79 529.10,381.08 529.80,379.43 530.50,376.84 531.20,378.41 531.90,381.84 532.60,384.59 533.30,382.60 534.00,379.59 534.70,374.95 535.40,371.52 536.10,368.98 536.80,371.05 537.50,366.84 538.20,370.19 538.90,368.84 539.60,370.14 540.30,371.98 541.00,368.99 541.70,368.85 542.40,369.09 543.10,365.64 543.80,367.60 544.50,367.25 545.20,365.59 545.90,366.26 546.60,365.25 547.30,363.78 548.00,362.77 548.70,365.47 549.40,366.23 550.10,362.62 550.80,363.82 551.50,361.44 552.20,362.08 552.90,361.75 553.60,360.67 554.30,361.87 555.00,363.18 555.70,362.59 556.40,361.17 557.10,363.68 557.80,362.10 558.50,364.15 559.20,360.10 559.90,365.72 560.60,361.60 561.30,360.38 562.00,360.67 562.70,363.44 563.40,363.60 564.10,363.69 564.80,363.64 565.50,361.59 566.20,363.12 566.90,360.58 567.60,362.74 568.30,365.06 569.00,362.05 569.70,367.88 570.40,366.72 571.10,363.86 571.80,366.56 572.50,366.61 573.20,365.98 573.90,367.22 574.60,366.40 575.30,367.04 576.00,368.11 576.70,368.37 577.40,368.54 578.10,368.94 578.80,370.13 579.50,370.30 580.20,368.15 580.90,369.14 581.60,372.48 582.30,373.07 583.00,372.25 583.70,371.67 584.40,373.61 585.10,373.96 585.80,371.71 586.50,374.57 587.20,373.47 587.90,375.45 588.60,376.73 589.30,379.37 590.00,374.55 590.70,375.25 591.40,373.01 592.10,369.15 592.80,367.05 593.50,366.29 594.20,373.16 594.90,377.19 595.60,380.44 596.30,379.29 597.00,380.09 597.70,380.79 598.40,379.18 599.10,381.77 599.80,379.76 600.50,381.21 601.20,379.09 601.90,380.15 602.60,376.99 603.30,377.62 604.00,369.32 604.70,371.69 605.40,371.63 606.10,375.25 606.80,382.15 607.50,379.39 608.20,383.06 608.90,385.60 609.60,385.55 610.30,384.62 611.00,386.16 611.70,384.94 612.40,385.16 613.10,384.84 613.80,387.17 614.50,386.31 615.20,389.31 615.90,387.28 616.60,384.39 617.30,387.50 618.00,385.18 618.70,386.38 619.40,387.06 620.10,385.60 620.80,386.50 621.50,386.41 622.20,387.59 622.90,387.44 623.60,387.54 624.30,390.05 625.00,388.71 625.70,388.77 626.40,389.89 627.10,391.17 627.80,390.86 628.50,387.95 629.20,390.26 629.90,390.78 630.60,391.19 631.30,389.90 632.00,390.31 632.70,389.19 633.40,389.98 634.10,389.04 634.80,392.31 635.50,390.07 636.20,389.61 636.90,391.27 637.60,391.09 638.30,390.11" fill="none" stroke="#777777" stroke-width="0.95" stroke-linejoin="miter" stroke-linecap="round" />
<polyline points="448.60,382.18 449.10,381.45 449.60,382.69 450.10,381.92 450.60,380.59 451.10,381.55 451.60,381.31 452.10,382.81 452.60,382.50 453.10,381.37 453.60,382.35 454.10,383.86 454.60,383.67 455.10,382.82 455.60,381.33 456.10,379.89 456.60,381.80 457.10,382.34 457.60,381.84 458.10,382.88 458.60,381.61 459.10,380.38 459.60,381.58 460.10,381.00 460.60,380.13 461.10,380.60 461.60,379.74 462.10,378.48 462.60,378.03 463.10,378.80 463.60,380.05 464.10,379.44 464.60,378.54 465.10,380.10 465.60,382.27 466.10,383.22 466.60,382.77 467.10,382.97 467.60,383.99 468.10,382.21 468.60,382.02 469.10,382.15 469.60,379.80 470.10,378.44 470.60,380.02 471.10,382.60 471.60,383.89 472.10,384.45 472.60,385.24 473.10,387.86 473.60,390.07 474.10,391.23 474.60,393.15 475.10,395.18 475.60,398.49 476.10,399.08 476.60,397.69 477.10,396.92 477.60,396.96 478.10,396.78 478.60,394.87 479.10,394.03 479.60,394.32 480.10,396.61 480.60,396.15 481.10,394.29 481.60,393.85 482.10,391.18 482.60,388.86 483.10,384.92 483.60,380.82 484.10,377.71 484.60,375.89 485.10,375.16 485.60,375.09 486.10,374.33 486.60,372.24 487.10,370.10 487.60,365.40 488.10,360.52 488.60,360.18 489.10,360.72 489.60,360.82 490.10,361.69 490.60,362.78 491.10,364.93 491.60,366.61 492.10,366.28 492.60,366.08 493.10,367.06 493.60,368.37 494.10,372.88 494.60,375.62 495.10,379.38 495.60,381.22 496.10,379.27 496.60,377.56 497.10,375.85 497.60,376.95 498.10,377.78 498.60,379.33 499.10,382.70 499.60,384.87 500.10,386.40 500.60,390.61 501.10,392.16 501.60,392.71 502.10,392.57 502.60,390.89 503.10,391.25 503.60,392.05 504.10,389.81 504.60,383.75 505.10,381.19 505.60,382.67 506.10,383.67 506.60,383.31 507.10,384.55 507.60,387.35 508.10,387.95 508.60,388.28 509.10,389.11 509.60,390.17 510.10,389.30 510.60,387.98 511.10,387.93 511.60,386.54 512.10,387.48 512.60,389.40 513.10,390.52 513.60,391.36 514.10,391.32 514.60,391.38 515.10,389.83 515.60,389.27 516.10,390.14 516.60,389.51 517.10,387.29 517.60,384.24 518.10,382.77 518.60,382.51 519.10,381.05 519.60,378.04 520.10,377.91 520.60,379.17 521.10,379.11 521.60,379.14 522.10,379.45 522.60,380.01 523.10,379.10 523.60,379.15 524.10,379.04 524.60,377.27 525.10,375.90 525.60,375.59 526.10,375.35 526.60,374.19 527.10,372.07 527.60,369.02 528.10,368.01 528.60,368.71 529.10,368.84 529.60,366.74 530.10,365.99 530.60,364.95 531.10,363.47 531.60,363.96 532.10,364.52 532.60,362.81 533.10,360.49 533.60,359.82 534.10,359.74 534.60,359.56 535.10,360.15 535.60,360.40 536.10,359.37 536.60,361.09 537.10,361.38 537.60,358.90 538.10,357.90 538.60,357.55 539.10,356.99 539.60,355.43 540.10,354.64 540.60,355.52 541.10,356.09 541.60,356.80 542.10,358.34 542.60,359.78 543.10,358.39 543.60,356.88 544.10,356.64 544.60,355.99 545.10,354.35 545.60,352.49 546.10,350.44 546.60,347.25 547.10,344.98 547.60,344.25 548.10,343.26 548.60,346.42 549.10,352.61 549.60,355.83 550.10,357.87 550.60,358.68 551.10,358.46 551.60,358.52 552.10,357.92 552.60,357.60 553.10,355.77 553.60,355.17 554.10,355.76 554.60,355.30 555.10,355.52 555.60,355.38 556.10,355.28 556.60,356.52 557.10,358.28 557.60,357.43 558.10,357.38 558.60,359.55 559.10,359.90 559.60,358.58 560.10,357.53 560.60,359.35 561.10,360.07 561.60,358.28 562.10,360.27 562.60,362.41 563.10,362.25 563.60,362.63 564.10,363.04 564.60,363.62 565.10,364.22 565.60,364.52 566.10,365.00 566.60,365.73 567.10,365.78 567.60,366.04 568.10,365.84 568.60,365.90 569.10,368.24 569.60,368.86 570.10,368.11 570.60,368.34 571.10,369.53 571.60,369.61 572.10,370.60 572.60,371.47 573.10,370.92 573.60,372.57 574.10,373.91 574.60,372.43 575.10,370.93 575.60,371.29 576.10,372.05 576.60,373.22 577.10,372.77 577.60,372.16 578.10,371.95 578.60,372.97 579.10,374.70 579.60,372.37 580.10,371.82 580.60,373.31 581.10,373.47 581.60,374.08 582.10,374.37 582.60,375.00 583.10,375.42 583.60,376.53 584.10,377.91 584.60,376.03 585.10,376.47 585.60,378.53 586.10,377.57 586.60,377.73 587.10,379.21 587.60,380.65 588.10,381.63 588.60,381.01 589.10,380.40 589.60,381.66 590.10,382.02 590.60,381.15 591.10,379.82 591.60,380.53 592.10,382.18 592.60,381.60 593.10,381.43 593.60,380.72 594.10,381.14 594.60,383.19 595.10,383.72 595.60,382.48 596.10,381.68 596.60,382.39 597.10,383.11 597.60,384.34 598.10,385.74 598.60,385.37 599.10,384.84 599.60,384.78 600.10,386.73 600.60,386.77 601.10,386.07 601.60,386.96 602.10,386.25 602.60,386.30 603.10,385.43 603.60,385.59 604.10,384.93 604.60,383.92 605.10,385.52 605.60,385.46 606.10,383.13 606.60,381.60 607.10,380.97 607.60,381.53 608.10,380.91 608.60,378.55 609.10,377.62 609.60,377.16 610.10,375.99 610.60,374.94 611.10,373.92 611.60,373.48 612.10,372.63 612.60,372.62 613.10,374.12 613.60,373.03 614.10,372.04 614.60,372.14 615.10,371.38 615.60,372.32 616.10,372.73 616.60,371.11 617.10,371.26 617.60,372.58 618.10,372.47 618.60,372.30 619.10,372.72 619.60,372.52 620.10,372.79 620.60,373.82 621.10,374.74 621.60,374.71 622.10,374.20 622.60,373.62 623.10,373.36 623.60,375.37 624.10,377.12 624.60,376.36 625.10,376.65 625.60,377.81 626.10,379.55 626.60,381.42 627.10,380.04 627.60,380.75 628.10,382.74 628.60,382.71 629.10,382.86 629.60,383.07 630.10,383.98 630.60,385.03 631.10,384.85 631.60,382.87 632.10,382.28 632.60,381.79 633.10,380.23 633.60,379.62 634.10,378.23 634.60,376.37 635.10,377.24 635.60,378.54 636.10,378.82 636.60,378.38 637.10,378.19 637.60,377.00 638.10,376.45" fill="none" stroke="#000" stroke-width="3.0" stroke-linejoin="round" stroke-linecap="round" />
<line x1="448.50" y1="285.50" x2="448.50" y2="421.00" stroke="#555555" stroke-width="1.0" />
<line x1="448.00" y1="420.50" x2="638.50" y2="420.50" stroke="#555555" stroke-width="1.0" />
<line x1="448.00" y1="285.50" x2="639.00" y2="285.50" stroke="#555555" stroke-width="1.0" />
<line x1="638.50" y1="285.50" x2="638.50" y2="421.00" stroke="#555555" stroke-width="1.0" />
<line x1="448.50" y1="420.50" x2="449.90" y2="420.50" stroke="#555555" stroke-width="0.8" />
<text transform="translate(445.30,424.20) scale(0.93,1)" font-size="9.68" text-anchor="end" font-weight="normal" fill="#000000"  stroke="#000000" stroke-width="0.12">−100</text>
<line x1="448.50" y1="381.93" x2="449.90" y2="381.93" stroke="#555555" stroke-width="0.8" />
<text transform="translate(445.30,385.63) scale(0.93,1)" font-size="9.68" text-anchor="end" font-weight="normal" fill="#000000"  stroke="#000000" stroke-width="0.12">0</text>
<line x1="448.50" y1="343.36" x2="449.90" y2="343.36" stroke="#555555" stroke-width="0.8" />
<text transform="translate(445.30,347.06) scale(0.93,1)" font-size="9.68" text-anchor="end" font-weight="normal" fill="#000000"  stroke="#000000" stroke-width="0.12">100</text>
<line x1="448.50" y1="304.79" x2="449.90" y2="304.79" stroke="#555555" stroke-width="0.8" />
<text transform="translate(445.30,308.49) scale(0.93,1)" font-size="9.68" text-anchor="end" font-weight="normal" fill="#000000"  stroke="#000000" stroke-width="0.12">200</text>
<line x1="638.50" y1="319.60" x2="637.10" y2="319.60" stroke="#555555" stroke-width="0.8" />
<line x1="638.50" y1="352.90" x2="637.10" y2="352.90" stroke="#555555" stroke-width="0.8" />
<line x1="469.61" y1="420.50" x2="469.61" y2="419.10" stroke="#555555" stroke-width="0.8" />
<line x1="469.61" y1="285.50" x2="469.61" y2="286.90" stroke="#555555" stroke-width="0.8" />
<text transform="translate(469.11,431.90) scale(0.93,1)" font-size="9.68" text-anchor="middle" font-weight="normal" fill="#000000"  stroke="#000000" stroke-width="0.12">5</text>
<line x1="511.83" y1="420.50" x2="511.83" y2="419.10" stroke="#555555" stroke-width="0.8" />
<line x1="511.83" y1="285.50" x2="511.83" y2="286.90" stroke="#555555" stroke-width="0.8" />
<text transform="translate(511.33,431.90) scale(0.93,1)" font-size="9.68" text-anchor="middle" font-weight="normal" fill="#000000"  stroke="#000000" stroke-width="0.12">15</text>
<line x1="554.06" y1="420.50" x2="554.06" y2="419.10" stroke="#555555" stroke-width="0.8" />
<line x1="554.06" y1="285.50" x2="554.06" y2="286.90" stroke="#555555" stroke-width="0.8" />
<text transform="translate(553.56,431.90) scale(0.93,1)" font-size="9.68" text-anchor="middle" font-weight="normal" fill="#000000"  stroke="#000000" stroke-width="0.12">25</text>
<line x1="596.28" y1="420.50" x2="596.28" y2="419.10" stroke="#555555" stroke-width="0.8" />
<line x1="596.28" y1="285.50" x2="596.28" y2="286.90" stroke="#555555" stroke-width="0.8" />
<text transform="translate(595.78,431.90) scale(0.93,1)" font-size="9.68" text-anchor="middle" font-weight="normal" fill="#000000"  stroke="#000000" stroke-width="0.12">35</text>
<line x1="638.50" y1="420.50" x2="638.50" y2="419.10" stroke="#555555" stroke-width="0.8" />
<line x1="638.50" y1="285.50" x2="638.50" y2="286.90" stroke="#555555" stroke-width="0.8" />
<text transform="translate(638.00,431.90) scale(0.93,1)" font-size="9.68" text-anchor="middle" font-weight="normal" fill="#000000"  stroke="#000000" stroke-width="0.12">45</text>
<text transform="translate(550.30,444.80) scale(0.93,1)" font-size="10.11" text-anchor="middle" font-weight="normal" fill="#000000"  stroke="#000000" stroke-width="0.12">Time (s)</text>
<text transform="translate(405.20,353.00) rotate(-90)" font-size="9.0" text-anchor="middle" font-weight="normal" fill="#000000"  stroke="#000000" stroke-width="0.12">ΔRBC</text>
<text transform="translate(416.30,353.00) rotate(-90)" font-size="9.4" text-anchor="middle" font-weight="normal" fill="#000000"  stroke="#000000" stroke-width="0.12">velocity (%)</text>
<text transform="translate(614.30,297.40) scale(0.93,1)" font-size="8.60" text-anchor="middle" font-weight="normal" fill="#000000"  stroke="#000000" stroke-width="0.12">Exp data</text>
<text transform="translate(614.30,308.10) scale(0.93,1)" font-size="8.60" text-anchor="middle" font-weight="normal" fill="#000000"  stroke="#000000" stroke-width="0.12">minus</text>
<text transform="translate(614.30,318.30) scale(0.93,1)" font-size="8.60" text-anchor="middle" font-weight="normal" fill="#000000"  stroke="#000000" stroke-width="0.12">prediction</text>
<text x="384.00" y="464.00" font-size="14" text-anchor="start" font-weight="bold" fill="#000" >d</text>
<polyline points="417.50,575.20 417.55,574.92 417.59,574.63 417.64,574.35 417.69,574.07 417.73,573.78 417.78,573.50 417.83,573.22 417.87,572.93 417.92,572.65 417.97,572.37 418.02,572.08 418.06,571.80 418.11,571.52 418.16,571.23 418.20,570.95 418.25,570.67 418.30,570.38 418.34,570.10 418.39,569.82 418.44,569.53 418.49,569.25 418.53,568.97 418.58,568.69 418.63,568.40 418.68,568.12 418.72,567.84 418.77,567.55 418.82,567.27 418.86,566.99 418.91,566.70 418.96,566.42 419.01,566.14 419.05,565.85 419.10,565.57 419.15,565.29 419.20,565.00 419.24,564.72 419.29,564.44 419.34,564.15 419.39,563.87 419.43,563.59 419.48,563.31 419.53,563.02 419.58,562.74 419.62,562.46 419.67,562.17 419.72,561.89 419.77,561.61 419.82,561.32 419.86,561.04 419.91,560.76 419.96,560.47 420.01,560.19 420.05,559.91 420.10,559.62 420.15,559.34 420.20,559.06 420.25,558.78 420.29,558.49 420.34,558.21 420.39,557.93 420.44,557.64 420.49,557.36 420.53,557.08 420.58,556.79 420.63,556.51 420.68,556.23 420.73,555.94 420.77,555.66 420.82,555.38 420.87,555.10 420.92,554.81 420.97,554.53 421.01,554.25 421.06,553.96 421.11,553.68 421.16,553.40 421.21,553.11 421.26,552.83 421.30,552.55 421.35,552.27 421.40,551.98 421.45,551.70 421.50,551.42 421.55,551.13 421.59,550.85 421.64,550.57 421.69,550.28 421.74,550.00 421.79,549.72 421.84,549.44 421.89,549.15 421.93,548.87 421.98,548.59 422.03,548.30 422.08,548.02 422.13,547.74 422.18,547.45 422.23,547.17 422.27,546.89 422.32,546.61 422.37,546.32 422.42,546.04 422.47,545.76 422.52,545.47 422.57,545.19 422.62,544.91 422.66,544.62 422.71,544.34 422.76,544.06 422.81,543.78 422.86,543.49 422.90,543.21 422.95,542.92 423.00,542.64 423.04,542.36 423.09,542.07 423.14,541.79 423.18,541.51 423.23,541.22 423.27,540.94 423.32,540.65 423.36,540.37 423.41,540.09 423.45,539.80 423.50,539.52 423.54,539.23 423.59,538.95 423.63,538.66 423.68,538.38 423.72,538.09 423.77,537.81 423.81,537.53 423.86,537.24 423.90,536.96 423.94,536.67 423.99,536.39 424.03,536.10 424.08,535.82 424.12,535.53 424.17,535.25 424.21,534.97 424.26,534.68 424.30,534.40 424.35,534.11 424.39,533.83 424.44,533.54 424.48,533.26 424.53,532.98 424.58,532.69 424.62,532.41 424.67,532.12 424.71,531.84 424.76,531.56 424.81,531.27 424.85,530.99 424.90,530.71 424.95,530.42 425.00,530.14 425.05,529.86 425.09,529.57 425.14,529.29 425.19,529.01 425.24,528.72 425.29,528.44 425.34,528.16 425.39,527.87 425.44,527.59 425.49,527.31 425.55,527.03 425.60,526.75 425.65,526.46 425.70,526.18 425.76,525.90 425.81,525.62 425.86,525.34 425.92,525.06 425.97,524.77 426.03,524.49 426.08,524.21 426.14,523.93 426.20,523.65 426.26,523.37 426.31,523.09 426.37,522.81 426.43,522.53 426.49,522.25 426.55,521.97 426.61,521.69 426.68,521.42 426.74,521.14 426.80,520.86 426.86,520.58 426.93,520.30 426.99,520.02 427.06,519.75 427.13,519.47 427.20,519.19 427.27,518.92 427.34,518.64 427.42,518.36 427.50,518.09 427.57,517.81 427.65,517.54 427.73,517.26 427.82,516.99 427.90,516.71 427.98,516.44 428.07,516.16 428.16,515.89 428.24,515.61 428.33,515.34 428.42,515.07 428.51,514.79 428.60,514.52 428.69,514.25 428.78,513.97 428.88,513.70 428.97,513.43 429.06,513.15 429.15,512.88 429.25,512.61 429.34,512.34 429.43,512.06 429.53,511.79 429.62,511.52 429.71,511.25 429.80,510.98 429.90,510.70 429.99,510.43 430.08,510.16 430.17,509.89 430.26,509.62 430.35,509.34 430.45,509.07 430.54,508.80 430.63,508.53 430.72,508.26 430.82,507.98 430.91,507.71 431.00,507.44 431.10,507.17 431.19,506.90 431.28,506.63 431.38,506.35 431.48,506.08 431.57,505.81 431.67,505.54 431.77,505.27 431.86,505.00 431.96,504.73 432.06,504.46 432.16,504.19 432.26,503.92 432.36,503.65 432.46,503.39 432.56,503.12 432.67,502.85 432.77,502.58 432.88,502.32 432.98,502.05 433.09,501.78 433.19,501.51 433.30,501.25 433.40,500.98 433.51,500.71 433.61,500.44 433.72,500.17 433.82,499.90 433.93,499.63 434.03,499.36 434.14,499.09 434.25,498.82 434.36,498.55 434.47,498.28 434.59,498.01 434.70,497.75 434.82,497.49 434.94,497.22 435.06,496.96 435.18,496.71 435.31,496.45 435.43,496.19 435.57,495.94 435.70,495.69 435.84,495.45 435.98,495.20 436.12,494.96 436.27,494.73 436.43,494.49 436.60,494.26 436.77,494.03 436.95,493.81 437.13,493.59 437.32,493.36 437.51,493.15 437.71,492.93 437.90,492.71 438.10,492.50" fill="none" stroke="#a0a0a0" stroke-width="0.8" stroke-linejoin="round" stroke-linecap="round" />
<polyline points="427.50,575.20 427.50,574.50 427.50,573.79 427.50,573.09 427.50,572.39 427.50,571.68 427.50,570.98 427.50,570.27 427.50,569.57 427.50,568.87 427.50,568.16 427.50,567.46 427.50,566.76 427.50,566.05 427.50,565.35 427.50,564.64 427.50,563.94 427.50,563.24 427.50,562.53 427.50,561.83 427.50,561.13 427.50,560.42 427.50,559.72 427.50,559.01 427.50,558.31 427.50,557.61 427.50,556.90 427.50,556.20 427.50,555.50 427.50,554.79 427.50,554.09 427.50,553.39 427.50,552.68 427.50,551.98 427.50,551.27 427.50,550.57 427.50,549.87 427.50,549.16 427.50,548.46 427.50,547.76 427.50,547.05 427.50,546.35 427.50,545.64 427.50,544.94 427.50,544.24 427.50,543.53 427.50,542.83 427.50,542.13 427.50,541.42 427.50,540.72 427.50,540.01 427.50,539.31 427.50,538.61 427.50,537.90 427.50,537.20 427.50,536.50 427.50,535.79 427.50,535.09 427.50,534.39 427.50,533.68 427.50,532.98 427.50,532.27 427.50,531.57 427.50,530.87 427.50,530.16 427.50,529.46 427.50,528.76 427.50,528.05 427.51,527.35 427.51,526.64 427.52,525.94 427.52,525.24 427.53,524.53 427.53,523.83 427.54,523.12 427.55,522.42 427.56,521.72 427.57,521.01 427.58,520.31 427.59,519.61 427.60,518.90 427.62,518.20 427.63,517.49 427.64,516.79 427.66,516.09 427.67,515.38 427.69,514.68 427.70,513.98 427.72,513.27 427.74,512.57 427.75,511.87 427.77,511.16 427.79,510.46 427.81,509.76 427.83,509.05 427.85,508.35 427.88,507.64 427.91,506.94 427.94,506.23 427.98,505.52 428.01,504.82 428.06,504.11 428.10,503.41 428.15,502.70 428.21,502.00 428.27,501.30 428.33,500.60 428.40,499.90 428.47,499.21 428.54,498.52 428.62,497.82 428.72,497.04 428.83,496.18 428.97,495.30 429.14,494.45 429.34,493.69 429.57,493.07 429.84,492.65 430.16,492.49 430.77,492.44 431.58,492.41 432.32,492.41 433.06,492.46 433.76,492.54 434.36,492.67 434.90,492.94 435.41,493.36 435.89,493.89 436.35,494.50 436.79,495.15 437.22,495.82 437.63,496.46 438.04,497.05 438.44,497.63 438.81,498.21 439.18,498.81 439.53,499.42 439.88,500.04 440.22,500.66 440.56,501.28 440.91,501.89 441.26,502.51 441.62,503.11 441.99,503.71 442.37,504.30 442.75,504.90 443.13,505.49 443.51,506.08 443.90,506.67 444.28,507.26 444.67,507.84 445.06,508.43 445.45,509.01 445.85,509.60 446.25,510.18 446.64,510.76 447.04,511.34 447.45,511.92 447.85,512.49 448.25,513.07 448.66,513.64 449.07,514.22 449.48,514.79 449.89,515.36 450.30,515.93 450.72,516.49 451.14,517.06 451.56,517.62 451.98,518.19 452.41,518.75 452.83,519.31 453.26,519.87 453.69,520.43 454.12,520.98 454.55,521.54 454.98,522.10 455.42,522.65 455.85,523.20 456.29,523.76 456.73,524.31 457.16,524.86 457.60,525.41 458.04,525.96 458.48,526.50 458.93,527.05 459.37,527.59 459.82,528.14 460.27,528.68 460.72,529.22 461.18,529.75 461.63,530.29 462.09,530.83 462.55,531.36 463.00,531.90 463.46,532.44 463.91,532.98 464.36,533.52 464.81,534.06 465.26,534.60 465.71,535.15 466.17,535.68 466.62,536.22 467.08,536.76 467.55,537.29 468.01,537.81 468.49,538.33 468.96,538.84 469.45,539.35 469.94,539.85 470.43,540.36 470.93,540.87 471.43,541.37 471.93,541.87 472.45,542.36 472.97,542.84 473.50,543.30 474.03,543.75 474.58,544.18 475.13,544.60 475.70,544.99 476.29,545.38 476.89,545.75 477.49,546.11 478.11,546.47 478.73,546.81 479.35,547.15 479.98,547.47 480.60,547.80 481.23,548.12 481.86,548.42 482.51,548.71 483.16,548.99 483.81,549.26 484.47,549.53 485.12,549.80 485.77,550.07 486.42,550.35 487.06,550.63 487.69,550.94 488.31,551.25 488.92,551.59 489.52,551.94 490.11,552.31 490.70,552.70 491.28,553.09 491.85,553.51 492.42,553.93 492.99,554.36 493.55,554.80 494.11,555.24 494.66,555.70 495.22,556.15 495.77,556.61 496.32,557.07 496.87,557.53 497.43,557.98 497.98,558.44 498.53,558.89 499.09,559.33 499.65,559.77 500.21,560.20 500.78,560.62 501.35,561.02 501.92,561.42 502.50,561.80 503.09,562.16 503.69,562.51 504.29,562.84 504.90,563.15 505.51,563.44 506.13,563.74 506.75,564.03 507.38,564.31 508.01,564.60 508.64,564.88 509.28,565.15 509.92,565.43 510.56,565.69 511.20,565.96 511.85,566.22 512.51,566.48 513.16,566.73 513.82,566.98 514.48,567.22 515.15,567.46 515.82,567.69 516.49,567.92 517.16,568.14 517.84,568.35 518.52,568.56 519.21,568.77 519.89,568.96 520.58,569.16 521.28,569.34 521.97,569.52 522.67,569.69 523.37,569.85 524.08,570.01 524.79,570.16 525.50,570.30" fill="none" stroke="#707070" stroke-width="0.75" stroke-linejoin="round" stroke-linecap="round" stroke-dasharray="3.2,2.2"/>
<polyline points="427.00,575.20 427.08,574.57 427.17,573.94 427.25,573.32 427.33,572.69 427.42,572.06 427.50,571.44 427.59,570.81 427.68,570.18 427.76,569.55 427.85,568.93 427.94,568.30 428.02,567.67 428.11,567.05 428.20,566.42 428.29,565.79 428.38,565.17 428.47,564.54 428.56,563.91 428.65,563.29 428.74,562.66 428.84,562.04 428.93,561.41 429.02,560.78 429.11,560.16 429.21,559.53 429.30,558.91 429.39,558.28 429.49,557.65 429.58,557.03 429.68,556.40 429.78,555.78 429.87,555.15 429.97,554.53 430.07,553.90 430.16,553.28 430.26,552.65 430.36,552.03 430.46,551.40 430.56,550.78 430.66,550.15 430.75,549.53 430.85,548.90 430.96,548.28 431.06,547.65 431.16,547.03 431.25,546.40 431.35,545.77 431.45,545.15 431.54,544.52 431.64,543.89 431.73,543.26 431.83,542.63 431.92,542.00 432.01,541.37 432.11,540.74 432.20,540.11 432.29,539.48 432.39,538.85 432.48,538.22 432.58,537.59 432.67,536.96 432.77,536.33 432.87,535.70 432.97,535.07 433.07,534.44 433.17,533.81 433.27,533.19 433.37,532.56 433.48,531.93 433.58,531.31 433.69,530.68 433.80,530.06 433.92,529.43 434.03,528.81 434.15,528.19 434.27,527.57 434.39,526.95 434.52,526.33 434.64,525.72 434.77,525.10 434.91,524.49 435.04,523.87 435.18,523.26 435.33,522.65 435.47,522.05 435.62,521.44 435.78,520.84 435.94,520.24 436.10,519.64 436.29,519.04 436.51,518.45 436.74,517.87 436.99,517.28 437.26,516.70 437.53,516.13 437.81,515.55 438.09,514.97 438.37,514.40 438.65,513.82 438.92,513.24 439.18,512.66 439.43,512.07 439.65,511.48 439.86,510.89 440.05,510.30 440.21,509.69 440.35,509.08 440.49,508.47 440.61,507.85 440.73,507.23 440.84,506.60 440.95,505.98 441.05,505.34 441.14,504.71 441.24,504.08 441.33,503.45 441.43,502.81 441.53,502.18 441.63,501.55 441.73,500.93 441.84,500.30 441.96,499.68 442.09,499.06 442.22,498.45 442.37,497.84 442.53,497.24 442.71,496.62 442.89,495.91 443.10,495.14 443.32,494.38 443.58,493.68 443.86,493.10 444.18,492.69 444.53,492.50 445.00,492.51 445.64,492.53 446.36,492.56 447.01,492.60 447.60,492.70 448.17,492.90 448.73,493.17 449.28,493.50 449.83,493.88 450.36,494.28 450.89,494.69 451.42,495.09 451.94,495.46 452.46,495.81 452.98,496.18 453.49,496.55 454.00,496.93 454.50,497.31 455.00,497.70 455.50,498.10 455.99,498.50 456.48,498.91 456.96,499.32 457.44,499.74 457.91,500.16 458.38,500.58 458.84,501.01 459.30,501.44 459.75,501.88 460.19,502.33 460.64,502.78 461.07,503.24 461.51,503.70 461.94,504.17 462.37,504.63 462.80,505.10 463.23,505.57 463.65,506.04 464.08,506.51 464.51,506.97 464.94,507.44 465.37,507.90 465.80,508.37 466.23,508.84 466.65,509.31 467.07,509.78 467.49,510.25 467.91,510.73 468.33,511.20 468.75,511.68 469.18,512.15 469.60,512.62 470.02,513.09 470.45,513.56 470.88,514.02 471.31,514.48 471.75,514.94 472.19,515.39 472.63,515.84 473.08,516.29 473.53,516.73 473.98,517.17 474.43,517.62 474.88,518.06 475.34,518.49 475.80,518.93 476.26,519.37 476.72,519.80 477.18,520.23 477.64,520.66 478.11,521.09 478.57,521.52 479.04,521.95 479.51,522.38 479.98,522.80 480.45,523.23 480.92,523.66 481.39,524.08 481.86,524.50 482.33,524.93 482.80,525.35 483.28,525.77 483.75,526.19 484.22,526.61 484.69,527.03 485.17,527.46 485.64,527.88 486.11,528.30 486.58,528.72 487.05,529.14 487.52,529.56 488.00,529.99 488.47,530.41 488.94,530.83 489.41,531.26 489.89,531.68 490.36,532.10 490.83,532.52 491.31,532.94 491.78,533.36 492.26,533.78 492.74,534.19 493.21,534.61 493.69,535.02 494.17,535.44 494.66,535.85 495.14,536.25 495.63,536.66 496.11,537.06 496.60,537.47 497.09,537.86 497.58,538.26 498.08,538.65 498.57,539.04 499.07,539.43 499.57,539.82 500.07,540.20 500.58,540.58 501.08,540.96 501.59,541.33 502.10,541.71 502.61,542.08 503.13,542.45 503.64,542.82 504.16,543.18 504.68,543.55 505.19,543.91 505.71,544.28 506.24,544.64 506.76,544.99 507.28,545.35 507.81,545.71 508.33,546.06 508.86,546.42 509.38,546.77 509.91,547.12 510.44,547.47 510.97,547.82 511.49,548.17 512.02,548.51 512.55,548.86 513.08,549.21 513.61,549.55 514.14,549.89 514.68,550.23 515.21,550.57 515.74,550.91 516.28,551.25 516.81,551.59 517.35,551.92 517.89,552.26 518.43,552.59 518.96,552.92 519.50,553.25 520.05,553.58 520.59,553.91 521.13,554.23 521.67,554.56 522.22,554.88 522.76,555.21 523.31,555.53 523.85,555.85 524.40,556.17 524.95,556.48 525.50,556.80" fill="none" stroke="#707070" stroke-width="0.75" stroke-linejoin="round" stroke-linecap="round" stroke-dasharray="3.2,2.2"/>
<polyline points="440.00,492.40 440.45,492.40 440.89,492.40 441.33,492.40 441.76,492.41 442.18,492.41 442.59,492.41 443.00,492.42 443.40,492.43 443.79,492.43 444.18,492.44 444.56,492.45 444.93,492.46 445.30,492.47 445.66,492.49 446.01,492.50 446.37,492.57 446.71,492.74 447.05,492.98 447.38,493.26 447.70,493.57 448.00,493.88 448.28,494.18 448.54,494.45 448.80,494.73 449.05,495.02 449.29,495.31 449.53,495.61 449.77,495.92 450.00,496.23 450.22,496.55 450.44,496.88 450.66,497.20 450.87,497.54 451.08,497.88 451.29,498.22 451.49,498.56 451.70,498.91 451.89,499.27 452.09,499.62 452.28,499.98 452.48,500.34 452.67,500.70 452.86,501.07 453.04,501.43 453.23,501.80 453.42,502.17 453.60,502.54 453.79,502.90 453.98,503.27 454.17,503.64 454.35,504.01 454.54,504.37 454.73,504.74 454.93,505.10 455.12,505.46 455.32,505.82 455.51,506.18 455.72,506.54 455.92,506.89 456.13,507.23 456.34,507.58 456.55,507.92 456.76,508.26 456.98,508.59 457.20,508.93 457.42,509.27 457.64,509.60 457.86,509.94 458.08,510.27 458.30,510.61 458.52,510.94 458.74,511.28 458.96,511.61 459.18,511.95 459.41,512.28 459.63,512.61 459.86,512.95 460.08,513.28 460.31,513.61 460.53,513.94 460.76,514.27 460.99,514.60 461.21,514.93 461.44,515.26 461.67,515.59 461.90,515.92 462.13,516.25 462.36,516.58 462.59,516.91 462.82,517.24 463.05,517.57 463.29,517.89 463.52,518.22 463.75,518.55 463.98,518.87 464.22,519.20 464.45,519.52 464.69,519.85 464.92,520.17 465.16,520.49 465.40,520.81 465.64,521.13 465.89,521.45 466.13,521.77 466.38,522.09 466.63,522.40 466.88,522.72 467.13,523.03 467.37,523.35 467.62,523.66 467.87,523.98 468.12,524.29 468.37,524.61 468.62,524.93 468.86,525.24 469.11,525.56 469.35,525.88 469.59,526.20 469.83,526.52 470.07,526.84 470.30,527.17 470.54,527.49 470.77,527.82 470.99,528.15 471.22,528.48 471.44,528.81 471.66,529.15 471.88,529.48 472.10,529.82 472.32,530.16 472.54,530.50 472.75,530.84 472.97,531.18 473.18,531.52 473.39,531.86 473.61,532.20 473.82,532.54 474.03,532.88 474.25,533.22 474.46,533.56 474.67,533.90 474.89,534.24 475.10,534.58 475.32,534.92 475.54,535.26 475.76,535.59 475.98,535.93 476.20,536.26 476.42,536.59 476.65,536.93 476.88,537.25 477.11,537.58 477.34,537.91 477.57,538.23 477.81,538.55 478.05,538.87 478.29,539.19 478.54,539.50 478.79,539.82 479.03,540.13 479.28,540.45 479.54,540.76 479.79,541.07 480.05,541.38 480.30,541.69 480.56,542.00 480.82,542.30 481.08,542.61 481.34,542.92 481.60,543.22 481.86,543.53 482.12,543.83 482.39,544.14 482.65,544.44 482.91,544.74 483.18,545.05 483.44,545.35 483.70,545.65 483.96,545.96 484.22,546.26 484.49,546.57 484.75,546.87 485.00,547.18 485.26,547.49 485.52,547.80 485.78,548.11 486.04,548.42 486.30,548.74 486.56,549.05 486.82,549.36 487.08,549.66 487.34,549.97 487.61,550.28 487.87,550.58 488.14,550.89 488.40,551.19 488.67,551.48 488.95,551.78 489.22,552.07 489.49,552.36 489.77,552.64 490.05,552.93 490.34,553.20 490.62,553.48 490.91,553.74 491.21,554.01 491.50,554.27 491.80,554.53 492.11,554.79 492.41,555.05 492.72,555.30 493.03,555.56 493.34,555.82 493.66,556.07 493.98,556.32 494.30,556.57 494.62,556.82 494.95,557.07 495.27,557.31 495.60,557.55 495.93,557.79 496.27,558.02 496.60,558.25 496.94,558.48 497.28,558.70 497.62,558.92 497.96,559.13 498.30,559.34 498.64,559.54 498.99,559.74 499.33,559.94 499.68,560.13 500.03,560.31 500.38,560.49 500.73,560.66 501.08,560.84 501.44,561.01 501.80,561.18 502.16,561.35 502.52,561.51 502.89,561.68 503.26,561.84 503.63,562.00 504.00,562.16 504.37,562.31 504.75,562.47 505.12,562.62 505.50,562.77 505.88,562.91 506.26,563.06 506.64,563.20 507.02,563.33 507.41,563.47 507.79,563.60 508.18,563.73 508.56,563.85 508.95,563.97 509.33,564.09 509.72,564.21 510.11,564.32 510.49,564.42 510.88,564.53 511.27,564.62 511.65,564.72 512.04,564.81 512.42,564.90 512.81,564.99 513.20,565.07 513.59,565.16 513.97,565.24 514.36,565.33 514.75,565.41 515.14,565.49 515.53,565.58 515.93,565.66 516.32,565.73 516.71,565.81 517.10,565.89 517.50,565.96 517.89,566.03 518.29,566.11 518.68,566.17 519.08,566.24 519.47,566.31 519.87,566.37 520.27,566.43 520.67,566.49 521.07,566.55 521.47,566.60 521.87,566.65 522.27,566.70 522.67,566.75 523.07,566.79 523.48,566.84 523.88,566.87 524.28,566.91 524.69,566.94 525.09,566.97 525.50,567.00" fill="none" stroke="#707070" stroke-width="0.75" stroke-linejoin="round" stroke-linecap="round" stroke-dasharray="3.2,2.2"/>
<polyline points="441.00,492.40 441.40,492.40 441.80,492.41 442.19,492.42 442.57,492.44 442.96,492.46 443.34,492.49 443.71,492.52 444.08,492.56 444.45,492.60 444.82,492.65 445.18,492.69 445.54,492.75 445.89,492.80 446.25,492.86 446.60,492.92 446.94,492.99 447.29,493.07 447.66,493.20 448.03,493.37 448.38,493.57 448.70,493.78 448.99,494.00 449.22,494.23 449.43,494.45 449.62,494.70 449.81,494.95 450.00,495.22 450.17,495.50 450.34,495.80 450.50,496.10 450.66,496.41 450.81,496.74 450.95,497.07 451.09,497.41 451.23,497.76 451.36,498.11 451.49,498.48 451.61,498.84 451.73,499.22 451.85,499.59 451.96,499.97 452.08,500.36 452.19,500.75 452.30,501.13 452.41,501.52 452.52,501.92 452.63,502.31 452.73,502.70 452.84,503.09 452.95,503.47 453.06,503.86 453.17,504.24 453.28,504.62 453.40,504.99 453.52,505.36 453.63,505.72 453.76,506.08 453.88,506.43 454.01,506.78 454.13,507.13 454.26,507.49 454.38,507.84 454.50,508.19 454.63,508.54 454.75,508.89 454.87,509.25 454.99,509.60 455.12,509.95 455.24,510.30 455.36,510.66 455.48,511.01 455.60,511.36 455.72,511.72 455.84,512.07 455.96,512.42 456.07,512.78 456.19,513.13 456.31,513.49 456.43,513.84 456.54,514.19 456.66,514.55 456.78,514.90 456.89,515.26 457.01,515.61 457.12,515.97 457.24,516.32 457.35,516.68 457.47,517.03 457.58,517.39 457.69,517.74 457.81,518.10 457.92,518.45 458.03,518.81 458.14,519.17 458.25,519.52 458.36,519.88 458.47,520.23 458.58,520.59 458.69,520.95 458.80,521.30 458.91,521.66 459.02,522.02 459.13,522.37 459.23,522.73 459.34,523.09 459.45,523.45 459.56,523.80 459.66,524.16 459.77,524.52 459.87,524.88 459.98,525.23 460.08,525.59 460.19,525.95 460.29,526.31 460.40,526.67 460.50,527.03 460.60,527.38 460.70,527.74 460.81,528.10 460.91,528.46 461.01,528.82 461.11,529.18 461.21,529.54 461.31,529.90 461.41,530.26 461.51,530.62 461.61,530.98 461.71,531.34 461.80,531.70 461.90,532.06 462.00,532.42 462.09,532.78 462.19,533.14 462.28,533.50 462.37,533.86 462.46,534.22 462.55,534.58 462.64,534.95 462.73,535.31 462.82,535.67 462.90,536.03 462.99,536.40 463.08,536.76 463.17,537.12 463.25,537.49 463.34,537.85 463.43,538.21 463.52,538.57 463.62,538.93 463.71,539.29 463.81,539.65 463.90,540.01 464.00,540.37 464.10,540.73 464.20,541.09 464.30,541.45 464.40,541.81 464.51,542.17 464.61,542.53 464.71,542.89 464.81,543.25 464.92,543.61 465.02,543.97 465.13,544.32 465.24,544.68 465.35,545.04 465.46,545.40 465.57,545.75 465.68,546.11 465.79,546.47 465.90,546.82 466.02,547.18 466.14,547.53 466.25,547.88 466.37,548.24 466.50,548.59 466.62,548.94 466.74,549.29 466.87,549.64 467.00,549.99 467.13,550.34 467.26,550.69 467.39,551.03 467.53,551.38 467.67,551.73 467.81,552.07 467.95,552.42 468.09,552.77 468.24,553.11 468.39,553.45 468.54,553.80 468.70,554.14 468.85,554.48 469.01,554.82 469.17,555.15 469.33,555.49 469.50,555.82 469.67,556.16 469.84,556.49 470.01,556.81 470.18,557.14 470.36,557.47 470.54,557.80 470.72,558.12 470.91,558.45 471.10,558.78 471.29,559.10 471.48,559.42 471.68,559.74 471.88,560.06 472.08,560.38 472.29,560.69 472.50,561.01 472.72,561.31 472.93,561.62 473.15,561.92 473.37,562.21 473.60,562.50 473.83,562.79 474.06,563.07 474.30,563.35 474.54,563.63 474.79,563.90 475.05,564.17 475.31,564.44 475.57,564.70 475.84,564.96 476.12,565.22 476.39,565.48 476.67,565.73 476.96,565.98 477.24,566.23 477.53,566.47 477.82,566.71 478.11,566.95 478.40,567.19 478.70,567.41 478.99,567.64 479.28,567.86 479.58,568.08 479.88,568.30 480.18,568.52 480.48,568.74 480.79,568.95 481.10,569.16 481.41,569.37 481.72,569.58 482.04,569.79 482.36,569.99 482.68,570.19 483.00,570.39 483.32,570.58 483.65,570.77 483.97,570.95 484.30,571.14 484.63,571.31 484.96,571.49 485.29,571.65 485.62,571.82 485.95,571.98 486.29,572.13 486.62,572.29 486.96,572.45 487.30,572.61 487.64,572.77 487.99,572.93 488.33,573.09 488.68,573.24 489.03,573.39 489.38,573.54 489.73,573.68 490.08,573.82 490.44,573.95 490.79,574.07 491.15,574.18 491.50,574.28 491.86,574.38 492.22,574.46 492.58,574.53 492.94,574.59 493.30,574.64 493.66,574.69 494.03,574.74 494.39,574.79 494.76,574.83 495.12,574.88 495.49,574.92 495.86,574.96 496.23,575.00 496.60,575.03 496.98,575.07 497.35,575.10 497.73,575.12 498.10,575.15 498.48,575.16 498.86,575.18 499.24,575.19 499.62,575.20 500.00,575.20" fill="none" stroke="#707070" stroke-width="0.75" stroke-linejoin="round" stroke-linecap="round" stroke-dasharray="3.2,2.2"/>
<line x1="437.50" y1="492.40" x2="446.50" y2="492.40" stroke="#8a8a8a" stroke-width="0.8" />
<polyline points="417.20,575.20 417.25,574.92 417.29,574.65 417.34,574.37 417.39,574.09 417.43,573.82 417.48,573.54 417.53,573.26 417.57,572.99 417.62,572.71 417.67,572.43 417.71,572.16 417.76,571.88 417.81,571.60 417.85,571.33 417.90,571.05 417.95,570.77 418.00,570.50 418.04,570.22 418.09,569.94 418.14,569.67 418.18,569.39 418.23,569.11 418.28,568.84 418.32,568.56 418.37,568.29 418.42,568.01 418.47,567.73 418.51,567.46 418.56,567.18 418.61,566.90 418.65,566.63 418.70,566.35 418.75,566.07 418.80,565.80 418.84,565.52 418.89,565.24 418.94,564.97 418.98,564.69 419.03,564.41 419.08,564.14 419.13,563.86 419.17,563.58 419.22,563.31 419.27,563.03 419.32,562.75 419.36,562.48 419.41,562.20 419.46,561.93 419.51,561.65 419.55,561.37 419.60,561.10 419.65,560.82 419.70,560.54 419.74,560.27 419.79,559.99 419.84,559.71 419.89,559.44 419.93,559.16 419.98,558.88 420.03,558.61 420.08,558.33 420.12,558.06 420.17,557.78 420.22,557.50 420.27,557.23 420.32,556.95 420.36,556.67 420.41,556.40 420.46,556.12 420.51,555.84 420.55,555.57 420.60,555.29 420.65,555.01 420.70,554.74 420.75,554.46 420.79,554.19 420.84,553.91 420.89,553.63 420.94,553.36 420.99,553.08 421.03,552.80 421.08,552.53 421.13,552.25 421.18,551.97 421.23,551.70 421.28,551.42 421.33,551.15 421.38,550.87 421.43,550.59 421.48,550.32 421.53,550.04 421.58,549.77 421.63,549.49 421.68,549.21 421.73,548.94 421.78,548.66 421.84,548.39 421.89,548.11 421.94,547.83 421.99,547.56 422.04,547.28 422.09,547.01 422.15,546.73 422.20,546.45 422.25,546.18 422.30,545.90 422.35,545.63 422.41,545.35 422.46,545.07 422.51,544.80 422.56,544.52 422.61,544.25 422.67,543.97 422.72,543.70 422.77,543.42 422.82,543.14 422.87,542.87 422.92,542.59 422.98,542.32 423.03,542.04 423.08,541.76 423.13,541.49 423.18,541.21 423.23,540.94 423.28,540.66 423.33,540.38 423.38,540.11 423.43,539.83 423.48,539.56 423.53,539.28 423.58,539.00 423.63,538.73 423.68,538.45 423.72,538.17 423.77,537.90 423.82,537.62 423.87,537.34 423.91,537.07 423.96,536.79 424.01,536.52 424.05,536.24 424.10,535.96 424.14,535.69 424.19,535.41 424.23,535.13 424.28,534.85 424.32,534.58 424.36,534.30 424.40,534.02 424.45,533.75 424.49,533.47 424.53,533.19 424.57,532.92 424.61,532.64 424.65,532.36 424.69,532.08 424.73,531.81 424.77,531.53 424.80,531.25 424.84,530.97 424.88,530.70 424.91,530.42 424.95,530.14 424.99,529.86 425.02,529.58 425.06,529.31 425.10,529.03 425.13,528.75 425.17,528.47 425.20,528.19 425.23,527.91 425.27,527.64 425.30,527.36 425.34,527.08 425.37,526.80 425.40,526.52 425.44,526.24 425.47,525.97 425.50,525.69 425.54,525.41 425.57,525.13 425.60,524.85 425.63,524.57 425.66,524.29 425.70,524.02 425.73,523.74 425.76,523.46 425.79,523.18 425.82,522.90 425.85,522.62 425.88,522.34 425.91,522.06 425.94,521.78 425.97,521.50 426.01,521.23 426.04,520.95 426.07,520.67 426.10,520.39 426.13,520.11 426.16,519.83 426.19,519.55 426.22,519.27 426.25,518.99 426.28,518.71 426.31,518.44 426.34,518.16 426.37,517.88 426.40,517.60 426.43,517.32 426.46,517.04 426.48,516.76 426.51,516.48 426.54,516.20 426.57,515.92 426.60,515.64 426.63,515.37 426.66,515.09 426.69,514.81 426.72,514.53 426.75,514.25 426.78,513.97 426.81,513.69 426.85,513.41 426.88,513.13 426.91,512.85 426.94,512.58 426.97,512.30 427.00,512.02 427.03,511.74 427.06,511.46 427.09,511.18 427.12,510.90 427.14,510.62 427.17,510.34 427.20,510.06 427.22,509.78 427.25,509.50 427.27,509.22 427.30,508.94 427.32,508.65 427.35,508.37 427.37,508.09 427.40,507.81 427.42,507.53 427.44,507.25 427.47,506.97 427.49,506.68 427.51,506.40 427.54,506.12 427.56,505.84 427.59,505.56 427.61,505.28 427.64,505.00 427.66,504.71 427.69,504.43 427.71,504.15 427.74,503.87 427.77,503.59 427.79,503.31 427.82,503.03 427.85,502.75 427.88,502.48 427.91,502.20 427.94,501.92 427.97,501.64 428.01,501.36 428.04,501.09 428.07,500.81 428.11,500.53 428.15,500.26 428.19,499.98 428.22,499.71 428.27,499.43 428.31,499.16 428.35,498.89 428.39,498.61 428.44,498.34 428.49,498.07 428.54,497.80 428.59,497.53 428.66,497.26 428.72,496.99 428.80,496.72 428.88,496.46 428.96,496.19 429.05,495.92 429.14,495.66 429.23,495.39 429.33,495.13 429.43,494.86 429.53,494.60 429.64,494.33 429.74,494.07 429.85,493.81 429.96,493.55 430.07,493.28 430.18,493.02 430.29,492.76 430.40,492.50" fill="none" stroke="#707070" stroke-width="0.75" stroke-linejoin="round" stroke-linecap="round" stroke-dasharray="3.2,2.2"/>
<polyline points="427.00,575.20 427.20,575.20 427.40,575.19 427.60,575.18 427.80,575.17 428.00,575.15 428.20,575.13 428.40,575.10 428.60,575.07 428.80,575.04 429.00,575.00 429.20,574.94 429.40,574.85 429.60,574.71 429.80,574.53 430.00,574.32 430.20,574.02 430.40,573.40 430.60,572.48 430.80,571.34 431.00,570.05 431.20,568.68 431.40,567.28 431.60,565.65 431.80,563.78 432.00,561.71 432.20,559.50 432.40,557.19 432.60,554.76 432.80,552.06 433.00,549.13 433.20,546.08 433.40,543.00 433.60,539.76 433.80,536.34 434.00,533.00 434.20,530.00 434.40,527.34 434.60,524.81 434.80,522.42 435.00,520.16 435.20,518.01 435.40,515.98 435.60,514.06 435.80,512.31 436.00,510.67 436.20,509.10 436.40,507.52 436.60,505.87 436.80,504.07 437.00,502.05 437.20,499.97 437.40,498.05 437.60,496.50 437.80,495.14 438.00,493.85 438.20,492.88 438.40,492.50 438.60,492.77 438.80,493.49 439.00,494.53 439.20,495.74 439.40,497.00 439.60,498.46 439.80,500.30 440.00,502.43 440.20,504.76 440.40,507.17 440.60,509.59 440.80,511.91 441.00,514.07 441.20,516.22 441.40,518.39 441.60,520.56 441.80,522.71 442.00,524.85 442.20,526.95 442.40,529.01 442.60,531.00 442.80,532.95 443.00,534.89 443.20,536.80 443.40,538.68 443.60,540.51 443.80,542.30 444.00,544.03 444.20,545.69 444.40,547.29 444.60,548.84 444.80,550.36 445.00,551.83 445.20,553.26 445.40,554.64 445.60,555.98 445.80,557.26 446.00,558.50 446.20,559.72 446.40,560.93 446.60,562.12 446.80,563.27 447.00,564.35 447.20,565.35 447.40,566.24 447.60,567.00 447.80,567.67 448.00,568.31 448.20,568.91 448.40,569.46 448.60,569.98 448.80,570.46 449.00,570.90 449.20,571.29 449.40,571.64 449.60,571.95 449.80,572.24 450.00,572.51 450.20,572.77 450.40,573.00 450.60,573.22 450.80,573.42 451.00,573.61 451.20,573.78 451.40,573.93 451.60,574.07 451.80,574.20 452.00,574.34 452.20,574.46 452.40,574.58 452.60,574.69 452.80,574.79 453.00,574.87 453.20,574.93 453.40,574.98 453.60,575.01 453.80,575.04 454.00,575.07 454.20,575.09 454.40,575.11 454.60,575.13 454.80,575.15 455.00,575.16 455.20,575.18 455.40,575.19 455.60,575.19 455.80,575.20 456.00,575.20" fill="none" stroke="#7a7a7a" stroke-width="1.7" stroke-linejoin="round" stroke-linecap="round" />
<line x1="408.50" y1="484.20" x2="408.50" y2="576.00" stroke="#555555" stroke-width="1.0" />
<line x1="408.00" y1="575.50" x2="525.50" y2="575.50" stroke="#555555" stroke-width="1.0" />
<line x1="408.50" y1="574.84" x2="409.90" y2="574.84" stroke="#555555" stroke-width="0.8" />
<text transform="translate(405.30,578.34) scale(0.93,1)" font-size="9.68" text-anchor="end" font-weight="normal" fill="#000000"  stroke="#000000" stroke-width="0.12">0</text>
<line x1="408.50" y1="533.64" x2="409.90" y2="533.64" stroke="#555555" stroke-width="0.8" />
<line x1="408.50" y1="492.44" x2="409.90" y2="492.44" stroke="#555555" stroke-width="0.8" />
<text transform="translate(405.30,495.94) scale(0.93,1)" font-size="9.68" text-anchor="end" font-weight="normal" fill="#000000"  stroke="#000000" stroke-width="0.12">1</text>
<line x1="408.50" y1="575.50" x2="408.50" y2="574.10" stroke="#555555" stroke-width="0.8" />
<text transform="translate(408.00,585.30) scale(0.93,1)" font-size="9.68" text-anchor="middle" font-weight="normal" fill="#000000"  stroke="#000000" stroke-width="0.12">0</text>
<line x1="450.29" y1="575.50" x2="450.29" y2="574.10" stroke="#555555" stroke-width="0.8" />
<text transform="translate(449.79,585.30) scale(0.93,1)" font-size="9.68" text-anchor="middle" font-weight="normal" fill="#000000"  stroke="#000000" stroke-width="0.12">20</text>
<line x1="492.07" y1="575.50" x2="492.07" y2="574.10" stroke="#555555" stroke-width="0.8" />
<text transform="translate(491.57,585.30) scale(0.93,1)" font-size="9.68" text-anchor="middle" font-weight="normal" fill="#000000"  stroke="#000000" stroke-width="0.12">40</text>
<text transform="translate(475.70,595.30) scale(0.93,1)" font-size="10.11" text-anchor="middle" font-weight="normal" fill="#000000"  stroke="#000000" stroke-width="0.12">Time (s)</text>
<text transform="translate(391.70,531.70) rotate(-90)" font-size="9.2" text-anchor="middle" font-weight="normal" fill="#000000"  stroke="#000000" stroke-width="0.12">Amplitude (a.u.)</text>
<polyline points="564.50,575.21 564.59,564.94 564.68,555.08 564.78,546.04 564.87,538.22 564.96,532.03 565.05,526.90 565.15,522.02 565.24,517.42 565.33,513.15 565.42,509.25 565.52,505.78 565.61,502.76 565.70,500.25 565.79,498.29 565.89,496.91 565.98,495.87 566.07,494.87 566.16,493.91 566.26,493.00 566.35,492.13 566.44,491.30 566.53,490.52 566.63,489.79 566.72,489.10 566.81,488.46 566.90,487.87 566.99,487.33 567.09,486.84 567.18,486.40 567.27,486.01 567.36,485.68 567.46,485.40 567.55,485.17 567.64,485.00 567.73,484.89 567.83,484.83 567.92,484.83 568.01,484.86 568.10,484.91 568.20,485.00 568.29,485.11 568.38,485.24 568.47,485.39 568.57,485.56 568.66,485.76 568.75,485.96 568.84,486.19 568.94,486.43 569.03,486.68 569.12,486.94 569.21,487.22 569.30,487.50 569.40,487.79 569.49,488.08 569.58,488.38 569.67,488.67 569.77,488.97 569.86,489.27 569.95,489.57 570.04,489.86 570.14,490.15 570.23,490.46 570.32,490.78 570.41,491.12 570.51,491.48 570.60,491.86 570.69,492.25 570.78,492.65 570.88,493.06 570.97,493.49 571.06,493.93 571.15,494.38 571.25,494.84 571.34,495.31 571.43,495.78 571.52,496.27 571.61,496.76 571.71,497.25 571.80,497.75 571.89,498.25 571.98,498.75 572.08,499.26 572.17,499.77 572.26,500.27 572.35,500.78 572.45,501.28 572.54,501.78 572.63,502.28 572.72,502.78 572.82,503.26 572.91,503.75 573.00,504.22 573.09,504.69 573.19,505.15 573.28,505.62 573.37,506.10 573.46,506.57 573.56,507.05 573.65,507.54 573.74,508.03 573.83,508.51 573.92,509.01 574.02,509.50 574.11,509.99 574.20,510.48 574.29,510.98 574.39,511.47 574.48,511.96 574.57,512.45 574.66,512.94 574.76,513.43 574.85,513.91 574.94,514.39 575.03,514.87 575.13,515.35 575.22,515.82 575.31,516.28 575.40,516.74 575.50,517.20 575.59,517.64 575.68,518.09 575.77,518.52 575.87,518.95 575.96,519.37 576.05,519.78 576.14,520.19 576.23,520.60 576.33,521.01 576.42,521.41 576.51,521.81 576.60,522.20 576.70,522.59 576.79,522.99 576.88,523.37 576.97,523.76 577.07,524.14 577.16,524.52 577.25,524.90 577.34,525.27 577.44,525.65 577.53,526.02 577.62,526.38 577.71,526.75 577.81,527.11 577.90,527.48 577.99,527.84 578.08,528.19 578.18,528.55 578.27,528.90 578.36,529.26 578.45,529.61 578.54,529.96 578.64,530.31 578.73,530.65 578.82,531.00 578.91,531.34 579.01,531.68 579.10,532.02 579.19,532.36 579.28,532.70 579.38,533.04 579.47,533.38 579.56,533.71 579.65,534.05 579.75,534.38 579.84,534.72 579.93,535.05 580.02,535.39 580.12,535.72 580.21,536.05 580.30,536.39 580.39,536.72 580.49,537.05 580.58,537.38 580.67,537.71 580.76,538.04 580.85,538.37 580.95,538.70 581.04,539.03 581.13,539.35 581.22,539.68 581.32,540.00 581.41,540.32 581.50,540.65 581.59,540.96 581.69,541.28 581.78,541.60 581.87,541.91 581.96,542.22 582.06,542.53 582.15,542.84 582.24,543.15 582.33,543.45 582.43,543.76 582.52,544.06 582.61,544.35 582.70,544.65 582.80,544.94 582.89,545.23 582.98,545.52 583.07,545.80 583.16,546.08 583.26,546.36 583.35,546.64 583.44,546.91 583.53,547.18 583.63,547.45 583.72,547.71 583.81,547.97 583.90,548.23 584.00,548.48 584.09,548.73 584.18,548.98 584.27,549.22 584.37,549.46 584.46,549.70 584.55,549.94 584.64,550.17 584.74,550.40 584.83,550.64 584.92,550.86 585.01,551.09 585.11,551.31 585.20,551.54 585.29,551.76 585.38,551.97 585.47,552.19 585.57,552.41 585.66,552.62 585.75,552.83 585.84,553.04 585.94,553.24 586.03,553.45 586.12,553.65 586.21,553.85 586.31,554.05 586.40,554.25 586.49,554.44 586.58,554.63 586.68,554.83 586.77,555.02 586.86,555.21 586.95,555.39 587.05,555.58 587.14,555.76 587.23,555.94 587.32,556.12 587.46,556.40 587.69,556.85 587.92,557.29 588.15,557.73 588.39,558.15 588.62,558.56 588.85,558.96 589.08,559.35 589.31,559.73 589.54,560.11 589.77,560.47 590.00,560.83 590.23,561.17 590.46,561.51 590.70,561.84 590.93,562.16 591.16,562.48 591.39,562.78 591.62,563.08 591.85,563.38 592.08,563.66 592.31,563.94 592.54,564.21 592.77,564.48 593.01,564.73 593.24,564.99 593.47,565.23 593.70,565.47 593.93,565.71 594.16,565.94 594.39,566.16 594.62,566.38 594.85,566.59 595.08,566.80 595.32,567.00 595.55,567.20 595.78,567.39 596.01,567.58 596.24,567.77 596.47,567.94 596.70,568.12 596.93,568.29 597.16,568.46 597.39,568.62 597.63,568.78 597.86,568.93 598.09,569.09 598.32,569.23 598.55,569.38 598.78,569.52 599.01,569.65 599.24,569.79 599.47,569.92 599.70,570.05 599.94,570.17 600.17,570.29 600.40,570.41 600.63,570.53 600.86,570.64 601.09,570.75 601.32,570.86 601.55,570.96 601.78,571.06 602.01,571.16 602.25,571.26 602.48,571.36 602.71,571.45 602.94,571.54 603.17,571.63 603.40,571.72 603.63,571.80 603.86,571.88 604.09,571.96 604.32,572.04 604.56,572.12 604.79,572.19 605.02,572.26 605.25,572.34 605.48,572.40 605.71,572.47 605.94,572.54 606.17,572.60 606.40,572.67 606.63,572.73 606.87,572.79 607.10,572.85 607.33,572.90 607.56,572.96 607.79,573.01 608.02,573.07 608.25,573.12 608.48,573.17 608.71,573.22 608.94,573.27 609.18,573.31 609.41,573.36 609.64,573.40 609.87,573.45 610.10,573.49 610.33,573.53 610.56,573.57 610.79,573.61 611.02,573.65 611.25,573.69 611.49,573.72 611.72,573.76 611.95,573.79 612.18,573.83 612.41,573.86 612.64,573.89 612.87,573.93 613.10,573.96 613.33,573.99 613.56,574.02 613.80,574.05 614.03,574.07 614.26,574.10 614.49,574.13 614.72,574.15 614.95,574.18 615.18,574.20 615.41,574.23 615.64,574.25 615.87,574.28 616.11,574.30 616.34,574.32 616.57,574.34 616.80,574.36 617.03,574.38 617.26,574.40 617.49,574.42 617.72,574.44 617.95,574.46 618.18,574.48 618.42,574.50 618.65,574.51 618.88,574.53 619.11,574.55 619.34,574.56 619.57,574.58 619.80,574.59 620.03,574.61 620.26,574.62 620.49,574.64 620.73,574.65 620.96,574.66 621.19,574.68 621.42,574.69 621.65,574.70 621.88,574.72 622.11,574.73 622.34,574.74 622.57,574.75 622.80,574.76 623.04,574.77 623.27,574.78 623.50,574.79 623.73,574.80 623.96,574.81 624.19,574.82 624.42,574.83 624.65,574.84 624.88,574.85 625.11,574.86 625.35,574.87 625.58,574.88 625.81,574.88 626.04,574.89 626.27,574.90 626.50,574.91 626.73,574.91 626.96,574.92 627.19,574.93 627.42,574.94 627.66,574.94 627.89,574.95 628.12,574.95 628.35,574.96 628.58,574.97 628.81,574.97 629.04,574.98 629.27,574.98 629.50,574.99 629.73,575.00 629.97,575.00 630.20,575.01 630.43,575.01 630.66,575.02 630.89,575.02 631.12,575.02 631.35,575.03 631.58,575.03 631.81,575.04 632.04,575.04 632.28,575.05 632.51,575.05 632.74,575.05 632.97,575.06 633.20,575.06 633.43,575.07 633.66,575.07 633.89,575.07 634.12,575.08 634.35,575.08 634.59,575.08 634.82,575.09 635.05,575.09 635.28,575.09 635.51,575.09 635.74,575.10 635.97,575.10 636.20,575.10 636.43,575.11 636.66,575.11 636.90,575.11 637.13,575.11 637.36,575.12 637.59,575.12 637.82,575.12 638.05,575.12 638.28,575.12 638.51,575.13 638.74,575.13 638.97,575.13 639.21,575.13 639.44,575.13 639.67,575.14 639.90,575.14 640.13,575.14 640.36,575.14 640.59,575.14 640.82,575.14 641.05,575.15 641.28,575.15 641.52,575.15 641.75,575.15 641.98,575.15 642.21,575.15 642.44,575.16 642.67,575.16 642.90,575.16 643.13,575.16 643.36,575.16 643.59,575.16 643.83,575.16 644.06,575.16 644.29,575.17 644.52,575.17 644.75,575.17 644.98,575.17 645.21,575.17 645.44,575.17 645.67,575.17 645.90,575.17 646.14,575.17 646.37,575.17 646.60,575.18 646.83,575.18 647.06,575.18 647.29,575.18 647.52,575.18 647.75,575.18 647.98,575.18 648.21,575.18 648.45,575.18 648.68,575.18 648.91,575.18 649.14,575.18 649.37,575.18 649.60,575.19 649.83,575.19 650.06,575.19 650.29,575.19 650.52,575.19 650.76,575.19 650.99,575.19 651.22,575.19 651.45,575.19 651.68,575.19 651.91,575.19 652.14,575.19 652.37,575.19 652.60,575.19 652.83,575.19 653.07,575.19 653.30,575.19 653.53,575.19 653.76,575.19 653.99,575.20 654.22,575.20 654.45,575.20 654.68,575.20 654.91,575.20 655.14,575.20 655.38,575.20 655.61,575.20 655.84,575.20 656.07,575.20 656.30,575.20 656.53,575.20 656.76,575.20 656.99,575.20 657.22,575.20 657.45,575.20 657.69,575.20 657.92,575.20 658.15,575.20 658.38,575.20 658.61,575.20 658.84,575.20 659.07,575.20 659.30,575.20 659.53,575.20 659.76,575.20 660.00,575.20 660.23,575.20 660.46,575.20 660.69,575.20 660.92,575.20 661.15,575.20 661.38,575.20 661.61,575.20 661.84,575.20 662.07,575.21 662.31,575.21 662.54,575.21 662.77,575.21 663.00,575.21 663.23,575.21 663.46,575.21 663.69,575.21 663.92,575.21 664.15,575.21 664.38,575.21 664.62,575.21 664.85,575.21 665.08,575.21 665.31,575.21 665.54,575.21 665.77,575.21 666.00,575.21 666.23,575.21 666.46,575.21 666.69,575.21 666.93,575.21 667.16,575.21 667.39,575.21 667.62,575.21 667.85,575.21 668.08,575.21 668.31,575.21 668.54,575.21 668.77,575.21 669.00,575.21 669.24,575.21 669.47,575.21 669.70,575.21 669.93,575.21 670.16,575.21 670.39,575.21 670.62,575.21 670.85,575.21 671.08,575.21 671.31,575.21 671.55,575.21 671.78,575.21 672.01,575.21 672.24,575.21 672.47,575.21 672.70,575.21 672.93,575.21 673.16,575.21 673.39,575.21 673.62,575.21 673.86,575.21 674.09,575.21 674.32,575.21 674.55,575.21 674.78,575.21 675.01,575.21 675.24,575.21 675.47,575.21 675.70,575.21 675.93,575.21 676.17,575.21 676.40,575.21 676.63,575.21 676.86,575.21 677.09,575.21 677.32,575.21 677.55,575.21 677.78,575.21 678.01,575.21 678.24,575.21 678.48,575.21 678.71,575.21 678.94,575.21 679.17,575.21 679.40,575.21 679.63,575.21 679.86,575.21" fill="none" stroke="#d95319" stroke-width="1.8" stroke-linejoin="round" stroke-linecap="round" />
<polyline points="612.00,575.20 612.30,575.13 612.60,575.01 612.90,574.85 613.20,574.67 613.50,574.45 613.80,574.15 614.10,573.79 614.40,573.39 614.70,572.95 615.00,572.50 615.30,572.03 615.60,571.53 615.90,570.99 616.20,570.40 616.50,569.76 616.80,569.05 617.10,568.24 617.40,567.26 617.70,566.14 618.00,564.96 618.30,563.77 618.60,562.62 618.90,561.46 619.20,560.27 619.50,559.07 619.80,557.86 620.10,556.67 620.40,555.50 620.70,554.33 621.00,553.15 621.30,551.99 621.60,550.87 621.90,549.83 622.20,548.86 622.50,547.91 622.80,547.00 623.10,546.18 623.40,545.49 623.70,544.93 624.00,544.41 624.30,543.91 624.60,543.44 624.90,543.03 625.20,542.66 625.50,542.36 625.80,542.12 626.10,541.95 626.40,541.81 626.70,541.67 627.00,541.55 627.30,541.44 627.60,541.35 627.90,541.27 628.20,541.22 628.50,541.20 628.80,541.21 629.10,541.27 629.40,541.37 629.70,541.51 630.00,541.67 630.30,541.85 630.60,542.04 630.90,542.24 631.20,542.44 631.50,542.67 631.80,542.95 632.10,543.25 632.40,543.59 632.70,543.95 633.00,544.33 633.30,544.73 633.60,545.16 633.90,545.61 634.20,546.13 634.50,546.71 634.80,547.33 635.10,547.99 635.40,548.66 635.70,549.33 636.00,550.00 636.30,550.67 636.60,551.36 636.90,552.06 637.20,552.78 637.50,553.51 637.80,554.23 638.10,554.95 638.40,555.67 638.70,556.37 639.00,557.06 639.30,557.77 639.60,558.48 639.90,559.19 640.20,559.87 640.50,560.52 640.80,561.13 641.10,561.68 641.40,562.19 641.70,562.68 642.00,563.15 642.30,563.60 642.60,564.04 642.90,564.46 643.20,564.87 643.50,565.27 643.80,565.67 644.10,566.07 644.40,566.47 644.70,566.87 645.00,567.27 645.30,567.66 645.60,568.04 645.90,568.40 646.20,568.74 646.50,569.05 646.80,569.33 647.10,569.58 647.40,569.81 647.70,570.03 648.00,570.24 648.30,570.43 648.60,570.62 648.90,570.80 649.20,570.97 649.50,571.14 649.80,571.29 650.10,571.44 650.40,571.59 650.70,571.72 651.00,571.86 651.30,571.99 651.60,572.11 651.90,572.24 652.20,572.36 652.50,572.48 652.80,572.59 653.10,572.71 653.40,572.82 653.70,572.93 654.00,573.03 654.30,573.13 654.60,573.23 654.90,573.33 655.20,573.42 655.50,573.50 655.80,573.58 656.10,573.66 656.40,573.73 656.70,573.80 657.00,573.86 657.30,573.92 657.60,573.97 657.90,574.03 658.20,574.08 658.50,574.14 658.80,574.19 659.10,574.24 659.40,574.29 659.70,574.34 660.00,574.39 660.30,574.43 660.60,574.48 660.90,574.52 661.20,574.56 661.50,574.60 661.80,574.64 662.10,574.67 662.40,574.71 662.70,574.74 663.00,574.77 663.30,574.79 663.60,574.82 663.90,574.84 664.20,574.86 664.50,574.88 664.80,574.89 665.10,574.90 665.40,574.91 665.70,574.93 666.00,574.94 666.30,574.95 666.60,574.96 666.90,574.97 667.20,574.98 667.50,574.99 667.80,575.00 668.10,575.01 668.40,575.02 668.70,575.02 669.00,575.03 669.30,575.04 669.60,575.05 669.90,575.06 670.20,575.07 670.50,575.07 670.80,575.08 671.10,575.09 671.40,575.10 671.70,575.10 672.00,575.11 672.30,575.12 672.60,575.12 672.90,575.13 673.20,575.13 673.50,575.14 673.80,575.14 674.10,575.15 674.40,575.15 674.70,575.16 675.00,575.16 675.30,575.17 675.60,575.17 675.90,575.18 676.20,575.18 676.50,575.18 676.80,575.18 677.10,575.19 677.40,575.19 677.70,575.19 678.00,575.19 678.30,575.20 678.60,575.20 678.90,575.20 679.20,575.20 679.50,575.20 679.80,575.20" fill="none" stroke="#7f7f7f" stroke-width="1.7" stroke-linejoin="round" stroke-linecap="round" />
<line x1="564.50" y1="485.40" x2="564.50" y2="576.00" stroke="#555555" stroke-width="1.0" />
<line x1="564.00" y1="575.50" x2="680.00" y2="575.50" stroke="#555555" stroke-width="1.0" />
<line x1="563.90" y1="575.00" x2="563.90" y2="484.70" stroke="#a8a8a8" stroke-width="1.5" />
<line x1="564.50" y1="575.21" x2="565.90" y2="575.21" stroke="#555555" stroke-width="0.8" />
<text transform="translate(559.60,579.11) scale(0.93,1)" font-size="9.68" text-anchor="end" font-weight="normal" fill="#000000"  stroke="#000000" stroke-width="0.12">0</text>
<line x1="564.50" y1="546.43" x2="565.90" y2="546.43" stroke="#555555" stroke-width="0.8" />
<text transform="translate(559.60,550.33) scale(0.93,1)" font-size="9.68" text-anchor="end" font-weight="normal" fill="#000000"  stroke="#000000" stroke-width="0.12">1</text>
<line x1="564.50" y1="517.64" x2="565.90" y2="517.64" stroke="#555555" stroke-width="0.8" />
<text transform="translate(559.60,521.54) scale(0.93,1)" font-size="9.68" text-anchor="end" font-weight="normal" fill="#000000"  stroke="#000000" stroke-width="0.12">2</text>
<line x1="564.50" y1="488.85" x2="565.90" y2="488.85" stroke="#555555" stroke-width="0.8" />
<text transform="translate(559.60,492.75) scale(0.93,1)" font-size="9.68" text-anchor="end" font-weight="normal" fill="#000000"  stroke="#000000" stroke-width="0.12">3</text>
<line x1="587.60" y1="575.50" x2="587.60" y2="574.10" stroke="#555555" stroke-width="0.8" />
<text transform="translate(587.10,585.30) scale(0.93,1)" font-size="9.68" text-anchor="middle" font-weight="normal" fill="#000000"  stroke="#000000" stroke-width="0.12">5</text>
<line x1="633.80" y1="575.50" x2="633.80" y2="574.10" stroke="#555555" stroke-width="0.8" />
<text transform="translate(633.30,585.30) scale(0.93,1)" font-size="9.68" text-anchor="middle" font-weight="normal" fill="#000000"  stroke="#000000" stroke-width="0.12">15</text>
<text transform="translate(679.50,585.30) scale(0.93,1)" font-size="9.68" text-anchor="middle" font-weight="normal" fill="#000000"  stroke="#000000" stroke-width="0.12">25</text>
<text transform="translate(631.90,595.30) scale(0.93,1)" font-size="10.11" text-anchor="middle" font-weight="normal" fill="#000000"  stroke="#000000" stroke-width="0.12">Time (s)</text>
<text transform="translate(544.40,532.30) rotate(-90)" font-size="9.3" text-anchor="middle" font-weight="normal" fill="#000000"  stroke="#000000" stroke-width="0.12">Amplitude (a.u.)</text>
<text transform="translate(562.50,482.00) scale(0.93,1)" font-size="9.68" text-anchor="start" font-weight="normal" fill="#000000"  stroke="#000000" stroke-width="0.12">×10<tspan font-size="6.6" dy="-4.2">−3</tspan></text>
<polyline points="622.60,517.07 623.00,517.40 623.40,516.09 623.80,516.42 624.20,516.89 624.60,516.16 625.00,515.82 625.40,515.04 625.80,513.81 626.20,513.71 626.60,514.94 627.00,515.69 627.40,516.01 627.80,517.28 628.20,515.97 628.60,516.61 629.00,516.35 629.40,516.30 629.80,513.18 630.20,507.14 630.60,502.18 631.00,496.60 631.40,491.66 631.80,487.41 632.20,483.51 632.60,480.11 633.00,477.73 633.40,476.32 633.80,475.84 634.20,476.12 634.60,478.01 635.00,478.49 635.40,479.61 635.80,481.44 636.20,483.49 636.60,483.28 637.00,482.59 637.40,482.98 637.80,482.49 638.20,483.06 638.60,484.43 639.00,485.46 639.40,487.19 639.80,488.53 640.20,491.87 640.60,491.72 641.00,494.93 641.40,493.58 641.80,495.14 642.20,495.65 642.60,496.51 643.00,495.73 643.40,494.30 643.80,495.06 644.20,493.16 644.60,493.76 645.00,492.94 645.40,492.64 645.80,491.83 646.20,493.46 646.60,493.82 647.00,494.78 647.40,496.02 647.80,497.85 648.20,498.63 648.60,498.26 649.00,498.95 649.40,499.70 649.80,501.26 650.20,502.46 650.60,503.77 651.00,504.39 651.40,505.03 651.80,504.84 652.20,507.41 652.60,506.77 653.00,508.55 653.40,507.88 653.80,509.50 654.20,510.36 654.60,511.34 655.00,511.95 655.40,512.10 655.80,513.09 656.20,514.80 656.60,513.99 657.00,514.86 657.40,515.50 657.80,517.25 658.20,517.79 658.60,517.84 659.00,519.25 659.40,520.23 659.80,520.37 660.20,522.01 660.60,521.40 661.00,522.29 661.40,521.09 661.80,520.61 662.20,518.38 662.60,517.12 663.00,517.60 663.40,516.73 663.80,516.08 664.20,517.15 664.60,516.70 665.00,517.71 665.40,517.84 665.80,519.45 666.20,519.62 666.60,520.31 667.00,519.65 667.40,518.17 667.80,516.91 668.20,518.00 668.60,519.21 669.00,518.84 669.40,520.13 669.80,520.57 670.20,521.36 670.60,520.52 671.00,519.44 671.40,520.67 671.80,519.99 672.20,520.84 672.60,520.11 673.00,520.32 673.40,520.31 673.80,522.23 674.20,522.53 674.60,519.64 675.00,520.18 675.40,519.87 675.80,519.81 676.20,520.39" fill="none" stroke="#0072bd" stroke-width="1.9" stroke-linejoin="round" stroke-linecap="round" />
<polyline points="622.60,517.70 623.00,517.70 623.40,517.70 623.80,517.70 624.20,517.69 624.60,517.69 625.00,517.68 625.40,517.67 625.80,517.66 626.20,517.65 626.60,517.63 627.00,517.61 627.40,517.59 627.80,517.57 628.20,517.54 628.60,517.52 629.00,517.19 629.40,515.07 629.80,511.66 630.20,507.76 630.60,504.11 631.00,499.99 631.40,495.56 631.80,491.58 632.20,488.63 632.60,486.08 633.00,483.92 633.40,482.30 633.80,481.17 634.20,480.15 634.60,479.29 635.00,478.71 635.40,478.50 635.80,478.63 636.20,478.96 636.60,479.44 637.00,480.00 637.40,480.89 637.80,482.25 638.20,483.86 638.60,485.52 639.00,487.00 639.40,488.42 639.80,489.94 640.20,491.43 640.60,492.78 641.00,493.84 641.40,494.50 641.80,494.84 642.20,495.09 642.60,495.30 643.00,495.51 643.40,495.77 643.80,496.06 644.20,496.36 644.60,496.67 645.00,497.01 645.40,497.38 645.80,497.78 646.20,498.24 646.60,498.78 647.00,499.40 647.40,500.08 647.80,500.81 648.20,501.57 648.60,502.35 649.00,503.13 649.40,503.90 649.80,504.64 650.20,505.35 650.60,506.08 651.00,506.81 651.40,507.56 651.80,508.30 652.20,509.04 652.60,509.75 653.00,510.44 653.40,511.10 653.80,511.71 654.20,512.28 654.60,512.85 655.00,513.41 655.40,513.96 655.80,514.50 656.20,515.02 656.60,515.52 657.00,515.99 657.40,516.43 657.80,516.83 658.20,517.19 658.60,517.50 659.00,517.76 659.40,518.00 659.80,518.22 660.20,518.43 660.60,518.64 661.00,518.82 661.40,519.00 661.80,519.16 662.20,519.31 662.60,519.45 663.00,519.57 663.40,519.67 663.80,519.76 664.20,519.84 664.60,519.91 665.00,519.97 665.40,520.03 665.80,520.09 666.20,520.14 666.60,520.19 667.00,520.24 667.40,520.28 667.80,520.32 668.20,520.36 668.60,520.39 669.00,520.43 669.40,520.46 669.80,520.49 670.20,520.51 670.60,520.54 671.00,520.57 671.40,520.59 671.80,520.62 672.20,520.64 672.60,520.67 673.00,520.69 673.40,520.71 673.80,520.73 674.20,520.74 674.60,520.76 675.00,520.77 675.40,520.78 675.80,520.79 676.20,520.80" fill="none" stroke="#d95319" stroke-width="1.9" stroke-linejoin="round" stroke-linecap="round" />
<line x1="622.50" y1="474.50" x2="622.50" y2="525.00" stroke="#6a6a6a" stroke-width="1.0" />
<line x1="622.00" y1="524.50" x2="676.50" y2="524.50" stroke="#6a6a6a" stroke-width="1.0" />
<line x1="622.00" y1="474.50" x2="677.00" y2="474.50" stroke="#6a6a6a" stroke-width="1.0" />
<line x1="676.50" y1="474.50" x2="676.50" y2="525.00" stroke="#6a6a6a" stroke-width="1.0" />
<line x1="622.50" y1="524.50" x2="623.90" y2="524.50" stroke="#555555" stroke-width="0.8" />
<line x1="676.50" y1="524.50" x2="675.10" y2="524.50" stroke="#555555" stroke-width="0.8" />
<text transform="translate(619.30,528.20) scale(0.93,1)" font-size="9.68" text-anchor="end" font-weight="normal" fill="#000000"  stroke="#000000" stroke-width="0.12">0</text>
<line x1="622.50" y1="499.50" x2="623.90" y2="499.50" stroke="#555555" stroke-width="0.8" />
<line x1="676.50" y1="499.50" x2="675.10" y2="499.50" stroke="#555555" stroke-width="0.8" />
<text transform="translate(619.30,503.20) scale(0.93,1)" font-size="9.68" text-anchor="end" font-weight="normal" fill="#000000"  stroke="#000000" stroke-width="0.12">150</text>
<line x1="622.50" y1="474.50" x2="623.90" y2="474.50" stroke="#555555" stroke-width="0.8" />
<line x1="676.50" y1="474.50" x2="675.10" y2="474.50" stroke="#555555" stroke-width="0.8" />
<text transform="translate(619.30,478.20) scale(0.93,1)" font-size="9.68" text-anchor="end" font-weight="normal" fill="#000000"  stroke="#000000" stroke-width="0.12">300</text>
<line x1="622.50" y1="524.50" x2="622.50" y2="523.10" stroke="#555555" stroke-width="0.8" />
<line x1="622.50" y1="474.50" x2="622.50" y2="475.90" stroke="#555555" stroke-width="0.8" />
<text transform="translate(622.00,536.60) scale(0.93,1)" font-size="9.68" text-anchor="middle" font-weight="normal" fill="#000000"  stroke="#000000" stroke-width="0.12">5</text>
<line x1="671.10" y1="524.50" x2="671.10" y2="523.10" stroke="#555555" stroke-width="0.8" />
<line x1="671.10" y1="474.50" x2="671.10" y2="475.90" stroke="#555555" stroke-width="0.8" />
<text transform="translate(670.60,536.60) scale(0.93,1)" font-size="9.68" text-anchor="middle" font-weight="normal" fill="#000000"  stroke="#000000" stroke-width="0.12">50</text>
</svg></div></body></html>
